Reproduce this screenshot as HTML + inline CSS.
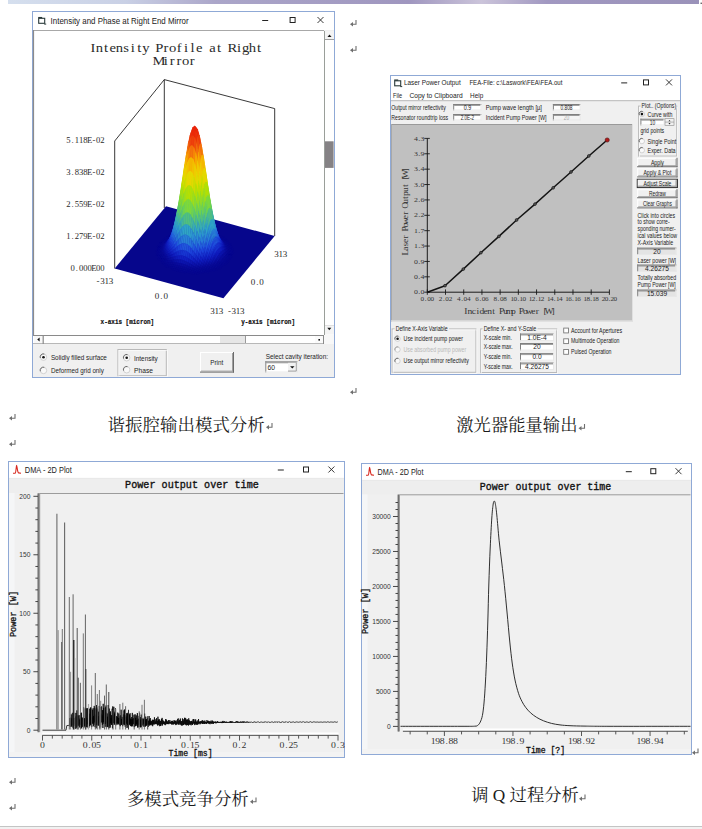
<!DOCTYPE html>
<html><head><meta charset="utf-8"><title>Laser simulation screenshots</title>
<style>html,body{margin:0;padding:0;background:#fff;width:702px;height:829px;overflow:hidden}</style>
</head><body>
<svg width="702" height="829" viewBox="0 0 702 829" style="display:block">
<defs>
<linearGradient id="topbar" x1="0" x2="1" y1="0" y2="0">
<stop offset="0" stop-color="#d5dfee"/><stop offset="0.17" stop-color="#c9d0e5"/>
<stop offset="0.3" stop-color="#aba6c9"/><stop offset="0.58" stop-color="#9f96bf"/>
<stop offset="0.685" stop-color="#cbc4da"/><stop offset="0.78" stop-color="#a198c1"/>
<stop offset="1" stop-color="#9a92b9"/></linearGradient>
</defs>
<rect x="0" y="0" width="702" height="829" fill="#ffffff"/>
<rect x="8" y="0" width="691" height="4" fill="url(#topbar)"/>
<rect x="700.5" y="2.6" width="1.5" height="1.4" fill="#6a6a6a"/>
<rect x="0" y="826" width="702" height="3" fill="#f1f1f1"/>
<line x1="0" y1="826.5" x2="702" y2="826.5" stroke="#c4c4c4" stroke-width="1"/>
<rect x="32.5" y="11.5" width="302" height="366" fill="#fff" stroke="#8fa9d6" stroke-width="1"/>
<rect x="38.7" y="18.3" width="6" height="5" fill="none" stroke="#2a3a3a" stroke-width="1.1"/>
<line x1="38.2" y1="17.6" x2="42.2" y2="17.6" stroke="#2a3a3a" stroke-width="1.3"/>
<line x1="44.2" y1="24.1" x2="46.2" y2="24.1" stroke="#2a3a3a" stroke-width="1"/>
<text x="50.6" y="23.6" font-family="'Liberation Sans',Arial,sans-serif" font-size="8.4" fill="#222" textLength="138" lengthAdjust="spacingAndGlyphs">Intensity and Phase at Right End Mirror</text>
<line x1="262.2" y1="20.5" x2="268.2" y2="20.5" stroke="#222" stroke-width="1"/>
<rect x="290.1" y="17.5" width="5" height="5" fill="none" stroke="#222" stroke-width="1"/>
<line x1="317.5" y1="17" x2="323.5" y2="23" stroke="#222" stroke-width="0.9"/>
<line x1="317.5" y1="23" x2="323.5" y2="17" stroke="#222" stroke-width="0.9"/>
<rect x="33" y="30" width="301" height="347" fill="#f0f0f0"/>
<rect x="34" y="31" width="290" height="304" fill="#ffffff"/>
<line x1="33" y1="30.5" x2="324" y2="30.5" stroke="#a8a8a8" stroke-width="1"/>
<line x1="33.5" y1="30" x2="33.5" y2="344" stroke="#8c8c8c" stroke-width="1.2"/>
<text x="74.09 78.54 85.32 89.78 94.89 101.01 107.12 112.57 116.69 123.64 127.26 134.05 138.50 144.95 150.73 156.18 160.64 167.25 171.54 177.98 183.60 186.55 194.34 198.45 203.91 210.69" y="52.2" font-family="'Liberation Serif',serif" font-size="12" fill="#2a2a2a" transform="scale(1.220,1)">Intensity&#160;Profile&#160;at&#160;Right</text>
<text x="125.01 134.13 139.25 144.70 149.15 155.60" y="64.9" font-family="'Liberation Serif',serif" font-size="12" fill="#2a2a2a" transform="scale(1.220,1)">Mirror</text>
<path d="M114.7,268.5 V141 L164.3,79.6 L274.7,108.6 V236" fill="none" stroke="#222" stroke-width="0.9"/>
<line x1="164.3" y1="79.6" x2="164.3" y2="208" stroke="#222" stroke-width="0.9"/>
<polygon points="114.7,268.5 223.4,298.2 274.7,236.0 166.0,206.3" fill="#06068c"/>
<polygon points="180.5,231.3 182.3,231.6 183.1,230.8 181.3,230.5" fill="#06078e" stroke="#06078e" stroke-width="0.35"/><polygon points="171.6,234.0 173.4,234.2 174.3,233.4 172.5,233.1" fill="#06078e" stroke="#06078e" stroke-width="0.35"/><polygon points="174.3,233.4 176.1,233.5 176.9,232.7 175.1,232.5" fill="#07078f" stroke="#07078f" stroke-width="0.35"/><polygon points="176.9,232.7 178.7,232.9 179.6,232.1 177.8,231.9" fill="#07078f" stroke="#07078f" stroke-width="0.35"/><polygon points="179.6,232.1 181.4,232.3 182.3,231.6 180.5,231.3" fill="#07078f" stroke="#07078f" stroke-width="0.35"/><polygon points="182.3,231.6 184.1,231.7 184.9,231.1 183.1,230.8" fill="#07078f" stroke="#07078f" stroke-width="0.35"/><polygon points="184.9,231.1 186.7,231.2 187.6,230.6 185.8,230.3" fill="#07078f" stroke="#07078f" stroke-width="0.35"/><polygon points="187.6,230.6 189.4,230.8 190.3,230.1 188.5,229.8" fill="#07078f" stroke="#07078f" stroke-width="0.35"/><polygon points="190.3,230.1 192.1,230.4 192.9,229.7 191.1,229.3" fill="#06078e" stroke="#06078e" stroke-width="0.35"/><polygon points="168.1,235.6 169.9,235.8 170.7,234.9 168.9,234.7" fill="#06078e" stroke="#06078e" stroke-width="0.35"/><polygon points="170.7,234.9 172.6,235.0 173.4,234.2 171.6,234.0" fill="#07078f" stroke="#07078f" stroke-width="0.35"/><polygon points="173.4,234.2 175.2,234.3 176.1,233.5 174.3,233.4" fill="#07078f" stroke="#07078f" stroke-width="0.35"/><polygon points="176.1,233.5 177.9,233.5 178.7,232.9 176.9,232.7" fill="#070890" stroke="#070890" stroke-width="0.35"/><polygon points="178.7,232.9 180.6,232.8 181.4,232.3 179.6,232.1" fill="#070890" stroke="#070890" stroke-width="0.35"/><polygon points="184.1,231.7 185.9,231.8 186.7,231.2 184.9,231.1" fill="#070890" stroke="#070890" stroke-width="0.35"/><polygon points="189.4,230.8 191.2,231.0 192.1,230.4 190.3,230.1" fill="#07078f" stroke="#07078f" stroke-width="0.35"/><polygon points="194.7,230.1 196.6,230.4 197.4,229.7 195.6,229.3" fill="#06078e" stroke="#06078e" stroke-width="0.35"/><polygon points="192.1,230.4 193.9,230.7 194.7,230.1 192.9,229.7" fill="#07078f" stroke="#07078f" stroke-width="0.35"/><polygon points="181.4,232.3 183.2,232.2 184.1,231.7 182.3,231.6" fill="#070891" stroke="#070891" stroke-width="0.35"/><polygon points="186.7,231.2 188.6,231.3 189.4,230.8 187.6,230.6" fill="#070890" stroke="#070890" stroke-width="0.35"/><polygon points="167.2,236.6 169.0,236.7 169.9,235.8 168.1,235.6" fill="#07078f" stroke="#07078f" stroke-width="0.35"/><polygon points="172.6,235.0 174.4,234.9 175.2,234.3 173.4,234.2" fill="#070891" stroke="#070891" stroke-width="0.35"/><polygon points="191.2,231.0 193.0,231.1 193.9,230.7 192.1,230.4" fill="#070891" stroke="#070891" stroke-width="0.35"/><polygon points="196.6,230.4 198.4,230.7 199.2,230.1 197.4,229.7" fill="#07078f" stroke="#07078f" stroke-width="0.35"/><polygon points="169.9,235.8 171.7,235.8 172.6,235.0 170.7,234.9" fill="#070790" stroke="#070790" stroke-width="0.35"/><polygon points="175.2,234.3 177.0,234.1 177.9,233.5 176.1,233.5" fill="#070891" stroke="#070891" stroke-width="0.35"/><polygon points="177.9,233.5 179.7,233.3 180.6,232.8 178.7,232.9" fill="#070892" stroke="#070892" stroke-width="0.35"/><polygon points="180.6,232.8 182.4,232.6 183.2,232.2 181.4,232.3" fill="#070993" stroke="#070993" stroke-width="0.35"/><polygon points="185.9,231.8 187.7,231.7 188.6,231.3 186.7,231.2" fill="#070892" stroke="#070892" stroke-width="0.35"/><polygon points="188.6,231.3 190.4,231.4 191.2,231.0 189.4,230.8" fill="#070891" stroke="#070891" stroke-width="0.35"/><polygon points="193.9,230.7 195.7,230.9 196.6,230.4 194.7,230.1" fill="#070790" stroke="#070790" stroke-width="0.35"/><polygon points="183.2,232.2 185.0,232.1 185.9,231.8 184.1,231.7" fill="#070993" stroke="#070993" stroke-width="0.35"/><polygon points="169.0,236.7 170.8,236.6 171.7,235.8 169.9,235.8" fill="#070890" stroke="#070890" stroke-width="0.35"/><polygon points="174.4,234.9 176.2,234.5 177.0,234.1 175.2,234.3" fill="#070993" stroke="#070993" stroke-width="0.35"/><polygon points="187.7,231.7 189.5,231.4 190.4,231.4 188.6,231.3" fill="#080994" stroke="#080994" stroke-width="0.35"/><polygon points="193.0,231.1 194.8,231.2 195.7,230.9 193.9,230.7" fill="#070892" stroke="#070892" stroke-width="0.35"/><polygon points="198.4,230.7 200.2,231.1 201.0,230.5 199.2,230.1" fill="#07078f" stroke="#07078f" stroke-width="0.35"/><polygon points="166.4,237.5 168.2,237.6 169.0,236.7 167.2,236.6" fill="#07078f" stroke="#07078f" stroke-width="0.35"/><polygon points="171.7,235.8 173.5,235.6 174.4,234.9 172.6,235.0" fill="#070892" stroke="#070892" stroke-width="0.35"/><polygon points="177.0,234.1 178.8,233.6 179.7,233.3 177.9,233.5" fill="#080994" stroke="#080994" stroke-width="0.35"/><polygon points="179.7,233.3 181.5,232.8 182.4,232.6 180.6,232.8" fill="#080a95" stroke="#080a95" stroke-width="0.35"/><polygon points="182.4,232.6 184.2,232.2 185.0,232.1 183.2,232.2" fill="#080a95" stroke="#080a95" stroke-width="0.35"/><polygon points="190.4,231.4 192.2,231.3 193.0,231.1 191.2,231.0" fill="#070993" stroke="#070993" stroke-width="0.35"/><polygon points="195.7,230.9 197.5,231.2 198.4,230.7 196.6,230.4" fill="#070890" stroke="#070890" stroke-width="0.35"/><polygon points="185.0,232.1 186.8,231.7 187.7,231.7 185.9,231.8" fill="#080a95" stroke="#080a95" stroke-width="0.35"/><polygon points="200.2,231.1 202.0,231.4 202.8,230.9 201.0,230.5" fill="#070790" stroke="#070790" stroke-width="0.35"/><polygon points="165.5,238.5 167.3,238.4 168.2,237.6 166.4,237.5" fill="#070790" stroke="#070790" stroke-width="0.35"/><polygon points="170.8,236.6 172.7,236.2 173.5,235.6 171.7,235.8" fill="#070993" stroke="#070993" stroke-width="0.35"/><polygon points="176.2,234.5 178.0,233.8 178.8,233.6 177.0,234.1" fill="#080b98" stroke="#080b98" stroke-width="0.35"/><polygon points="189.5,231.4 191.3,231.1 192.2,231.3 190.4,231.4" fill="#080b98" stroke="#080b98" stroke-width="0.35"/><polygon points="194.8,231.2 196.7,231.3 197.5,231.2 195.7,230.9" fill="#070993" stroke="#070993" stroke-width="0.35"/><polygon points="162.8,239.3 164.7,239.4 165.5,238.5 163.7,238.3" fill="#06078e" stroke="#06078e" stroke-width="0.35"/><polygon points="168.2,237.6 170.0,237.3 170.8,236.6 169.0,236.7" fill="#070891" stroke="#070891" stroke-width="0.35"/><polygon points="173.5,235.6 175.3,235.0 176.2,234.5 174.4,234.9" fill="#080a95" stroke="#080a95" stroke-width="0.35"/><polygon points="178.8,233.6 180.7,232.8 181.5,232.8 179.7,233.3" fill="#090c9b" stroke="#090c9b" stroke-width="0.35"/><polygon points="181.5,232.8 183.3,232.0 184.2,232.2 182.4,232.6" fill="#090d9c" stroke="#090d9c" stroke-width="0.35"/><polygon points="184.2,232.2 186.0,231.4 186.8,231.7 185.0,232.1" fill="#090d9c" stroke="#090d9c" stroke-width="0.35"/><polygon points="186.8,231.7 188.7,231.2 189.5,231.4 187.7,231.7" fill="#090c9b" stroke="#090c9b" stroke-width="0.35"/><polygon points="192.2,231.3 194.0,231.2 194.8,231.2 193.0,231.1" fill="#080a95" stroke="#080a95" stroke-width="0.35"/><polygon points="197.5,231.2 199.3,231.4 200.2,231.1 198.4,230.7" fill="#070891" stroke="#070891" stroke-width="0.35"/><polygon points="202.8,230.9 204.7,231.3 205.5,230.6 203.7,230.2" fill="#06078e" stroke="#06078e" stroke-width="0.35"/><polygon points="162.0,240.3 163.8,240.4 164.7,239.4 162.8,239.3" fill="#07078f" stroke="#07078f" stroke-width="0.35"/><polygon points="167.3,238.4 169.1,238.1 170.0,237.3 168.2,237.6" fill="#070892" stroke="#070892" stroke-width="0.35"/><polygon points="172.7,236.2 174.5,235.3 175.3,235.0 173.5,235.6" fill="#080b99" stroke="#080b99" stroke-width="0.35"/><polygon points="178.0,233.8 179.8,232.6 180.7,232.8 178.8,233.6" fill="#0a10a3" stroke="#0a10a3" stroke-width="0.35"/><polygon points="186.0,231.4 187.8,230.4 188.7,231.2 186.8,231.7" fill="#0b12a6" stroke="#0b12a6" stroke-width="0.35"/><polygon points="191.3,231.1 193.1,230.6 194.0,231.2 192.2,231.3" fill="#0a0e9e" stroke="#0a0e9e" stroke-width="0.35"/><polygon points="196.7,231.3 198.5,231.3 199.3,231.4 197.5,231.2" fill="#080995" stroke="#080995" stroke-width="0.35"/><polygon points="199.3,231.4 201.1,231.6 202.0,231.4 200.2,231.1" fill="#070892" stroke="#070892" stroke-width="0.35"/><polygon points="202.0,231.4 203.8,231.7 204.7,231.3 202.8,230.9" fill="#070890" stroke="#070890" stroke-width="0.35"/><polygon points="204.7,231.3 206.5,231.7 207.3,231.1 205.5,230.6" fill="#07078f" stroke="#07078f" stroke-width="0.35"/><polygon points="164.7,239.4 166.5,239.3 167.3,238.4 165.5,238.5" fill="#070890" stroke="#070890" stroke-width="0.35"/><polygon points="170.0,237.3 171.8,236.8 172.7,236.2 170.8,236.6" fill="#080995" stroke="#080995" stroke-width="0.35"/><polygon points="175.3,235.0 177.1,233.9 178.0,233.8 176.2,234.5" fill="#0a0e9e" stroke="#0a0e9e" stroke-width="0.35"/><polygon points="180.7,232.8 182.5,231.5 183.3,232.0 181.5,232.8" fill="#0b12a6" stroke="#0b12a6" stroke-width="0.35"/><polygon points="183.3,232.0 185.1,230.8 186.0,231.4 184.2,232.2" fill="#0b12a7" stroke="#0b12a7" stroke-width="0.35"/><polygon points="188.7,231.2 190.5,230.4 191.3,231.1 189.5,231.4" fill="#0a10a3" stroke="#0a10a3" stroke-width="0.35"/><polygon points="194.0,231.2 195.8,231.0 196.7,231.3 194.8,231.2" fill="#080b99" stroke="#080b99" stroke-width="0.35"/><polygon points="198.5,231.3 200.3,231.4 201.1,231.6 199.3,231.4" fill="#080a96" stroke="#080a96" stroke-width="0.35"/><polygon points="203.8,231.7 205.6,232.1 206.5,231.7 204.7,231.3" fill="#070891" stroke="#070891" stroke-width="0.35"/><polygon points="163.8,240.4 165.6,240.3 166.5,239.3 164.7,239.4" fill="#070891" stroke="#070891" stroke-width="0.35"/><polygon points="169.1,238.1 170.9,237.4 171.8,236.8 170.0,237.3" fill="#080a96" stroke="#080a96" stroke-width="0.35"/><polygon points="174.5,235.3 176.3,233.9 177.1,233.9 175.3,235.0" fill="#0b11a5" stroke="#0b11a5" stroke-width="0.35"/><polygon points="179.8,232.6 181.6,230.8 182.5,231.5 180.7,232.8" fill="#0d17b1" stroke="#0d17b1" stroke-width="0.35"/><polygon points="185.1,230.8 186.9,229.3 187.8,230.4 186.0,231.4" fill="#0e18b4" stroke="#0e18b4" stroke-width="0.35"/><polygon points="187.8,230.4 189.6,229.2 190.5,230.4 188.7,231.2" fill="#0d17b1" stroke="#0d17b1" stroke-width="0.35"/><polygon points="193.1,230.6 194.9,230.1 195.8,231.0 194.0,231.2" fill="#0b11a5" stroke="#0b11a5" stroke-width="0.35"/><polygon points="161.1,241.3 162.9,241.4 163.8,240.4 162.0,240.3" fill="#07078f" stroke="#07078f" stroke-width="0.35"/><polygon points="166.5,239.3 168.3,238.9 169.1,238.1 167.3,238.4" fill="#070993" stroke="#070993" stroke-width="0.35"/><polygon points="171.8,236.8 173.6,235.7 174.5,235.3 172.7,236.2" fill="#090d9d" stroke="#090d9d" stroke-width="0.35"/><polygon points="177.1,233.9 178.9,232.2 179.8,232.6 178.0,233.8" fill="#0c14ac" stroke="#0c14ac" stroke-width="0.35"/><polygon points="182.5,231.5 184.3,229.8 185.1,230.8 183.3,232.0" fill="#0e18b4" stroke="#0e18b4" stroke-width="0.35"/><polygon points="190.5,230.4 192.3,229.5 193.1,230.6 191.3,231.1" fill="#0c14ac" stroke="#0c14ac" stroke-width="0.35"/><polygon points="195.8,231.0 197.6,230.8 198.5,231.3 196.7,231.3" fill="#090d9d" stroke="#090d9d" stroke-width="0.35"/><polygon points="201.1,231.6 202.9,231.9 203.8,231.7 202.0,231.4" fill="#070993" stroke="#070993" stroke-width="0.35"/><polygon points="206.5,231.7 208.3,232.2 209.1,231.5 207.3,231.1" fill="#07078f" stroke="#07078f" stroke-width="0.35"/><polygon points="160.3,242.3 162.1,242.4 162.9,241.4 161.1,241.3" fill="#07078f" stroke="#07078f" stroke-width="0.35"/><polygon points="165.6,240.3 167.4,239.8 168.3,238.9 166.5,239.3" fill="#080994" stroke="#080994" stroke-width="0.35"/><polygon points="170.9,237.4 172.8,236.1 173.6,235.7 171.8,236.8" fill="#0a10a2" stroke="#0a10a2" stroke-width="0.35"/><polygon points="176.3,233.9 178.1,231.8 178.9,232.2 177.1,233.9" fill="#0e19b6" stroke="#0e19b6" stroke-width="0.35"/><polygon points="181.6,230.8 183.4,228.4 184.3,229.8 182.5,231.5" fill="#1121c2" stroke="#1121c2" stroke-width="0.35"/><polygon points="184.3,229.8 186.1,227.6 186.9,229.3 185.1,230.8" fill="#1122c3" stroke="#1122c3" stroke-width="0.35"/><polygon points="186.9,229.3 188.8,227.3 189.6,229.2 187.8,230.4" fill="#1121c2" stroke="#1121c2" stroke-width="0.35"/><polygon points="189.6,229.2 191.4,227.7 192.3,229.5 190.5,230.4" fill="#101dbf" stroke="#101dbf" stroke-width="0.35"/><polygon points="194.9,230.1 196.8,229.6 197.6,230.8 195.8,231.0" fill="#0c14ac" stroke="#0c14ac" stroke-width="0.35"/><polygon points="197.6,230.8 199.4,230.6 200.3,231.4 198.5,231.3" fill="#0a10a2" stroke="#0a10a2" stroke-width="0.35"/><polygon points="200.3,231.4 202.1,231.5 202.9,231.9 201.1,231.6" fill="#080b99" stroke="#080b99" stroke-width="0.35"/><polygon points="202.9,231.9 204.8,232.2 205.6,232.1 203.8,231.7" fill="#080994" stroke="#080994" stroke-width="0.35"/><polygon points="205.6,232.1 207.4,232.6 208.3,232.2 206.5,231.7" fill="#070891" stroke="#070891" stroke-width="0.35"/><polygon points="208.3,232.2 210.1,232.6 210.9,232.0 209.1,231.5" fill="#07078f" stroke="#07078f" stroke-width="0.35"/><polygon points="162.9,241.4 164.8,241.2 165.6,240.3 163.8,240.4" fill="#070891" stroke="#070891" stroke-width="0.35"/><polygon points="168.3,238.9 170.1,238.0 170.9,237.4 169.1,238.1" fill="#080b99" stroke="#080b99" stroke-width="0.35"/><polygon points="173.6,235.7 175.4,233.9 176.3,233.9 174.5,235.3" fill="#0c14ac" stroke="#0c14ac" stroke-width="0.35"/><polygon points="178.9,232.2 180.8,229.9 181.6,230.8 179.8,232.6" fill="#101dbf" stroke="#101dbf" stroke-width="0.35"/><polygon points="192.3,229.5 194.1,228.5 194.9,230.1 193.1,230.6" fill="#0e19b6" stroke="#0e19b6" stroke-width="0.35"/><polygon points="183.4,228.4 185.2,225.4 186.1,227.6 184.3,229.8" fill="#1631cd" stroke="#1631cd" stroke-width="0.35"/><polygon points="196.8,229.6 198.6,229.1 199.4,230.6 197.6,230.8" fill="#0e18b3" stroke="#0e18b3" stroke-width="0.35"/><polygon points="202.1,231.5 203.9,231.8 204.8,232.2 202.9,231.9" fill="#090c9b" stroke="#090c9b" stroke-width="0.35"/><polygon points="207.4,232.6 209.2,233.0 210.1,232.6 208.3,232.2" fill="#070891" stroke="#070891" stroke-width="0.35"/><polygon points="162.1,242.4 163.9,242.2 164.8,241.2 162.9,241.4" fill="#070891" stroke="#070891" stroke-width="0.35"/><polygon points="167.4,239.8 169.2,238.8 170.1,238.0 168.3,238.9" fill="#090c9b" stroke="#090c9b" stroke-width="0.35"/><polygon points="172.8,236.1 174.6,234.0 175.4,233.9 173.6,235.7" fill="#0e18b3" stroke="#0e18b3" stroke-width="0.35"/><polygon points="178.1,231.8 179.9,228.8 180.8,229.9 178.9,232.2" fill="#1327c6" stroke="#1327c6" stroke-width="0.35"/><polygon points="186.1,227.6 187.9,224.9 188.8,227.3 186.9,229.3" fill="#1631cd" stroke="#1631cd" stroke-width="0.35"/><polygon points="188.8,227.3 190.6,225.2 191.4,227.7 189.6,229.2" fill="#152dcb" stroke="#152dcb" stroke-width="0.35"/><polygon points="191.4,227.7 193.2,226.1 194.1,228.5 192.3,229.5" fill="#1327c6" stroke="#1327c6" stroke-width="0.35"/><polygon points="159.4,243.4 161.2,243.4 162.1,242.4 160.3,242.3" fill="#07078f" stroke="#07078f" stroke-width="0.35"/><polygon points="164.8,241.2 166.6,240.7 167.4,239.8 165.6,240.3" fill="#080994" stroke="#080994" stroke-width="0.35"/><polygon points="170.1,238.0 171.9,236.5 172.8,236.1 170.9,237.4" fill="#0b12a6" stroke="#0b12a6" stroke-width="0.35"/><polygon points="175.4,233.9 177.2,231.3 178.1,231.8 176.3,233.9" fill="#101ec0" stroke="#101ec0" stroke-width="0.35"/><polygon points="180.8,229.9 182.6,226.8 183.4,228.4 181.6,230.8" fill="#152dcb" stroke="#152dcb" stroke-width="0.35"/><polygon points="194.1,228.5 195.9,227.5 196.8,229.6 194.9,230.1" fill="#101ec0" stroke="#101ec0" stroke-width="0.35"/><polygon points="199.4,230.6 201.2,230.6 202.1,231.5 200.3,231.4" fill="#0b12a6" stroke="#0b12a6" stroke-width="0.35"/><polygon points="204.8,232.2 206.6,232.6 207.4,232.6 205.6,232.1" fill="#080994" stroke="#080994" stroke-width="0.35"/><polygon points="210.1,232.6 211.9,233.2 212.8,232.5 210.9,232.0" fill="#07078f" stroke="#07078f" stroke-width="0.35"/><polygon points="185.2,225.4 187.0,221.8 187.9,224.9 186.1,227.6" fill="#1c43db" stroke="#1c43db" stroke-width="0.35"/><polygon points="158.6,244.4 160.4,244.5 161.2,243.4 159.4,243.4" fill="#07078f" stroke="#07078f" stroke-width="0.35"/><polygon points="163.9,242.2 165.7,241.7 166.6,240.7 164.8,241.2" fill="#080994" stroke="#080994" stroke-width="0.35"/><polygon points="169.2,238.8 171.0,237.1 171.9,236.5 170.1,238.0" fill="#0c13a9" stroke="#0c13a9" stroke-width="0.35"/><polygon points="174.6,234.0 176.4,230.9 177.2,231.3 175.4,233.9" fill="#1225c5" stroke="#1225c5" stroke-width="0.35"/><polygon points="179.9,228.8 181.7,224.9 182.6,226.8 180.8,229.9" fill="#193ad4" stroke="#193ad4" stroke-width="0.35"/><polygon points="182.6,226.8 184.4,222.9 185.2,225.4 183.4,228.4" fill="#1c41d9" stroke="#1c41d9" stroke-width="0.35"/><polygon points="187.9,224.9 189.7,221.8 190.6,225.2 188.8,227.3" fill="#1c41d9" stroke="#1c41d9" stroke-width="0.35"/><polygon points="190.6,225.2 192.4,222.8 193.2,226.1 191.4,227.7" fill="#193ad4" stroke="#193ad4" stroke-width="0.35"/><polygon points="193.2,226.1 195.0,224.5 195.9,227.5 194.1,228.5" fill="#1631cd" stroke="#1631cd" stroke-width="0.35"/><polygon points="195.9,227.5 197.7,226.6 198.6,229.1 196.8,229.6" fill="#1225c5" stroke="#1225c5" stroke-width="0.35"/><polygon points="198.6,229.1 200.4,228.7 201.2,230.6 199.4,230.6" fill="#0f1bb9" stroke="#0f1bb9" stroke-width="0.35"/><polygon points="201.2,230.6 203.0,230.6 203.9,231.8 202.1,231.5" fill="#0c13a9" stroke="#0c13a9" stroke-width="0.35"/><polygon points="203.9,231.8 205.7,232.1 206.6,232.6 204.8,232.2" fill="#090d9c" stroke="#090d9c" stroke-width="0.35"/><polygon points="206.6,232.6 208.4,233.0 209.2,233.0 207.4,232.6" fill="#080994" stroke="#080994" stroke-width="0.35"/><polygon points="209.2,233.0 211.0,233.5 211.9,233.2 210.1,232.6" fill="#070891" stroke="#070891" stroke-width="0.35"/><polygon points="211.9,233.2 213.7,233.7 214.6,233.0 212.8,232.5" fill="#07078f" stroke="#07078f" stroke-width="0.35"/><polygon points="161.2,243.4 163.0,243.3 163.9,242.2 162.1,242.4" fill="#070891" stroke="#070891" stroke-width="0.35"/><polygon points="166.6,240.7 168.4,239.6 169.2,238.8 167.4,239.8" fill="#090d9c" stroke="#090d9c" stroke-width="0.35"/><polygon points="171.9,236.5 173.7,234.1 174.6,234.0 172.8,236.1" fill="#0f1bb9" stroke="#0f1bb9" stroke-width="0.35"/><polygon points="177.2,231.3 179.0,227.7 179.9,228.8 178.1,231.8" fill="#1631cd" stroke="#1631cd" stroke-width="0.35"/><polygon points="181.7,224.9 183.5,220.1 184.4,222.9 182.6,226.8" fill="#2156dc" stroke="#2156dc" stroke-width="0.35"/><polygon points="187.0,221.8 188.9,217.6 189.7,221.8 187.9,224.9" fill="#225ddc" stroke="#225ddc" stroke-width="0.35"/><polygon points="195.0,224.5 196.9,223.0 197.7,226.6 195.9,227.5" fill="#193ad4" stroke="#193ad4" stroke-width="0.35"/><polygon points="200.4,228.7 202.2,228.6 203.0,230.6 201.2,230.6" fill="#101dbf" stroke="#101dbf" stroke-width="0.35"/><polygon points="205.7,232.1 207.5,232.5 208.4,233.0 206.6,232.6" fill="#090d9d" stroke="#090d9d" stroke-width="0.35"/><polygon points="211.0,233.5 212.9,234.1 213.7,233.7 211.9,233.2" fill="#070891" stroke="#070891" stroke-width="0.35"/><polygon points="160.4,244.5 162.2,244.4 163.0,243.3 161.2,243.4" fill="#070891" stroke="#070891" stroke-width="0.35"/><polygon points="165.7,241.7 167.5,240.6 168.4,239.6 166.6,240.7" fill="#090d9d" stroke="#090d9d" stroke-width="0.35"/><polygon points="171.0,237.1 172.9,234.5 173.7,234.1 171.9,236.5" fill="#101dbf" stroke="#101dbf" stroke-width="0.35"/><polygon points="176.4,230.9 178.2,226.8 179.0,227.7 177.2,231.3" fill="#193ad4" stroke="#193ad4" stroke-width="0.35"/><polygon points="184.4,222.9 186.2,218.2 187.0,221.8 185.2,225.4" fill="#225ddc" stroke="#225ddc" stroke-width="0.35"/><polygon points="189.7,221.8 191.5,218.4 192.4,222.8 190.6,225.2" fill="#2156dc" stroke="#2156dc" stroke-width="0.35"/><polygon points="192.4,222.8 194.2,220.3 195.0,224.5 193.2,226.1" fill="#1e48de" stroke="#1e48de" stroke-width="0.35"/><polygon points="157.7,245.5 159.5,245.6 160.4,244.5 158.6,244.4" fill="#07078f" stroke="#07078f" stroke-width="0.35"/><polygon points="163.0,243.3 164.9,242.8 165.7,241.7 163.9,242.2" fill="#080994" stroke="#080994" stroke-width="0.35"/><polygon points="168.4,239.6 170.2,237.9 171.0,237.1 169.2,238.8" fill="#0c14ac" stroke="#0c14ac" stroke-width="0.35"/><polygon points="173.7,234.1 175.5,230.7 176.4,230.9 174.6,234.0" fill="#142bca" stroke="#142bca" stroke-width="0.35"/><polygon points="179.0,227.7 180.9,223.0 181.7,224.9 179.9,228.8" fill="#1e48de" stroke="#1e48de" stroke-width="0.35"/><polygon points="197.7,226.6 199.5,225.8 200.4,228.7 198.6,229.1" fill="#142bca" stroke="#142bca" stroke-width="0.35"/><polygon points="203.0,230.6 204.9,230.8 205.7,232.1 203.9,231.8" fill="#0c14ac" stroke="#0c14ac" stroke-width="0.35"/><polygon points="208.4,233.0 210.2,233.6 211.0,233.5 209.2,233.0" fill="#080994" stroke="#080994" stroke-width="0.35"/><polygon points="213.7,233.7 215.5,234.3 216.4,233.6 214.6,233.0" fill="#07078f" stroke="#07078f" stroke-width="0.35"/><polygon points="183.5,220.1 185.3,214.2 186.2,218.2 184.4,222.9" fill="#287ad8" stroke="#287ad8" stroke-width="0.35"/><polygon points="188.9,217.6 190.7,213.2 191.5,218.4 189.7,221.8" fill="#287ad8" stroke="#287ad8" stroke-width="0.35"/><polygon points="194.2,220.3 196.0,218.1 196.9,223.0 195.0,224.5" fill="#2159dc" stroke="#2159dc" stroke-width="0.35"/><polygon points="156.9,246.6 158.7,246.7 159.5,245.6 157.7,245.5" fill="#06078e" stroke="#06078e" stroke-width="0.35"/><polygon points="162.2,244.4 164.0,243.9 164.9,242.8 163.0,243.3" fill="#080994" stroke="#080994" stroke-width="0.35"/><polygon points="167.5,240.6 169.3,238.8 170.2,237.9 168.4,239.6" fill="#0c15ad" stroke="#0c15ad" stroke-width="0.35"/><polygon points="172.9,234.5 174.7,230.8 175.5,230.7 173.7,234.1" fill="#1631cd" stroke="#1631cd" stroke-width="0.35"/><polygon points="178.2,226.8 180.0,221.3 180.9,223.0 179.0,227.7" fill="#2159dc" stroke="#2159dc" stroke-width="0.35"/><polygon points="180.9,223.0 182.7,217.2 183.5,220.1 181.7,224.9" fill="#256dda" stroke="#256dda" stroke-width="0.35"/><polygon points="186.2,218.2 188.0,212.8 188.9,217.6 187.0,221.8" fill="#287ed7" stroke="#287ed7" stroke-width="0.35"/><polygon points="191.5,218.4 193.3,215.0 194.2,220.3 192.4,222.8" fill="#256dda" stroke="#256dda" stroke-width="0.35"/><polygon points="196.9,223.0 198.7,221.7 199.5,225.8 197.7,226.6" fill="#1c43db" stroke="#1c43db" stroke-width="0.35"/><polygon points="199.5,225.8 201.3,225.4 202.2,228.6 200.4,228.7" fill="#1631cd" stroke="#1631cd" stroke-width="0.35"/><polygon points="202.2,228.6 204.0,228.6 204.9,230.8 203.0,230.6" fill="#1120c1" stroke="#1120c1" stroke-width="0.35"/><polygon points="204.9,230.8 206.7,231.2 207.5,232.5 205.7,232.1" fill="#0c15ad" stroke="#0c15ad" stroke-width="0.35"/><polygon points="207.5,232.5 209.3,233.1 210.2,233.6 208.4,233.0" fill="#090d9d" stroke="#090d9d" stroke-width="0.35"/><polygon points="210.2,233.6 212.0,234.2 212.9,234.1 211.0,233.5" fill="#080994" stroke="#080994" stroke-width="0.35"/><polygon points="212.9,234.1 214.7,234.7 215.5,234.3 213.7,233.7" fill="#070891" stroke="#070891" stroke-width="0.35"/><polygon points="215.5,234.3 217.3,234.8 218.2,234.1 216.4,233.6" fill="#06078e" stroke="#06078e" stroke-width="0.35"/><polygon points="159.5,245.6 161.3,245.6 162.2,244.4 160.4,244.5" fill="#070891" stroke="#070891" stroke-width="0.35"/><polygon points="164.9,242.8 166.7,241.7 167.5,240.6 165.7,241.7" fill="#090d9d" stroke="#090d9d" stroke-width="0.35"/><polygon points="170.2,237.9 172.0,235.1 172.9,234.5 171.0,237.1" fill="#1120c1" stroke="#1120c1" stroke-width="0.35"/><polygon points="175.5,230.7 177.3,226.0 178.2,226.8 176.4,230.9" fill="#1c43db" stroke="#1c43db" stroke-width="0.35"/><polygon points="180.0,221.3 181.8,214.5 182.7,217.2 180.9,223.0" fill="#2981d6" stroke="#2981d6" stroke-width="0.35"/><polygon points="185.3,214.2 187.1,207.7 188.0,212.8 186.2,218.2" fill="#2c97cd" stroke="#2c97cd" stroke-width="0.35"/><polygon points="190.7,213.2 192.5,208.6 193.3,215.0 191.5,218.4" fill="#2b8fd0" stroke="#2b8fd0" stroke-width="0.35"/><polygon points="193.3,215.0 195.1,211.8 196.0,218.1 194.2,220.3" fill="#2981d6" stroke="#2981d6" stroke-width="0.35"/><polygon points="198.7,221.7 200.5,220.8 201.3,225.4 199.5,225.8" fill="#1f4cde" stroke="#1f4cde" stroke-width="0.35"/><polygon points="204.0,228.6 205.8,229.0 206.7,231.2 204.9,230.8" fill="#1121c2" stroke="#1121c2" stroke-width="0.35"/><polygon points="209.3,233.1 211.1,233.7 212.0,234.2 210.2,233.6" fill="#090d9c" stroke="#090d9c" stroke-width="0.35"/><polygon points="214.7,234.7 216.5,235.4 217.3,234.8 215.5,234.3" fill="#070890" stroke="#070890" stroke-width="0.35"/><polygon points="158.7,246.7 160.5,246.7 161.3,245.6 159.5,245.6" fill="#070890" stroke="#070890" stroke-width="0.35"/><polygon points="164.0,243.9 165.8,242.9 166.7,241.7 164.9,242.8" fill="#090d9c" stroke="#090d9c" stroke-width="0.35"/><polygon points="169.3,238.8 171.1,236.0 172.0,235.1 170.2,237.9" fill="#1121c2" stroke="#1121c2" stroke-width="0.35"/><polygon points="174.7,230.8 176.5,225.7 177.3,226.0 175.5,230.7" fill="#1f4cde" stroke="#1f4cde" stroke-width="0.35"/><polygon points="182.7,217.2 184.5,210.2 185.3,214.2 183.5,220.1" fill="#2b8fd0" stroke="#2b8fd0" stroke-width="0.35"/><polygon points="188.0,212.8 189.8,207.1 190.7,213.2 188.9,217.6" fill="#2c97cd" stroke="#2c97cd" stroke-width="0.35"/><polygon points="196.0,218.1 197.8,216.1 198.7,221.7 196.9,223.0" fill="#2469da" stroke="#2469da" stroke-width="0.35"/><polygon points="161.3,245.6 163.1,245.1 164.0,243.9 162.2,244.4" fill="#080994" stroke="#080994" stroke-width="0.35"/><polygon points="166.7,241.7 168.5,239.9 169.3,238.8 167.5,240.6" fill="#0c15ad" stroke="#0c15ad" stroke-width="0.35"/><polygon points="172.0,235.1 173.8,231.2 174.7,230.8 172.9,234.5" fill="#1734d0" stroke="#1734d0" stroke-width="0.35"/><polygon points="177.3,226.0 179.1,219.9 180.0,221.3 178.2,226.8" fill="#2469da" stroke="#2469da" stroke-width="0.35"/><polygon points="201.3,225.4 203.1,225.2 204.0,228.6 202.2,228.6" fill="#1734d0" stroke="#1734d0" stroke-width="0.35"/><polygon points="206.7,231.2 208.5,231.8 209.3,233.1 207.5,232.5" fill="#0c15ad" stroke="#0c15ad" stroke-width="0.35"/><polygon points="212.0,234.2 213.8,234.9 214.7,234.7 212.9,234.1" fill="#080994" stroke="#080994" stroke-width="0.35"/><polygon points="192.5,208.6 194.3,204.3 195.1,211.8 193.3,215.0" fill="#2ea3c9" stroke="#2ea3c9" stroke-width="0.35"/><polygon points="181.8,214.5 183.6,206.5 184.5,210.2 182.7,217.2" fill="#2ea3c9" stroke="#2ea3c9" stroke-width="0.35"/><polygon points="187.1,207.7 189.0,200.6 189.8,207.1 188.0,212.8" fill="#3aaeae" stroke="#3aaeae" stroke-width="0.35"/><polygon points="197.8,216.1 199.6,214.7 200.5,220.8 198.7,221.7" fill="#2776d9" stroke="#2776d9" stroke-width="0.35"/><polygon points="160.5,246.7 162.3,246.4 163.1,245.1 161.3,245.6" fill="#070993" stroke="#070993" stroke-width="0.35"/><polygon points="165.8,242.9 167.6,241.3 168.5,239.9 166.7,241.7" fill="#0c14ac" stroke="#0c14ac" stroke-width="0.35"/><polygon points="171.1,236.0 173.0,232.0 173.8,231.2 172.0,235.1" fill="#1836d1" stroke="#1836d1" stroke-width="0.35"/><polygon points="176.5,225.7 178.3,219.0 179.1,219.9 177.3,226.0" fill="#2776d9" stroke="#2776d9" stroke-width="0.35"/><polygon points="179.1,219.9 181.0,212.3 181.8,214.5 180.0,221.3" fill="#2b8fd0" stroke="#2b8fd0" stroke-width="0.35"/><polygon points="184.5,210.2 186.3,202.4 187.1,207.7 185.3,214.2" fill="#37abb5" stroke="#37abb5" stroke-width="0.35"/><polygon points="189.8,207.1 191.6,201.3 192.5,208.6 190.7,213.2" fill="#37abb5" stroke="#37abb5" stroke-width="0.35"/><polygon points="195.1,211.8 197.0,209.1 197.8,216.1 196.0,218.1" fill="#2b8fd0" stroke="#2b8fd0" stroke-width="0.35"/><polygon points="200.5,220.8 202.3,220.4 203.1,225.2 201.3,225.4" fill="#2052dd" stroke="#2052dd" stroke-width="0.35"/><polygon points="203.1,225.2 205.0,225.5 205.8,229.0 204.0,228.6" fill="#1836d1" stroke="#1836d1" stroke-width="0.35"/><polygon points="205.8,229.0 207.6,229.6 208.5,231.8 206.7,231.2" fill="#1121c2" stroke="#1121c2" stroke-width="0.35"/><polygon points="208.5,231.8 210.3,232.6 211.1,233.7 209.3,233.1" fill="#0c14ac" stroke="#0c14ac" stroke-width="0.35"/><polygon points="211.1,233.7 213.0,234.5 213.8,234.9 212.0,234.2" fill="#090c9b" stroke="#090c9b" stroke-width="0.35"/><polygon points="213.8,234.9 215.6,235.6 216.5,235.4 214.7,234.7" fill="#070993" stroke="#070993" stroke-width="0.35"/><polygon points="216.5,235.4 218.3,236.0 219.1,235.4 217.3,234.8" fill="#070790" stroke="#070790" stroke-width="0.35"/><polygon points="157.8,247.9 159.6,247.9 160.5,246.7 158.7,246.7" fill="#070790" stroke="#070790" stroke-width="0.35"/><polygon points="163.1,245.1 165.0,244.3 165.8,242.9 164.0,243.9" fill="#090c9b" stroke="#090c9b" stroke-width="0.35"/><polygon points="168.5,239.9 170.3,237.2 171.1,236.0 169.3,238.8" fill="#1121c2" stroke="#1121c2" stroke-width="0.35"/><polygon points="173.8,231.2 175.6,225.8 176.5,225.7 174.7,230.8" fill="#2052dd" stroke="#2052dd" stroke-width="0.35"/><polygon points="178.3,219.0 180.1,210.8 181.0,212.3 179.1,219.9" fill="#2d9acc" stroke="#2d9acc" stroke-width="0.35"/><polygon points="183.6,206.5 185.4,197.4 186.3,202.4 184.5,210.2" fill="#4abb8e" stroke="#4abb8e" stroke-width="0.35"/><polygon points="189.0,200.6 190.8,193.4 191.6,201.3 189.8,207.1" fill="#52c17c" stroke="#52c17c" stroke-width="0.35"/><polygon points="191.6,201.3 193.4,195.8 194.3,204.3 192.5,208.6" fill="#4abb8e" stroke="#4abb8e" stroke-width="0.35"/><polygon points="194.3,204.3 196.1,200.6 197.0,209.1 195.1,211.8" fill="#3aaeae" stroke="#3aaeae" stroke-width="0.35"/><polygon points="197.0,209.1 198.8,207.0 199.6,214.7 197.8,216.1" fill="#2d9acc" stroke="#2d9acc" stroke-width="0.35"/><polygon points="202.3,220.4 204.1,220.6 205.0,225.5 203.1,225.2" fill="#2156dc" stroke="#2156dc" stroke-width="0.35"/><polygon points="207.6,229.6 209.4,230.5 210.3,232.6 208.5,231.8" fill="#1120c1" stroke="#1120c1" stroke-width="0.35"/><polygon points="213.0,234.5 214.8,235.4 215.6,235.6 213.8,234.9" fill="#080b99" stroke="#080b99" stroke-width="0.35"/><polygon points="218.3,236.0 220.1,236.7 221.0,236.0 219.1,235.4" fill="#07078f" stroke="#07078f" stroke-width="0.35"/><polygon points="157.0,249.0 158.8,249.1 159.6,247.9 157.8,247.9" fill="#07078f" stroke="#07078f" stroke-width="0.35"/><polygon points="162.3,246.4 164.1,245.7 165.0,244.3 163.1,245.1" fill="#080b99" stroke="#080b99" stroke-width="0.35"/><polygon points="167.6,241.3 169.4,238.7 170.3,237.2 168.5,239.9" fill="#1120c1" stroke="#1120c1" stroke-width="0.35"/><polygon points="173.0,232.0 174.8,226.5 175.6,225.8 173.8,231.2" fill="#2156dc" stroke="#2156dc" stroke-width="0.35"/><polygon points="181.0,212.3 182.8,203.3 183.6,206.5 181.8,214.5" fill="#3aaeae" stroke="#3aaeae" stroke-width="0.35"/><polygon points="186.3,202.4 188.1,193.9 189.0,200.6 187.1,207.7" fill="#52c17c" stroke="#52c17c" stroke-width="0.35"/><polygon points="199.6,214.7 201.4,214.0 202.3,220.4 200.5,220.8" fill="#287ed7" stroke="#287ed7" stroke-width="0.35"/><polygon points="159.6,247.9 161.4,247.7 162.3,246.4 160.5,246.7" fill="#070892" stroke="#070892" stroke-width="0.35"/><polygon points="165.0,244.3 166.8,242.7 167.6,241.3 165.8,242.9" fill="#0c13a9" stroke="#0c13a9" stroke-width="0.35"/><polygon points="170.3,237.2 172.1,233.3 173.0,232.0 171.1,236.0" fill="#1836d1" stroke="#1836d1" stroke-width="0.35"/><polygon points="175.6,225.8 177.4,218.9 178.3,219.0 176.5,225.7" fill="#287ed7" stroke="#287ed7" stroke-width="0.35"/><polygon points="205.0,225.5 206.8,226.2 207.6,229.6 205.8,229.0" fill="#1836d1" stroke="#1836d1" stroke-width="0.35"/><polygon points="210.3,232.6 212.1,233.5 213.0,234.5 211.1,233.7" fill="#0c13a9" stroke="#0c13a9" stroke-width="0.35"/><polygon points="215.6,235.6 217.4,236.3 218.3,236.0 216.5,235.4" fill="#070892" stroke="#070892" stroke-width="0.35"/><polygon points="190.8,193.4 192.6,186.6 193.4,195.8 191.6,201.3" fill="#6dd251" stroke="#6dd251" stroke-width="0.35"/><polygon points="196.1,200.6 197.9,197.8 198.8,207.0 197.0,209.1" fill="#46b796" stroke="#46b796" stroke-width="0.35"/><polygon points="180.1,210.8 181.9,201.1 182.8,203.3 181.0,212.3" fill="#46b796" stroke="#46b796" stroke-width="0.35"/><polygon points="185.4,197.4 187.2,187.6 188.1,193.9 186.3,202.4" fill="#6dd251" stroke="#6dd251" stroke-width="0.35"/><polygon points="201.4,214.0 203.2,214.1 204.1,220.6 202.3,220.4" fill="#2981d6" stroke="#2981d6" stroke-width="0.35"/><polygon points="156.1,250.1 157.9,250.3 158.8,249.1 157.0,249.0" fill="#07078f" stroke="#07078f" stroke-width="0.35"/><polygon points="158.8,249.1 160.6,249.0 161.4,247.7 159.6,247.9" fill="#070891" stroke="#070891" stroke-width="0.35"/><polygon points="164.1,245.7 165.9,244.3 166.8,242.7 165.0,244.3" fill="#0b12a6" stroke="#0b12a6" stroke-width="0.35"/><polygon points="169.4,238.7 171.2,234.9 172.1,233.3 170.3,237.2" fill="#1734d0" stroke="#1734d0" stroke-width="0.35"/><polygon points="174.8,226.5 176.6,219.5 177.4,218.9 175.6,225.8" fill="#2981d6" stroke="#2981d6" stroke-width="0.35"/><polygon points="177.4,218.9 179.2,210.2 180.1,210.8 178.3,219.0" fill="#2ea3c9" stroke="#2ea3c9" stroke-width="0.35"/><polygon points="182.8,203.3 184.6,193.2 185.4,197.4 183.6,206.5" fill="#5dc86c" stroke="#5dc86c" stroke-width="0.35"/><polygon points="188.1,193.9 189.9,185.3 190.8,193.4 189.0,200.6" fill="#73d548" stroke="#73d548" stroke-width="0.35"/><polygon points="193.4,195.8 195.2,191.0 196.1,200.6 194.3,204.3" fill="#5dc86c" stroke="#5dc86c" stroke-width="0.35"/><polygon points="198.8,207.0 200.6,205.9 201.4,214.0 199.6,214.7" fill="#2ea3c9" stroke="#2ea3c9" stroke-width="0.35"/><polygon points="204.1,220.6 205.9,221.4 206.8,226.2 205.0,225.5" fill="#2156dc" stroke="#2156dc" stroke-width="0.35"/><polygon points="206.8,226.2 208.6,227.3 209.4,230.5 207.6,229.6" fill="#1734d0" stroke="#1734d0" stroke-width="0.35"/><polygon points="209.4,230.5 211.2,231.7 212.1,233.5 210.3,232.6" fill="#101dbf" stroke="#101dbf" stroke-width="0.35"/><polygon points="212.1,233.5 213.9,234.6 214.8,235.4 213.0,234.5" fill="#0b12a6" stroke="#0b12a6" stroke-width="0.35"/><polygon points="214.8,235.4 216.6,236.3 217.4,236.3 215.6,235.6" fill="#080a96" stroke="#080a96" stroke-width="0.35"/><polygon points="217.4,236.3 219.2,237.1 220.1,236.7 218.3,236.0" fill="#070891" stroke="#070891" stroke-width="0.35"/><polygon points="220.1,236.7 221.9,237.3 222.8,236.6 221.0,236.0" fill="#07078f" stroke="#07078f" stroke-width="0.35"/><polygon points="161.4,247.7 163.2,247.1 164.1,245.7 162.3,246.4" fill="#080a96" stroke="#080a96" stroke-width="0.35"/><polygon points="166.8,242.7 168.6,240.4 169.4,238.7 167.6,241.3" fill="#101dbf" stroke="#101dbf" stroke-width="0.35"/><polygon points="172.1,233.3 173.9,227.9 174.8,226.5 173.0,232.0" fill="#2156dc" stroke="#2156dc" stroke-width="0.35"/><polygon points="176.6,219.5 178.4,210.7 179.2,210.2 177.4,218.9" fill="#30a6c3" stroke="#30a6c3" stroke-width="0.35"/><polygon points="181.9,201.1 183.7,190.1 184.6,193.2 182.8,203.3" fill="#6dd251" stroke="#6dd251" stroke-width="0.35"/><polygon points="187.2,187.6 189.1,177.7 189.9,185.3 188.1,193.9" fill="#95dc23" stroke="#95dc23" stroke-width="0.35"/><polygon points="189.9,185.3 191.7,177.2 192.6,186.6 190.8,193.4" fill="#95dc23" stroke="#95dc23" stroke-width="0.35"/><polygon points="192.6,186.6 194.4,180.6 195.2,191.0 193.4,195.8" fill="#87da31" stroke="#87da31" stroke-width="0.35"/><polygon points="195.2,191.0 197.1,187.4 197.9,197.8 196.1,200.6" fill="#6dd251" stroke="#6dd251" stroke-width="0.35"/><polygon points="197.9,197.8 199.7,196.2 200.6,205.9 198.8,207.0" fill="#4ebe85" stroke="#4ebe85" stroke-width="0.35"/><polygon points="200.6,205.9 202.4,205.8 203.2,214.1 201.4,214.0" fill="#30a6c3" stroke="#30a6c3" stroke-width="0.35"/><polygon points="205.9,221.4 207.7,222.8 208.6,227.3 206.8,226.2" fill="#2052dd" stroke="#2052dd" stroke-width="0.35"/><polygon points="211.2,231.7 213.1,233.1 213.9,234.6 212.1,233.5" fill="#0f1bb9" stroke="#0f1bb9" stroke-width="0.35"/><polygon points="216.6,236.3 218.4,237.2 219.2,237.1 217.4,236.3" fill="#080995" stroke="#080995" stroke-width="0.35"/><polygon points="221.9,237.3 223.7,238.0 224.6,237.2 222.8,236.6" fill="#06078e" stroke="#06078e" stroke-width="0.35"/><polygon points="155.2,251.3 157.1,251.5 157.9,250.3 156.1,250.1" fill="#06078e" stroke="#06078e" stroke-width="0.35"/><polygon points="157.9,250.3 159.7,250.3 160.6,249.0 158.8,249.1" fill="#070890" stroke="#070890" stroke-width="0.35"/><polygon points="160.6,249.0 162.4,248.6 163.2,247.1 161.4,247.7" fill="#080995" stroke="#080995" stroke-width="0.35"/><polygon points="165.9,244.3 167.7,242.3 168.6,240.4 166.8,242.7" fill="#0f1bb9" stroke="#0f1bb9" stroke-width="0.35"/><polygon points="171.2,234.9 173.1,229.8 173.9,227.9 172.1,233.3" fill="#2052dd" stroke="#2052dd" stroke-width="0.35"/><polygon points="179.2,210.2 181.1,200.0 181.9,201.1 180.1,210.8" fill="#4ebe85" stroke="#4ebe85" stroke-width="0.35"/><polygon points="184.6,193.2 186.4,182.3 187.2,187.6 185.4,197.4" fill="#87da31" stroke="#87da31" stroke-width="0.35"/><polygon points="203.2,214.1 205.1,215.0 205.9,221.4 204.1,220.6" fill="#2981d6" stroke="#2981d6" stroke-width="0.35"/><polygon points="163.2,247.1 165.1,246.0 165.9,244.3 164.1,245.7" fill="#0a10a2" stroke="#0a10a2" stroke-width="0.35"/><polygon points="168.6,240.4 170.4,236.9 171.2,234.9 169.4,238.7" fill="#1631cd" stroke="#1631cd" stroke-width="0.35"/><polygon points="173.9,227.9 175.7,220.9 176.6,219.5 174.8,226.5" fill="#2981d6" stroke="#2981d6" stroke-width="0.35"/><polygon points="208.6,227.3 210.4,228.8 211.2,231.7 209.4,230.5" fill="#1631cd" stroke="#1631cd" stroke-width="0.35"/><polygon points="213.9,234.6 215.7,235.7 216.6,236.3 214.8,235.4" fill="#0a10a2" stroke="#0a10a2" stroke-width="0.35"/><polygon points="219.2,237.1 221.1,237.9 221.9,237.3 220.1,236.7" fill="#070890" stroke="#070890" stroke-width="0.35"/><polygon points="189.1,177.7 190.9,168.3 191.7,177.2 189.9,185.3" fill="#bedf00" stroke="#bedf00" stroke-width="0.35"/><polygon points="194.4,180.6 196.2,176.1 197.1,187.4 195.2,191.0" fill="#9ddd1b" stroke="#9ddd1b" stroke-width="0.35"/><polygon points="199.7,196.2 201.5,196.0 202.4,205.8 200.6,205.9" fill="#52c17c" stroke="#52c17c" stroke-width="0.35"/><polygon points="178.4,210.7 180.2,200.3 181.1,200.0 179.2,210.2" fill="#52c17c" stroke="#52c17c" stroke-width="0.35"/><polygon points="183.7,190.1 185.5,178.3 186.4,182.3 184.6,193.2" fill="#9ddd1b" stroke="#9ddd1b" stroke-width="0.35"/><polygon points="205.1,215.0 206.9,216.7 207.7,222.8 205.9,221.4" fill="#287ed7" stroke="#287ed7" stroke-width="0.35"/><polygon points="157.1,251.5 158.9,251.6 159.7,250.3 157.9,250.3" fill="#070790" stroke="#070790" stroke-width="0.35"/><polygon points="159.7,250.3 161.5,250.1 162.4,248.6 160.6,249.0" fill="#070993" stroke="#070993" stroke-width="0.35"/><polygon points="162.4,248.6 164.2,247.8 165.1,246.0 163.2,247.1" fill="#090d9d" stroke="#090d9d" stroke-width="0.35"/><polygon points="167.7,242.3 169.5,239.2 170.4,236.9 168.6,240.4" fill="#142bca" stroke="#142bca" stroke-width="0.35"/><polygon points="173.1,229.8 174.9,223.2 175.7,220.9 173.9,227.9" fill="#287ed7" stroke="#287ed7" stroke-width="0.35"/><polygon points="175.7,220.9 177.5,212.3 178.4,210.7 176.6,219.5" fill="#30a6c3" stroke="#30a6c3" stroke-width="0.35"/><polygon points="181.1,200.0 182.9,188.5 183.7,190.1 181.9,201.1" fill="#79d83f" stroke="#79d83f" stroke-width="0.35"/><polygon points="186.4,182.3 188.2,171.2 189.1,177.7 187.2,187.6" fill="#b5e003" stroke="#b5e003" stroke-width="0.35"/><polygon points="191.7,177.2 193.5,170.1 194.4,180.6 192.6,186.6" fill="#b5e003" stroke="#b5e003" stroke-width="0.35"/><polygon points="197.1,187.4 198.9,185.2 199.7,196.2 197.9,197.8" fill="#79d83f" stroke="#79d83f" stroke-width="0.35"/><polygon points="202.4,205.8 204.2,206.9 205.1,215.0 203.2,214.1" fill="#30a6c3" stroke="#30a6c3" stroke-width="0.35"/><polygon points="207.7,222.8 209.5,224.7 210.4,228.8 208.6,227.3" fill="#1f4cde" stroke="#1f4cde" stroke-width="0.35"/><polygon points="210.4,228.8 212.2,230.6 213.1,233.1 211.2,231.7" fill="#142bca" stroke="#142bca" stroke-width="0.35"/><polygon points="213.1,233.1 214.9,234.5 215.7,235.7 213.9,234.6" fill="#0e18b3" stroke="#0e18b3" stroke-width="0.35"/><polygon points="215.7,235.7 217.5,236.9 218.4,237.2 216.6,236.3" fill="#090d9d" stroke="#090d9d" stroke-width="0.35"/><polygon points="218.4,237.2 220.2,238.2 221.1,237.9 219.2,237.1" fill="#070993" stroke="#070993" stroke-width="0.35"/><polygon points="221.1,237.9 222.9,238.6 223.7,238.0 221.9,237.3" fill="#070790" stroke="#070790" stroke-width="0.35"/><polygon points="165.1,246.0 166.9,244.3 167.7,242.3 165.9,244.3" fill="#0e18b3" stroke="#0e18b3" stroke-width="0.35"/><polygon points="170.4,236.9 172.2,232.2 173.1,229.8 171.2,234.9" fill="#1f4cde" stroke="#1f4cde" stroke-width="0.35"/><polygon points="174.9,223.2 176.7,215.0 177.5,212.3 175.7,220.9" fill="#2ea3c9" stroke="#2ea3c9" stroke-width="0.35"/><polygon points="180.2,200.3 182.0,188.6 182.9,188.5 181.1,200.0" fill="#80d938" stroke="#80d938" stroke-width="0.35"/><polygon points="185.5,178.3 187.4,166.3 188.2,171.2 186.4,182.3" fill="#cfdc00" stroke="#cfdc00" stroke-width="0.35"/><polygon points="188.2,171.2 190.0,160.7 190.9,168.3 189.1,177.7" fill="#e2d900" stroke="#e2d900" stroke-width="0.35"/><polygon points="190.9,168.3 192.7,160.1 193.5,170.1 191.7,177.2" fill="#e2d900" stroke="#e2d900" stroke-width="0.35"/><polygon points="193.5,170.1 195.4,164.7 196.2,176.1 194.4,180.6" fill="#cfdc00" stroke="#cfdc00" stroke-width="0.35"/><polygon points="196.2,176.1 198.0,173.4 198.9,185.2 197.1,187.4" fill="#addf0b" stroke="#addf0b" stroke-width="0.35"/><polygon points="198.9,185.2 200.7,184.8 201.5,196.0 199.7,196.2" fill="#80d938" stroke="#80d938" stroke-width="0.35"/><polygon points="201.5,196.0 203.4,197.2 204.2,206.9 202.4,205.8" fill="#52c17c" stroke="#52c17c" stroke-width="0.35"/><polygon points="204.2,206.9 206.0,209.0 206.9,216.7 205.1,215.0" fill="#2ea3c9" stroke="#2ea3c9" stroke-width="0.35"/><polygon points="209.5,224.7 211.4,226.9 212.2,230.6 210.4,228.8" fill="#1c43db" stroke="#1c43db" stroke-width="0.35"/><polygon points="214.9,234.5 216.7,236.1 217.5,236.9 215.7,235.7" fill="#0c14ac" stroke="#0c14ac" stroke-width="0.35"/><polygon points="220.2,238.2 222.0,239.1 222.9,238.6 221.1,237.9" fill="#070892" stroke="#070892" stroke-width="0.35"/><polygon points="156.2,252.7 158.0,252.9 158.9,251.6 157.1,251.5" fill="#07078f" stroke="#07078f" stroke-width="0.35"/><polygon points="158.9,251.6 160.7,251.5 161.5,250.1 159.7,250.3" fill="#070892" stroke="#070892" stroke-width="0.35"/><polygon points="161.5,250.1 163.4,249.5 164.2,247.8 162.4,248.6" fill="#080b99" stroke="#080b99" stroke-width="0.35"/><polygon points="164.2,247.8 166.0,246.3 166.9,244.3 165.1,246.0" fill="#0c14ac" stroke="#0c14ac" stroke-width="0.35"/><polygon points="169.5,239.2 171.4,235.0 172.2,232.2 170.4,236.9" fill="#1c43db" stroke="#1c43db" stroke-width="0.35"/><polygon points="177.5,212.3 179.4,202.1 180.2,200.3 178.4,210.7" fill="#52c17c" stroke="#52c17c" stroke-width="0.35"/><polygon points="182.9,188.5 184.7,176.1 185.5,178.3 183.7,190.1" fill="#addf0b" stroke="#addf0b" stroke-width="0.35"/><polygon points="206.9,216.7 208.7,219.1 209.5,224.7 207.7,222.8" fill="#2776d9" stroke="#2776d9" stroke-width="0.35"/><polygon points="166.9,244.3 168.7,241.7 169.5,239.2 167.7,242.3" fill="#1225c5" stroke="#1225c5" stroke-width="0.35"/><polygon points="172.2,232.2 174.0,226.1 174.9,223.2 173.1,229.8" fill="#2776d9" stroke="#2776d9" stroke-width="0.35"/><polygon points="212.2,230.6 214.0,232.5 214.9,234.5 213.1,233.1" fill="#1225c5" stroke="#1225c5" stroke-width="0.35"/><polygon points="217.5,236.9 219.4,238.1 220.2,238.2 218.4,237.2" fill="#080b99" stroke="#080b99" stroke-width="0.35"/><polygon points="222.9,238.6 224.7,239.3 225.5,238.6 223.7,238.0" fill="#07078f" stroke="#07078f" stroke-width="0.35"/><polygon points="187.4,166.3 189.2,154.9 190.0,160.7 188.2,171.2" fill="#edcd00" stroke="#edcd00" stroke-width="0.35"/><polygon points="192.7,160.1 194.5,153.8 195.4,164.7 193.5,170.1" fill="#edcd00" stroke="#edcd00" stroke-width="0.35"/><polygon points="198.0,173.4 199.8,172.8 200.7,184.8 198.9,185.2" fill="#b5e003" stroke="#b5e003" stroke-width="0.35"/><polygon points="203.4,197.2 205.2,199.8 206.0,209.0 204.2,206.9" fill="#4ebe85" stroke="#4ebe85" stroke-width="0.35"/><polygon points="176.7,215.0 178.5,205.2 179.4,202.1 177.5,212.3" fill="#4ebe85" stroke="#4ebe85" stroke-width="0.35"/><polygon points="182.0,188.6 183.8,176.1 184.7,176.1 182.9,188.5" fill="#b5e003" stroke="#b5e003" stroke-width="0.35"/><polygon points="208.7,219.1 210.5,222.0 211.4,226.9 209.5,224.7" fill="#2469da" stroke="#2469da" stroke-width="0.35"/><polygon points="155.4,253.8 157.2,254.1 158.0,252.9 156.2,252.7" fill="#06078e" stroke="#06078e" stroke-width="0.35"/><polygon points="158.0,252.9 159.8,252.9 160.7,251.5 158.9,251.6" fill="#070891" stroke="#070891" stroke-width="0.35"/><polygon points="160.7,251.5 162.5,251.1 163.4,249.5 161.5,250.1" fill="#080a95" stroke="#080a95" stroke-width="0.35"/><polygon points="163.4,249.5 165.2,248.4 166.0,246.3 164.2,247.8" fill="#0b11a5" stroke="#0b11a5" stroke-width="0.35"/><polygon points="166.0,246.3 167.8,244.2 168.7,241.7 166.9,244.3" fill="#101ec0" stroke="#101ec0" stroke-width="0.35"/><polygon points="171.4,235.0 173.2,229.6 174.0,226.1 172.2,232.2" fill="#2469da" stroke="#2469da" stroke-width="0.35"/><polygon points="174.0,226.1 175.8,218.5 176.7,215.0 174.9,223.2" fill="#2d9acc" stroke="#2d9acc" stroke-width="0.35"/><polygon points="179.4,202.1 181.2,190.6 182.0,188.6 180.2,200.3" fill="#80d938" stroke="#80d938" stroke-width="0.35"/><polygon points="184.7,176.1 186.5,163.6 187.4,166.3 185.5,178.3" fill="#e2d900" stroke="#e2d900" stroke-width="0.35"/><polygon points="190.0,160.7 191.8,151.5 192.7,160.1 190.9,168.3" fill="#f0c900" stroke="#f0c900" stroke-width="0.35"/><polygon points="195.4,164.7 197.2,161.4 198.0,173.4 196.2,176.1" fill="#e2d900" stroke="#e2d900" stroke-width="0.35"/><polygon points="200.7,184.8 202.5,186.2 203.4,197.2 201.5,196.0" fill="#80d938" stroke="#80d938" stroke-width="0.35"/><polygon points="206.0,209.0 207.8,212.0 208.7,219.1 206.9,216.7" fill="#2d9acc" stroke="#2d9acc" stroke-width="0.35"/><polygon points="211.4,226.9 213.2,229.4 214.0,232.5 212.2,230.6" fill="#193ad4" stroke="#193ad4" stroke-width="0.35"/><polygon points="214.0,232.5 215.8,234.5 216.7,236.1 214.9,234.5" fill="#101ec0" stroke="#101ec0" stroke-width="0.35"/><polygon points="216.7,236.1 218.5,237.6 219.4,238.1 217.5,236.9" fill="#0b11a5" stroke="#0b11a5" stroke-width="0.35"/><polygon points="219.4,238.1 221.2,239.2 222.0,239.1 220.2,238.2" fill="#080a95" stroke="#080a95" stroke-width="0.35"/><polygon points="222.0,239.1 223.8,239.9 224.7,239.3 222.9,238.6" fill="#070891" stroke="#070891" stroke-width="0.35"/><polygon points="224.7,239.3 226.5,240.0 227.4,239.2 225.5,238.6" fill="#06078e" stroke="#06078e" stroke-width="0.35"/><polygon points="168.7,241.7 170.5,238.1 171.4,235.0 169.5,239.2" fill="#193ad4" stroke="#193ad4" stroke-width="0.35"/><polygon points="173.2,229.6 175.0,222.8 175.8,218.5 174.0,226.1" fill="#2b8fd0" stroke="#2b8fd0" stroke-width="0.35"/><polygon points="178.5,205.2 180.3,194.2 181.2,190.6 179.4,202.1" fill="#79d83f" stroke="#79d83f" stroke-width="0.35"/><polygon points="183.8,176.1 185.6,163.3 186.5,163.6 184.7,176.1" fill="#e9d600" stroke="#e9d600" stroke-width="0.35"/><polygon points="186.5,163.6 188.3,151.6 189.2,154.9 187.4,166.3" fill="#f2bf00" stroke="#f2bf00" stroke-width="0.35"/><polygon points="189.2,154.9 191.0,145.0 191.8,151.5 190.0,160.7" fill="#f6a900" stroke="#f6a900" stroke-width="0.35"/><polygon points="191.8,151.5 193.6,144.5 194.5,153.8 192.7,160.1" fill="#f6a900" stroke="#f6a900" stroke-width="0.35"/><polygon points="194.5,153.8 196.3,150.0 197.2,161.4 195.4,164.7" fill="#f2bf00" stroke="#f2bf00" stroke-width="0.35"/><polygon points="197.2,161.4 199.0,160.6 199.8,172.8 198.0,173.4" fill="#e9d600" stroke="#e9d600" stroke-width="0.35"/><polygon points="199.8,172.8 201.6,174.4 202.5,186.2 200.7,184.8" fill="#b5e003" stroke="#b5e003" stroke-width="0.35"/><polygon points="202.5,186.2 204.3,189.4 205.2,199.8 203.4,197.2" fill="#79d83f" stroke="#79d83f" stroke-width="0.35"/><polygon points="205.2,199.8 207.0,203.6 207.8,212.0 206.0,209.0" fill="#46b796" stroke="#46b796" stroke-width="0.35"/><polygon points="207.8,212.0 209.6,215.8 210.5,222.0 208.7,219.1" fill="#2b8fd0" stroke="#2b8fd0" stroke-width="0.35"/><polygon points="213.2,229.4 215.0,232.1 215.8,234.5 214.0,232.5" fill="#1631cd" stroke="#1631cd" stroke-width="0.35"/><polygon points="218.5,237.6 220.3,239.0 221.2,239.2 219.4,238.1" fill="#0a0e9e" stroke="#0a0e9e" stroke-width="0.35"/><polygon points="223.8,239.9 225.6,240.7 226.5,240.0 224.7,239.3" fill="#07078f" stroke="#07078f" stroke-width="0.35"/><polygon points="157.2,254.1 159.0,254.3 159.8,252.9 158.0,252.9" fill="#07078f" stroke="#07078f" stroke-width="0.35"/><polygon points="159.8,252.9 161.6,252.7 162.5,251.1 160.7,251.5" fill="#070993" stroke="#070993" stroke-width="0.35"/><polygon points="162.5,251.1 164.3,250.4 165.2,248.4 163.4,249.5" fill="#0a0e9e" stroke="#0a0e9e" stroke-width="0.35"/><polygon points="165.2,248.4 167.0,246.7 167.8,244.2 166.0,246.3" fill="#0e19b6" stroke="#0e19b6" stroke-width="0.35"/><polygon points="167.8,244.2 169.6,241.3 170.5,238.1 168.7,241.7" fill="#1631cd" stroke="#1631cd" stroke-width="0.35"/><polygon points="175.8,218.5 177.6,209.5 178.5,205.2 176.7,215.0" fill="#46b796" stroke="#46b796" stroke-width="0.35"/><polygon points="181.2,190.6 183.0,178.2 183.8,176.1 182.0,188.6" fill="#b5e003" stroke="#b5e003" stroke-width="0.35"/><polygon points="210.5,222.0 212.3,225.3 213.2,229.4 211.4,226.9" fill="#2159dc" stroke="#2159dc" stroke-width="0.35"/><polygon points="170.5,238.1 172.3,233.4 173.2,229.6 171.4,235.0" fill="#2159dc" stroke="#2159dc" stroke-width="0.35"/><polygon points="215.8,234.5 217.6,236.5 218.5,237.6 216.7,236.1" fill="#0e19b6" stroke="#0e19b6" stroke-width="0.35"/><polygon points="221.2,239.2 223.0,240.3 223.8,239.9 222.0,239.1" fill="#070993" stroke="#070993" stroke-width="0.35"/><polygon points="185.6,163.3 187.5,151.2 188.3,151.6 186.5,163.6" fill="#f4b400" stroke="#f4b400" stroke-width="0.35"/><polygon points="191.0,145.0 192.8,137.4 193.6,144.5 191.8,151.5" fill="#f2700c" stroke="#f2700c" stroke-width="0.35"/><polygon points="196.3,150.0 198.1,149.0 199.0,160.6 197.2,161.4" fill="#f4b400" stroke="#f4b400" stroke-width="0.35"/><polygon points="201.6,174.4 203.5,178.1 204.3,189.4 202.5,186.2" fill="#addf0b" stroke="#addf0b" stroke-width="0.35"/><polygon points="207.0,203.6 208.8,208.3 209.6,215.8 207.8,212.0" fill="#3aaeae" stroke="#3aaeae" stroke-width="0.35"/><polygon points="156.3,255.3 158.1,255.6 159.0,254.3 157.2,254.1" fill="#07078f" stroke="#07078f" stroke-width="0.35"/><polygon points="175.0,222.8 176.8,214.8 177.6,209.5 175.8,218.5" fill="#3aaeae" stroke="#3aaeae" stroke-width="0.35"/><polygon points="180.3,194.2 182.1,182.4 183.0,178.2 181.2,190.6" fill="#addf0b" stroke="#addf0b" stroke-width="0.35"/><polygon points="212.3,225.3 214.1,228.7 215.0,232.1 213.2,229.4" fill="#1e48de" stroke="#1e48de" stroke-width="0.35"/><polygon points="225.6,240.7 227.5,241.5 228.3,240.7 226.5,240.0" fill="#07078f" stroke="#07078f" stroke-width="0.35"/><polygon points="159.0,254.3 160.8,254.2 161.6,252.7 159.8,252.9" fill="#070891" stroke="#070891" stroke-width="0.35"/><polygon points="161.6,252.7 163.5,252.3 164.3,250.4 162.5,251.1" fill="#080b98" stroke="#080b98" stroke-width="0.35"/><polygon points="164.3,250.4 166.1,249.2 167.0,246.7 165.2,248.4" fill="#0c14ac" stroke="#0c14ac" stroke-width="0.35"/><polygon points="167.0,246.7 168.8,244.4 169.6,241.3 167.8,244.2" fill="#1327c6" stroke="#1327c6" stroke-width="0.35"/><polygon points="169.6,241.3 171.5,237.4 172.3,233.4 170.5,238.1" fill="#1e48de" stroke="#1e48de" stroke-width="0.35"/><polygon points="172.3,233.4 174.1,227.6 175.0,222.8 173.2,229.6" fill="#2981d6" stroke="#2981d6" stroke-width="0.35"/><polygon points="177.6,209.5 179.5,199.4 180.3,194.2 178.5,205.2" fill="#6dd251" stroke="#6dd251" stroke-width="0.35"/><polygon points="183.0,178.2 184.8,165.6 185.6,163.3 183.8,176.1" fill="#e9d600" stroke="#e9d600" stroke-width="0.35"/><polygon points="188.3,151.6 190.1,141.2 191.0,145.0 189.2,154.9" fill="#f58606" stroke="#f58606" stroke-width="0.35"/><polygon points="193.6,144.5 195.5,140.2 196.3,150.0 194.5,153.8" fill="#f58606" stroke="#f58606" stroke-width="0.35"/><polygon points="199.0,160.6 200.8,162.4 201.6,174.4 199.8,172.8" fill="#e9d600" stroke="#e9d600" stroke-width="0.35"/><polygon points="204.3,189.4 206.1,194.0 207.0,203.6 205.2,199.8" fill="#6dd251" stroke="#6dd251" stroke-width="0.35"/><polygon points="209.6,215.8 211.5,220.0 212.3,225.3 210.5,222.0" fill="#2981d6" stroke="#2981d6" stroke-width="0.35"/><polygon points="215.0,232.1 216.8,234.7 217.6,236.5 215.8,234.5" fill="#1327c6" stroke="#1327c6" stroke-width="0.35"/><polygon points="217.6,236.5 219.5,238.3 220.3,239.0 218.5,237.6" fill="#0c14ac" stroke="#0c14ac" stroke-width="0.35"/><polygon points="220.3,239.0 222.1,240.3 223.0,240.3 221.2,239.2" fill="#080b98" stroke="#080b98" stroke-width="0.35"/><polygon points="223.0,240.3 224.8,241.2 225.6,240.7 223.8,239.9" fill="#070891" stroke="#070891" stroke-width="0.35"/><polygon points="158.1,255.6 159.9,255.7 160.8,254.2 159.0,254.3" fill="#070890" stroke="#070890" stroke-width="0.35"/><polygon points="171.5,237.4 173.3,232.5 174.1,227.6 172.3,233.4" fill="#256dda" stroke="#256dda" stroke-width="0.35"/><polygon points="176.8,214.8 178.6,205.7 179.5,199.4 177.6,209.5" fill="#5dc86c" stroke="#5dc86c" stroke-width="0.35"/><polygon points="182.1,182.4 183.9,170.4 184.8,165.6 183.0,178.2" fill="#e2d900" stroke="#e2d900" stroke-width="0.35"/><polygon points="184.8,165.6 186.6,153.7 187.5,151.2 185.6,163.3" fill="#f4b400" stroke="#f4b400" stroke-width="0.35"/><polygon points="187.5,151.2 189.3,140.6 190.1,141.2 188.3,151.6" fill="#f2700c" stroke="#f2700c" stroke-width="0.35"/><polygon points="190.1,141.2 191.9,133.2 192.8,137.4 191.0,145.0" fill="#ee4d0d" stroke="#ee4d0d" stroke-width="0.35"/><polygon points="192.8,137.4 194.6,132.7 195.5,140.2 193.6,144.5" fill="#ee4d0d" stroke="#ee4d0d" stroke-width="0.35"/><polygon points="195.5,140.2 197.3,139.0 198.1,149.0 196.3,150.0" fill="#f2700c" stroke="#f2700c" stroke-width="0.35"/><polygon points="198.1,149.0 199.9,151.0 200.8,162.4 199.0,160.6" fill="#f4b400" stroke="#f4b400" stroke-width="0.35"/><polygon points="200.8,162.4 202.6,166.7 203.5,178.1 201.6,174.4" fill="#e2d900" stroke="#e2d900" stroke-width="0.35"/><polygon points="203.5,178.1 205.3,183.6 206.1,194.0 204.3,189.4" fill="#9ddd1b" stroke="#9ddd1b" stroke-width="0.35"/><polygon points="206.1,194.0 207.9,199.7 208.8,208.3 207.0,203.6" fill="#5dc86c" stroke="#5dc86c" stroke-width="0.35"/><polygon points="208.8,208.3 210.6,213.6 211.5,220.0 209.6,215.8" fill="#2ea3c9" stroke="#2ea3c9" stroke-width="0.35"/><polygon points="211.5,220.0 213.3,224.4 214.1,228.7 212.3,225.3" fill="#256dda" stroke="#256dda" stroke-width="0.35"/><polygon points="216.8,234.7 218.6,237.1 219.5,238.3 217.6,236.5" fill="#101dbf" stroke="#101dbf" stroke-width="0.35"/><polygon points="222.1,240.3 223.9,241.6 224.8,241.2 223.0,240.3" fill="#080994" stroke="#080994" stroke-width="0.35"/><polygon points="160.8,254.2 162.6,254.0 163.5,252.3 161.6,252.7" fill="#080994" stroke="#080994" stroke-width="0.35"/><polygon points="163.5,252.3 165.3,251.4 166.1,249.2 164.3,250.4" fill="#0a10a3" stroke="#0a10a3" stroke-width="0.35"/><polygon points="166.1,249.2 167.9,247.4 168.8,244.4 167.0,246.7" fill="#101dbf" stroke="#101dbf" stroke-width="0.35"/><polygon points="168.8,244.4 170.6,241.3 171.5,237.4 169.6,241.3" fill="#193ad4" stroke="#193ad4" stroke-width="0.35"/><polygon points="174.1,227.6 175.9,220.6 176.8,214.8 175.0,222.8" fill="#2ea3c9" stroke="#2ea3c9" stroke-width="0.35"/><polygon points="179.5,199.4 181.3,188.5 182.1,182.4 180.3,194.2" fill="#9ddd1b" stroke="#9ddd1b" stroke-width="0.35"/><polygon points="214.1,228.7 215.9,232.1 216.8,234.7 215.0,232.1" fill="#193ad4" stroke="#193ad4" stroke-width="0.35"/><polygon points="224.8,241.2 226.6,242.1 227.5,241.5 225.6,240.7" fill="#070890" stroke="#070890" stroke-width="0.35"/><polygon points="219.5,238.3 221.3,240.1 222.1,240.3 220.3,239.0" fill="#0a10a3" stroke="#0a10a3" stroke-width="0.35"/><polygon points="183.9,170.4 185.7,159.1 186.6,153.7 184.8,165.6" fill="#f2bf00" stroke="#f2bf00" stroke-width="0.35"/><polygon points="189.3,140.6 191.1,132.5 191.9,133.2 190.1,141.2" fill="#ed3d0b" stroke="#ed3d0b" stroke-width="0.35"/><polygon points="194.6,132.7 196.4,131.4 197.3,139.0 195.5,140.2" fill="#ed3d0b" stroke="#ed3d0b" stroke-width="0.35"/><polygon points="199.9,151.0 201.7,155.8 202.6,166.7 200.8,162.4" fill="#f2bf00" stroke="#f2bf00" stroke-width="0.35"/><polygon points="205.3,183.6 207.1,190.5 207.9,199.7 206.1,194.0" fill="#87da31" stroke="#87da31" stroke-width="0.35"/><polygon points="210.6,213.6 212.4,219.1 213.3,224.4 211.5,220.0" fill="#2b8fd0" stroke="#2b8fd0" stroke-width="0.35"/><polygon points="157.3,256.8 159.1,257.0 159.9,255.7 158.1,255.6" fill="#07078f" stroke="#07078f" stroke-width="0.35"/><polygon points="159.9,255.7 161.7,255.6 162.6,254.0 160.8,254.2" fill="#070892" stroke="#070892" stroke-width="0.35"/><polygon points="170.6,241.3 172.4,237.4 173.3,232.5 171.5,237.4" fill="#2156dc" stroke="#2156dc" stroke-width="0.35"/><polygon points="173.3,232.5 175.1,226.7 175.9,220.6 174.1,227.6" fill="#2b8fd0" stroke="#2b8fd0" stroke-width="0.35"/><polygon points="178.6,205.7 180.4,195.9 181.3,188.5 179.5,199.4" fill="#87da31" stroke="#87da31" stroke-width="0.35"/><polygon points="215.9,232.1 217.7,235.3 218.6,237.1 216.8,234.7" fill="#152dcb" stroke="#152dcb" stroke-width="0.35"/><polygon points="223.9,241.6 225.7,242.6 226.6,242.1 224.8,241.2" fill="#070892" stroke="#070892" stroke-width="0.35"/><polygon points="162.6,254.0 164.4,253.5 165.3,251.4 163.5,252.3" fill="#090c9b" stroke="#090c9b" stroke-width="0.35"/><polygon points="165.3,251.4 167.1,250.2 167.9,247.4 166.1,249.2" fill="#0d17b1" stroke="#0d17b1" stroke-width="0.35"/><polygon points="167.9,247.4 169.7,245.0 170.6,241.3 168.8,244.4" fill="#152dcb" stroke="#152dcb" stroke-width="0.35"/><polygon points="175.9,220.6 177.7,212.7 178.6,205.7 176.8,214.8" fill="#4abb8e" stroke="#4abb8e" stroke-width="0.35"/><polygon points="181.3,188.5 183.1,177.4 183.9,170.4 182.1,182.4" fill="#cfdc00" stroke="#cfdc00" stroke-width="0.35"/><polygon points="186.6,153.7 188.4,143.3 189.3,140.6 187.5,151.2" fill="#f2700c" stroke="#f2700c" stroke-width="0.35"/><polygon points="191.9,133.2 193.7,128.3 194.6,132.7 192.8,137.4" fill="#ec300a" stroke="#ec300a" stroke-width="0.35"/><polygon points="197.3,139.0 199.1,141.1 199.9,151.0 198.1,149.0" fill="#f2700c" stroke="#f2700c" stroke-width="0.35"/><polygon points="202.6,166.7 204.4,173.1 205.3,183.6 203.5,178.1" fill="#cfdc00" stroke="#cfdc00" stroke-width="0.35"/><polygon points="207.9,199.7 209.7,206.2 210.6,213.6 208.8,208.3" fill="#4abb8e" stroke="#4abb8e" stroke-width="0.35"/><polygon points="213.3,224.4 215.1,228.7 215.9,232.1 214.1,228.7" fill="#2156dc" stroke="#2156dc" stroke-width="0.35"/><polygon points="218.6,237.1 220.4,239.3 221.3,240.1 219.5,238.3" fill="#0d17b1" stroke="#0d17b1" stroke-width="0.35"/><polygon points="221.3,240.1 223.1,241.6 223.9,241.6 222.1,240.3" fill="#090c9b" stroke="#090c9b" stroke-width="0.35"/><polygon points="226.6,242.1 228.4,242.9 229.3,242.2 227.5,241.5" fill="#07078f" stroke="#07078f" stroke-width="0.35"/><polygon points="159.1,257.0 160.9,257.1 161.7,255.6 159.9,255.7" fill="#070890" stroke="#070890" stroke-width="0.35"/><polygon points="161.7,255.6 163.6,255.4 164.4,253.5 162.6,254.0" fill="#080a95" stroke="#080a95" stroke-width="0.35"/><polygon points="169.7,245.0 171.6,242.0 172.4,237.4 170.6,241.3" fill="#1c41d9" stroke="#1c41d9" stroke-width="0.35"/><polygon points="172.4,237.4 174.2,232.7 175.1,226.7 173.3,232.5" fill="#287ad8" stroke="#287ad8" stroke-width="0.35"/><polygon points="175.1,226.7 176.9,220.1 177.7,212.7 175.9,220.6" fill="#37abb5" stroke="#37abb5" stroke-width="0.35"/><polygon points="180.4,195.9 182.2,186.0 183.1,177.4 181.3,188.5" fill="#b5e003" stroke="#b5e003" stroke-width="0.35"/><polygon points="183.1,177.4 184.9,166.9 185.7,159.1 183.9,170.4" fill="#edcd00" stroke="#edcd00" stroke-width="0.35"/><polygon points="185.7,159.1 187.6,149.2 188.4,143.3 186.6,153.7" fill="#f58606" stroke="#f58606" stroke-width="0.35"/><polygon points="188.4,143.3 190.2,135.3 191.1,132.5 189.3,140.6" fill="#ed3d0b" stroke="#ed3d0b" stroke-width="0.35"/><polygon points="191.1,132.5 192.9,127.4 193.7,128.3 191.9,133.2" fill="#ea2a0a" stroke="#ea2a0a" stroke-width="0.35"/><polygon points="193.7,128.3 195.6,126.9 196.4,131.4 194.6,132.7" fill="#ea2a0a" stroke="#ea2a0a" stroke-width="0.35"/><polygon points="196.4,131.4 198.2,133.7 199.1,141.1 197.3,139.0" fill="#ed3d0b" stroke="#ed3d0b" stroke-width="0.35"/><polygon points="199.1,141.1 200.9,146.4 201.7,155.8 199.9,151.0" fill="#f58606" stroke="#f58606" stroke-width="0.35"/><polygon points="201.7,155.8 203.6,163.1 204.4,173.1 202.6,166.7" fill="#edcd00" stroke="#edcd00" stroke-width="0.35"/><polygon points="204.4,173.1 206.2,181.1 207.1,190.5 205.3,183.6" fill="#b5e003" stroke="#b5e003" stroke-width="0.35"/><polygon points="207.1,190.5 208.9,198.3 209.7,206.2 207.9,199.7" fill="#6dd251" stroke="#6dd251" stroke-width="0.35"/><polygon points="209.7,206.2 211.6,213.1 212.4,219.1 210.6,213.6" fill="#37abb5" stroke="#37abb5" stroke-width="0.35"/><polygon points="212.4,219.1 214.2,224.6 215.1,228.7 213.3,224.4" fill="#287ad8" stroke="#287ad8" stroke-width="0.35"/><polygon points="215.1,228.7 216.9,232.8 217.7,235.3 215.9,232.1" fill="#1c41d9" stroke="#1c41d9" stroke-width="0.35"/><polygon points="220.4,239.3 222.2,241.3 223.1,241.6 221.3,240.1" fill="#0b12a6" stroke="#0b12a6" stroke-width="0.35"/><polygon points="225.7,242.6 227.6,243.6 228.4,242.9 226.6,242.1" fill="#070890" stroke="#070890" stroke-width="0.35"/><polygon points="164.4,253.5 166.2,252.7 167.1,250.2 165.3,251.4" fill="#0b12a6" stroke="#0b12a6" stroke-width="0.35"/><polygon points="167.1,250.2 168.9,248.5 169.7,245.0 167.9,247.4" fill="#1121c2" stroke="#1121c2" stroke-width="0.35"/><polygon points="177.7,212.7 179.6,204.3 180.4,195.9 178.6,205.7" fill="#6dd251" stroke="#6dd251" stroke-width="0.35"/><polygon points="217.7,235.3 219.6,238.2 220.4,239.3 218.6,237.1" fill="#1121c2" stroke="#1121c2" stroke-width="0.35"/><polygon points="223.1,241.6 224.9,243.0 225.7,242.6 223.9,241.6" fill="#080a95" stroke="#080a95" stroke-width="0.35"/><polygon points="182.2,186.0 184.0,176.6 184.9,166.9 183.1,177.4" fill="#e2d900" stroke="#e2d900" stroke-width="0.35"/><polygon points="187.6,149.2 189.4,141.5 190.2,135.3 188.4,143.3" fill="#ee4d0d" stroke="#ee4d0d" stroke-width="0.35"/><polygon points="192.9,127.4 194.7,126.1 195.6,126.9 193.7,128.3" fill="#e9230a" stroke="#e9230a" stroke-width="0.35"/><polygon points="198.2,133.7 200.0,139.3 200.9,146.4 199.1,141.1" fill="#ee4d0d" stroke="#ee4d0d" stroke-width="0.35"/><polygon points="203.6,163.1 205.4,172.3 206.2,181.1 204.4,173.1" fill="#e2d900" stroke="#e2d900" stroke-width="0.35"/><polygon points="208.9,198.3 210.7,206.5 211.6,213.1 209.7,206.2" fill="#52c17c" stroke="#52c17c" stroke-width="0.35"/><polygon points="214.2,224.6 216.0,229.7 216.9,232.8 215.1,228.7" fill="#225ddc" stroke="#225ddc" stroke-width="0.35"/><polygon points="227.6,243.6 229.4,244.4 230.2,243.7 228.4,242.9" fill="#07078f" stroke="#07078f" stroke-width="0.35"/><polygon points="158.2,258.3 160.0,258.5 160.9,257.1 159.1,257.0" fill="#07078f" stroke="#07078f" stroke-width="0.35"/><polygon points="160.9,257.1 162.7,257.1 163.6,255.4 161.7,255.6" fill="#070993" stroke="#070993" stroke-width="0.35"/><polygon points="163.6,255.4 165.4,255.0 166.2,252.7 164.4,253.5" fill="#090d9c" stroke="#090d9c" stroke-width="0.35"/><polygon points="168.9,248.5 170.7,246.2 171.6,242.0 169.7,245.0" fill="#1631cd" stroke="#1631cd" stroke-width="0.35"/><polygon points="171.6,242.0 173.4,238.4 174.2,232.7 172.4,237.4" fill="#225ddc" stroke="#225ddc" stroke-width="0.35"/><polygon points="174.2,232.7 176.0,227.4 176.9,220.1 175.1,226.7" fill="#2c97cd" stroke="#2c97cd" stroke-width="0.35"/><polygon points="176.9,220.1 178.7,213.0 179.6,204.3 177.7,212.7" fill="#52c17c" stroke="#52c17c" stroke-width="0.35"/><polygon points="219.6,238.2 221.4,240.7 222.2,241.3 220.4,239.3" fill="#0e18b4" stroke="#0e18b4" stroke-width="0.35"/><polygon points="222.2,241.3 224.0,243.0 224.9,243.0 223.1,241.6" fill="#090d9c" stroke="#090d9c" stroke-width="0.35"/><polygon points="166.2,252.7 168.0,251.5 168.9,248.5 167.1,250.2" fill="#0e18b4" stroke="#0e18b4" stroke-width="0.35"/><polygon points="179.6,204.3 181.4,195.7 182.2,186.0 180.4,195.9" fill="#95dc23" stroke="#95dc23" stroke-width="0.35"/><polygon points="184.9,166.9 186.7,157.7 187.6,149.2 185.7,159.1" fill="#f6a900" stroke="#f6a900" stroke-width="0.35"/><polygon points="190.2,135.3 192.0,130.4 192.9,127.4 191.1,132.5" fill="#ea2a0a" stroke="#ea2a0a" stroke-width="0.35"/><polygon points="195.6,126.9 197.4,129.3 198.2,133.7 196.4,131.4" fill="#ea2a0a" stroke="#ea2a0a" stroke-width="0.35"/><polygon points="200.9,146.4 202.7,154.5 203.6,163.1 201.7,155.8" fill="#f6a900" stroke="#f6a900" stroke-width="0.35"/><polygon points="206.2,181.1 208.0,190.3 208.9,198.3 207.1,190.5" fill="#95dc23" stroke="#95dc23" stroke-width="0.35"/><polygon points="211.6,213.1 213.4,219.8 214.2,224.6 212.4,219.1" fill="#2c97cd" stroke="#2c97cd" stroke-width="0.35"/><polygon points="216.9,232.8 218.7,236.5 219.6,238.2 217.7,235.3" fill="#1631cd" stroke="#1631cd" stroke-width="0.35"/><polygon points="224.9,243.0 226.7,244.1 227.6,243.6 225.7,242.6" fill="#070993" stroke="#070993" stroke-width="0.35"/><polygon points="157.4,259.5 159.2,259.8 160.0,258.5 158.2,258.3" fill="#06078e" stroke="#06078e" stroke-width="0.35"/><polygon points="160.0,258.5 161.8,258.7 162.7,257.1 160.9,257.1" fill="#070891" stroke="#070891" stroke-width="0.35"/><polygon points="162.7,257.1 164.5,256.9 165.4,255.0 163.6,255.4" fill="#080a95" stroke="#080a95" stroke-width="0.35"/><polygon points="165.4,255.0 167.2,254.2 168.0,251.5 166.2,252.7" fill="#0b12a7" stroke="#0b12a7" stroke-width="0.35"/><polygon points="168.0,251.5 169.8,250.0 170.7,246.2 168.9,248.5" fill="#1122c3" stroke="#1122c3" stroke-width="0.35"/><polygon points="170.7,246.2 172.5,243.5 173.4,238.4 171.6,242.0" fill="#1c43db" stroke="#1c43db" stroke-width="0.35"/><polygon points="173.4,238.4 175.2,234.2 176.0,227.4 174.2,232.7" fill="#287ed7" stroke="#287ed7" stroke-width="0.35"/><polygon points="176.0,227.4 177.8,221.6 178.7,213.0 176.9,220.1" fill="#3aaeae" stroke="#3aaeae" stroke-width="0.35"/><polygon points="178.7,213.0 180.5,205.8 181.4,195.7 179.6,204.3" fill="#73d548" stroke="#73d548" stroke-width="0.35"/><polygon points="181.4,195.7 183.2,187.6 184.0,176.6 182.2,186.0" fill="#bedf00" stroke="#bedf00" stroke-width="0.35"/><polygon points="184.0,176.6 185.8,168.4 186.7,157.7 184.9,166.9" fill="#f0c900" stroke="#f0c900" stroke-width="0.35"/><polygon points="186.7,157.7 188.5,150.7 189.4,141.5 187.6,149.2" fill="#f2700c" stroke="#f2700c" stroke-width="0.35"/><polygon points="189.4,141.5 191.2,136.8 192.0,130.4 190.2,135.3" fill="#ec300a" stroke="#ec300a" stroke-width="0.35"/><polygon points="192.0,130.4 193.8,129.0 194.7,126.1 192.9,127.4" fill="#e9230a" stroke="#e9230a" stroke-width="0.35"/><polygon points="194.7,126.1 196.5,128.4 197.4,129.3 195.6,126.9" fill="#e9230a" stroke="#e9230a" stroke-width="0.35"/><polygon points="197.4,129.3 199.2,135.2 200.0,139.3 198.2,133.7" fill="#ec300a" stroke="#ec300a" stroke-width="0.35"/><polygon points="200.0,139.3 201.8,148.0 202.7,154.5 200.9,146.4" fill="#f2700c" stroke="#f2700c" stroke-width="0.35"/><polygon points="202.7,154.5 204.5,164.6 205.4,172.3 203.6,163.1" fill="#f0c900" stroke="#f0c900" stroke-width="0.35"/><polygon points="205.4,172.3 207.2,182.7 208.0,190.3 206.2,181.1" fill="#bedf00" stroke="#bedf00" stroke-width="0.35"/><polygon points="208.0,190.3 209.8,199.9 210.7,206.5 208.9,198.3" fill="#73d548" stroke="#73d548" stroke-width="0.35"/><polygon points="210.7,206.5 212.5,214.6 213.4,219.8 211.6,213.1" fill="#3aaeae" stroke="#3aaeae" stroke-width="0.35"/><polygon points="213.4,219.8 215.2,226.1 216.0,229.7 214.2,224.6" fill="#287ed7" stroke="#287ed7" stroke-width="0.35"/><polygon points="216.0,229.7 217.8,234.3 218.7,236.5 216.9,232.8" fill="#1c43db" stroke="#1c43db" stroke-width="0.35"/><polygon points="218.7,236.5 220.5,239.7 221.4,240.7 219.6,238.2" fill="#1122c3" stroke="#1122c3" stroke-width="0.35"/><polygon points="221.4,240.7 223.2,242.9 224.0,243.0 222.2,241.3" fill="#0b12a7" stroke="#0b12a7" stroke-width="0.35"/><polygon points="224.0,243.0 225.8,244.5 226.7,244.1 224.9,243.0" fill="#080a95" stroke="#080a95" stroke-width="0.35"/><polygon points="226.7,244.1 228.5,245.1 229.4,244.4 227.6,243.6" fill="#070891" stroke="#070891" stroke-width="0.35"/><polygon points="229.4,244.4 231.2,245.2 232.0,244.3 230.2,243.7" fill="#06078e" stroke="#06078e" stroke-width="0.35"/><polygon points="180.5,205.8 182.3,199.0 183.2,187.6 181.4,195.7" fill="#95dc23" stroke="#95dc23" stroke-width="0.35"/><polygon points="185.8,168.4 187.7,162.1 188.5,150.7 186.7,157.7" fill="#f6a900" stroke="#f6a900" stroke-width="0.35"/><polygon points="191.2,136.8 193.0,135.5 193.8,129.0 192.0,130.4" fill="#ea2a0a" stroke="#ea2a0a" stroke-width="0.35"/><polygon points="196.5,128.4 198.3,134.4 199.2,135.2 197.4,129.3" fill="#ea2a0a" stroke="#ea2a0a" stroke-width="0.35"/><polygon points="201.8,148.0 203.7,158.9 204.5,164.6 202.7,154.5" fill="#f6a900" stroke="#f6a900" stroke-width="0.35"/><polygon points="207.2,182.7 209.0,193.6 209.8,199.9 208.0,190.3" fill="#95dc23" stroke="#95dc23" stroke-width="0.35"/><polygon points="212.5,214.6 214.3,222.2 215.2,226.1 213.4,219.8" fill="#2c97cd" stroke="#2c97cd" stroke-width="0.35"/><polygon points="217.8,234.3 219.7,238.3 220.5,239.7 218.7,236.5" fill="#1631cd" stroke="#1631cd" stroke-width="0.35"/><polygon points="225.8,244.5 227.7,245.7 228.5,245.1 226.7,244.1" fill="#070993" stroke="#070993" stroke-width="0.35"/><polygon points="167.2,254.2 169.0,253.2 169.8,250.0 168.0,251.5" fill="#0e18b4" stroke="#0e18b4" stroke-width="0.35"/><polygon points="159.2,259.8 161.0,260.1 161.8,258.7 160.0,258.5" fill="#07078f" stroke="#07078f" stroke-width="0.35"/><polygon points="161.8,258.7 163.7,258.7 164.5,256.9 162.7,257.1" fill="#070993" stroke="#070993" stroke-width="0.35"/><polygon points="164.5,256.9 166.3,256.6 167.2,254.2 165.4,255.0" fill="#090d9c" stroke="#090d9c" stroke-width="0.35"/><polygon points="169.8,250.0 171.7,248.1 172.5,243.5 170.7,246.2" fill="#1631cd" stroke="#1631cd" stroke-width="0.35"/><polygon points="172.5,243.5 174.3,240.4 175.2,234.2 173.4,238.4" fill="#225ddc" stroke="#225ddc" stroke-width="0.35"/><polygon points="175.2,234.2 177.0,229.7 177.8,221.6 176.0,227.4" fill="#2c97cd" stroke="#2c97cd" stroke-width="0.35"/><polygon points="177.8,221.6 179.7,215.8 180.5,205.8 178.7,213.0" fill="#52c17c" stroke="#52c17c" stroke-width="0.35"/><polygon points="220.5,239.7 222.3,242.4 223.2,242.9 221.4,240.7" fill="#0e18b4" stroke="#0e18b4" stroke-width="0.35"/><polygon points="223.2,242.9 225.0,244.7 225.8,244.5 224.0,243.0" fill="#090d9c" stroke="#090d9c" stroke-width="0.35"/><polygon points="183.2,187.6 185.0,180.5 185.8,168.4 184.0,176.6" fill="#e2d900" stroke="#e2d900" stroke-width="0.35"/><polygon points="188.5,150.7 190.3,146.4 191.2,136.8 189.4,141.5" fill="#ee4d0d" stroke="#ee4d0d" stroke-width="0.35"/><polygon points="193.8,129.0 195.7,131.3 196.5,128.4 194.7,126.1" fill="#e9230a" stroke="#e9230a" stroke-width="0.35"/><polygon points="199.2,135.2 201.0,144.2 201.8,148.0 200.0,139.3" fill="#ee4d0d" stroke="#ee4d0d" stroke-width="0.35"/><polygon points="204.5,164.6 206.3,176.1 207.2,182.7 205.4,172.3" fill="#e2d900" stroke="#e2d900" stroke-width="0.35"/><polygon points="209.8,199.9 211.7,209.3 212.5,214.6 210.7,206.5" fill="#52c17c" stroke="#52c17c" stroke-width="0.35"/><polygon points="215.2,226.1 217.0,231.8 217.8,234.3 216.0,229.7" fill="#225ddc" stroke="#225ddc" stroke-width="0.35"/><polygon points="228.5,245.1 230.3,246.0 231.2,245.2 229.4,244.4" fill="#07078f" stroke="#07078f" stroke-width="0.35"/><polygon points="179.7,215.8 181.5,210.3 182.3,199.0 180.5,205.8" fill="#6dd251" stroke="#6dd251" stroke-width="0.35"/><polygon points="219.7,238.3 221.5,241.7 222.3,242.4 220.5,239.7" fill="#1121c2" stroke="#1121c2" stroke-width="0.35"/><polygon points="225.0,244.7 226.8,246.2 227.7,245.7 225.8,244.5" fill="#080a95" stroke="#080a95" stroke-width="0.35"/><polygon points="166.3,256.6 168.1,256.0 169.0,253.2 167.2,254.2" fill="#0b12a6" stroke="#0b12a6" stroke-width="0.35"/><polygon points="169.0,253.2 170.8,252.0 171.7,248.1 169.8,250.0" fill="#1121c2" stroke="#1121c2" stroke-width="0.35"/><polygon points="161.0,260.1 162.8,260.3 163.7,258.7 161.8,258.7" fill="#070890" stroke="#070890" stroke-width="0.35"/><polygon points="163.7,258.7 165.5,258.6 166.3,256.6 164.5,256.9" fill="#080a95" stroke="#080a95" stroke-width="0.35"/><polygon points="171.7,248.1 173.5,245.9 174.3,240.4 172.5,243.5" fill="#1c41d9" stroke="#1c41d9" stroke-width="0.35"/><polygon points="174.3,240.4 176.1,237.1 177.0,229.7 175.2,234.2" fill="#287ad8" stroke="#287ad8" stroke-width="0.35"/><polygon points="177.0,229.7 178.8,225.2 179.7,215.8 177.8,221.6" fill="#37abb5" stroke="#37abb5" stroke-width="0.35"/><polygon points="182.3,199.0 184.1,193.1 185.0,180.5 183.2,187.6" fill="#b5e003" stroke="#b5e003" stroke-width="0.35"/><polygon points="185.0,180.5 186.8,175.0 187.7,162.1 185.8,168.4" fill="#edcd00" stroke="#edcd00" stroke-width="0.35"/><polygon points="187.7,162.1 189.5,158.3 190.3,146.4 188.5,150.7" fill="#f58606" stroke="#f58606" stroke-width="0.35"/><polygon points="190.3,146.4 192.1,145.2 193.0,135.5 191.2,136.8" fill="#ed3d0b" stroke="#ed3d0b" stroke-width="0.35"/><polygon points="193.0,135.5 194.8,137.8 195.7,131.3 193.8,129.0" fill="#ea2a0a" stroke="#ea2a0a" stroke-width="0.35"/><polygon points="195.7,131.3 197.5,137.3 198.3,134.4 196.5,128.4" fill="#ea2a0a" stroke="#ea2a0a" stroke-width="0.35"/><polygon points="198.3,134.4 200.1,143.6 201.0,144.2 199.2,135.2" fill="#ed3d0b" stroke="#ed3d0b" stroke-width="0.35"/><polygon points="201.0,144.2 202.8,155.6 203.7,158.9 201.8,148.0" fill="#f58606" stroke="#f58606" stroke-width="0.35"/><polygon points="203.7,158.9 205.5,171.2 206.3,176.1 204.5,164.6" fill="#edcd00" stroke="#edcd00" stroke-width="0.35"/><polygon points="206.3,176.1 208.1,188.2 209.0,193.6 207.2,182.7" fill="#b5e003" stroke="#b5e003" stroke-width="0.35"/><polygon points="209.0,193.6 210.8,204.3 211.7,209.3 209.8,199.9" fill="#6dd251" stroke="#6dd251" stroke-width="0.35"/><polygon points="211.7,209.3 213.5,218.2 214.3,222.2 212.5,214.6" fill="#37abb5" stroke="#37abb5" stroke-width="0.35"/><polygon points="214.3,222.2 216.1,229.0 217.0,231.8 215.2,226.1" fill="#287ad8" stroke="#287ad8" stroke-width="0.35"/><polygon points="217.0,231.8 218.8,236.7 219.7,238.3 217.8,234.3" fill="#1c41d9" stroke="#1c41d9" stroke-width="0.35"/><polygon points="222.3,242.4 224.1,244.7 225.0,244.7 223.2,242.9" fill="#0b12a6" stroke="#0b12a6" stroke-width="0.35"/><polygon points="227.7,245.7 229.5,246.7 230.3,246.0 228.5,245.1" fill="#070890" stroke="#070890" stroke-width="0.35"/><polygon points="178.8,225.2 180.6,220.9 181.5,210.3 179.7,215.8" fill="#4abb8e" stroke="#4abb8e" stroke-width="0.35"/><polygon points="184.1,193.1 185.9,188.5 186.8,175.0 185.0,180.5" fill="#cfdc00" stroke="#cfdc00" stroke-width="0.35"/><polygon points="189.5,158.3 191.3,157.3 192.1,145.2 190.3,146.4" fill="#f2700c" stroke="#f2700c" stroke-width="0.35"/><polygon points="194.8,137.8 196.6,143.5 197.5,137.3 195.7,131.3" fill="#ec300a" stroke="#ec300a" stroke-width="0.35"/><polygon points="200.1,143.6 201.9,155.1 202.8,155.6 201.0,144.2" fill="#f2700c" stroke="#f2700c" stroke-width="0.35"/><polygon points="205.5,171.2 207.3,184.2 208.1,188.2 206.3,176.1" fill="#cfdc00" stroke="#cfdc00" stroke-width="0.35"/><polygon points="210.8,204.3 212.6,214.4 213.5,218.2 211.7,209.3" fill="#4abb8e" stroke="#4abb8e" stroke-width="0.35"/><polygon points="216.1,229.0 217.9,234.8 218.8,236.7 217.0,231.8" fill="#2156dc" stroke="#2156dc" stroke-width="0.35"/><polygon points="221.5,241.7 223.3,244.5 224.1,244.7 222.3,242.4" fill="#0d17b1" stroke="#0d17b1" stroke-width="0.35"/><polygon points="224.1,244.7 225.9,246.5 226.8,246.2 225.0,244.7" fill="#090c9b" stroke="#090c9b" stroke-width="0.35"/><polygon points="229.5,246.7 231.3,247.6 232.1,246.8 230.3,246.0" fill="#07078f" stroke="#07078f" stroke-width="0.35"/><polygon points="165.5,258.6 167.3,258.4 168.1,256.0 166.3,256.6" fill="#090c9b" stroke="#090c9b" stroke-width="0.35"/><polygon points="168.1,256.0 169.9,255.3 170.8,252.0 169.0,253.2" fill="#0d17b1" stroke="#0d17b1" stroke-width="0.35"/><polygon points="170.8,252.0 172.6,250.5 173.5,245.9 171.7,248.1" fill="#152dcb" stroke="#152dcb" stroke-width="0.35"/><polygon points="160.1,261.4 161.9,261.7 162.8,260.3 161.0,260.1" fill="#07078f" stroke="#07078f" stroke-width="0.35"/><polygon points="162.8,260.3 164.6,260.4 165.5,258.6 163.7,258.7" fill="#070892" stroke="#070892" stroke-width="0.35"/><polygon points="173.5,245.9 175.3,243.5 176.1,237.1 174.3,240.4" fill="#2156dc" stroke="#2156dc" stroke-width="0.35"/><polygon points="176.1,237.1 177.9,233.7 178.8,225.2 177.0,229.7" fill="#2b8fd0" stroke="#2b8fd0" stroke-width="0.35"/><polygon points="181.5,210.3 183.3,205.5 184.1,193.1 182.3,199.0" fill="#87da31" stroke="#87da31" stroke-width="0.35"/><polygon points="218.8,236.7 220.6,240.8 221.5,241.7 219.7,238.3" fill="#152dcb" stroke="#152dcb" stroke-width="0.35"/><polygon points="226.8,246.2 228.6,247.4 229.5,246.7 227.7,245.7" fill="#070892" stroke="#070892" stroke-width="0.35"/><polygon points="186.8,175.0 188.6,171.8 189.5,158.3 187.7,162.1" fill="#f2bf00" stroke="#f2bf00" stroke-width="0.35"/><polygon points="192.1,145.2 193.9,147.4 194.8,137.8 193.0,135.5" fill="#ed3d0b" stroke="#ed3d0b" stroke-width="0.35"/><polygon points="197.5,137.3 199.3,146.3 200.1,143.6 198.3,134.4" fill="#ed3d0b" stroke="#ed3d0b" stroke-width="0.35"/><polygon points="202.8,155.6 204.6,168.5 205.5,171.2 203.7,158.9" fill="#f2bf00" stroke="#f2bf00" stroke-width="0.35"/><polygon points="208.1,188.2 209.9,200.1 210.8,204.3 209.0,193.6" fill="#87da31" stroke="#87da31" stroke-width="0.35"/><polygon points="213.5,218.2 215.3,226.1 216.1,229.0 214.3,222.2" fill="#2b8fd0" stroke="#2b8fd0" stroke-width="0.35"/><polygon points="223.3,244.5 225.1,246.7 225.9,246.5 224.1,244.7" fill="#0a10a3" stroke="#0a10a3" stroke-width="0.35"/><polygon points="177.9,233.7 179.8,230.5 180.6,220.9 178.8,225.2" fill="#2ea3c9" stroke="#2ea3c9" stroke-width="0.35"/><polygon points="183.3,205.5 185.1,201.9 185.9,188.5 184.1,193.1" fill="#9ddd1b" stroke="#9ddd1b" stroke-width="0.35"/><polygon points="217.9,234.8 219.8,239.7 220.6,240.8 218.8,236.7" fill="#193ad4" stroke="#193ad4" stroke-width="0.35"/><polygon points="228.6,247.4 230.4,248.4 231.3,247.6 229.5,246.7" fill="#070890" stroke="#070890" stroke-width="0.35"/><polygon points="164.6,260.4 166.4,260.4 167.3,258.4 165.5,258.6" fill="#080994" stroke="#080994" stroke-width="0.35"/><polygon points="167.3,258.4 169.1,258.0 169.9,255.3 168.1,256.0" fill="#0a10a3" stroke="#0a10a3" stroke-width="0.35"/><polygon points="169.9,255.3 171.8,254.4 172.6,250.5 170.8,252.0" fill="#101dbf" stroke="#101dbf" stroke-width="0.35"/><polygon points="172.6,250.5 174.4,248.9 175.3,243.5 173.5,245.9" fill="#193ad4" stroke="#193ad4" stroke-width="0.35"/><polygon points="161.9,261.7 163.8,261.9 164.6,260.4 162.8,260.3" fill="#070890" stroke="#070890" stroke-width="0.35"/><polygon points="175.3,243.5 177.1,241.1 177.9,233.7 176.1,237.1" fill="#256dda" stroke="#256dda" stroke-width="0.35"/><polygon points="180.6,220.9 182.4,217.2 183.3,205.5 181.5,210.3" fill="#5dc86c" stroke="#5dc86c" stroke-width="0.35"/><polygon points="185.9,188.5 187.8,185.8 188.6,171.8 186.8,175.0" fill="#e2d900" stroke="#e2d900" stroke-width="0.35"/><polygon points="188.6,171.8 190.4,171.0 191.3,157.3 189.5,158.3" fill="#f4b400" stroke="#f4b400" stroke-width="0.35"/><polygon points="191.3,157.3 193.1,159.3 193.9,147.4 192.1,145.2" fill="#f2700c" stroke="#f2700c" stroke-width="0.35"/><polygon points="193.9,147.4 195.8,152.7 196.6,143.5 194.8,137.8" fill="#ee4d0d" stroke="#ee4d0d" stroke-width="0.35"/><polygon points="196.6,143.5 198.4,152.1 199.3,146.3 197.5,137.3" fill="#ee4d0d" stroke="#ee4d0d" stroke-width="0.35"/><polygon points="199.3,146.3 201.1,157.7 201.9,155.1 200.1,143.6" fill="#f2700c" stroke="#f2700c" stroke-width="0.35"/><polygon points="201.9,155.1 203.8,168.2 204.6,168.5 202.8,155.6" fill="#f4b400" stroke="#f4b400" stroke-width="0.35"/><polygon points="204.6,168.5 206.4,182.1 207.3,184.2 205.5,171.2" fill="#e2d900" stroke="#e2d900" stroke-width="0.35"/><polygon points="207.3,184.2 209.1,197.0 209.9,200.1 208.1,188.2" fill="#9ddd1b" stroke="#9ddd1b" stroke-width="0.35"/><polygon points="209.9,200.1 211.8,211.2 212.6,214.4 210.8,204.3" fill="#5dc86c" stroke="#5dc86c" stroke-width="0.35"/><polygon points="212.6,214.4 214.4,223.4 215.3,226.1 213.5,218.2" fill="#2ea3c9" stroke="#2ea3c9" stroke-width="0.35"/><polygon points="215.3,226.1 217.1,232.9 217.9,234.8 216.1,229.0" fill="#256dda" stroke="#256dda" stroke-width="0.35"/><polygon points="220.6,240.8 222.4,244.1 223.3,244.5 221.5,241.7" fill="#101dbf" stroke="#101dbf" stroke-width="0.35"/><polygon points="225.9,246.5 227.8,247.9 228.6,247.4 226.8,246.2" fill="#080994" stroke="#080994" stroke-width="0.35"/><polygon points="177.1,241.1 178.9,238.8 179.8,230.5 177.9,233.7" fill="#2981d6" stroke="#2981d6" stroke-width="0.35"/><polygon points="182.4,217.2 184.2,214.4 185.1,201.9 183.3,205.5" fill="#6dd251" stroke="#6dd251" stroke-width="0.35"/><polygon points="187.8,185.8 189.6,185.2 190.4,171.0 188.6,171.8" fill="#e9d600" stroke="#e9d600" stroke-width="0.35"/><polygon points="193.1,159.3 194.9,164.1 195.8,152.7 193.9,147.4" fill="#f58606" stroke="#f58606" stroke-width="0.35"/><polygon points="198.4,152.1 200.2,163.0 201.1,157.7 199.3,146.3" fill="#f58606" stroke="#f58606" stroke-width="0.35"/><polygon points="203.8,168.2 205.6,182.0 206.4,182.1 204.6,168.5" fill="#e9d600" stroke="#e9d600" stroke-width="0.35"/><polygon points="209.1,197.0 210.9,209.0 211.8,211.2 209.9,200.1" fill="#6dd251" stroke="#6dd251" stroke-width="0.35"/><polygon points="214.4,223.4 216.2,231.2 217.1,232.9 215.3,226.1" fill="#2981d6" stroke="#2981d6" stroke-width="0.35"/><polygon points="219.8,239.7 221.6,243.7 222.4,244.1 220.6,240.8" fill="#1327c6" stroke="#1327c6" stroke-width="0.35"/><polygon points="222.4,244.1 224.2,246.8 225.1,246.7 223.3,244.5" fill="#0c14ac" stroke="#0c14ac" stroke-width="0.35"/><polygon points="225.1,246.7 226.9,248.4 227.8,247.9 225.9,246.5" fill="#080b98" stroke="#080b98" stroke-width="0.35"/><polygon points="227.8,247.9 229.6,249.1 230.4,248.4 228.6,247.4" fill="#070891" stroke="#070891" stroke-width="0.35"/><polygon points="163.8,261.9 165.6,262.1 166.4,260.4 164.6,260.4" fill="#070891" stroke="#070891" stroke-width="0.35"/><polygon points="166.4,260.4 168.2,260.3 169.1,258.0 167.3,258.4" fill="#080b98" stroke="#080b98" stroke-width="0.35"/><polygon points="169.1,258.0 170.9,257.6 171.8,254.4 169.9,255.3" fill="#0c14ac" stroke="#0c14ac" stroke-width="0.35"/><polygon points="171.8,254.4 173.6,253.4 174.4,248.9 172.6,250.5" fill="#1327c6" stroke="#1327c6" stroke-width="0.35"/><polygon points="174.4,248.9 176.2,247.3 177.1,241.1 175.3,243.5" fill="#1e48de" stroke="#1e48de" stroke-width="0.35"/><polygon points="161.1,263.0 162.9,263.3 163.8,261.9 161.9,261.7" fill="#07078f" stroke="#07078f" stroke-width="0.35"/><polygon points="179.8,230.5 181.6,227.7 182.4,217.2 180.6,220.9" fill="#3aaeae" stroke="#3aaeae" stroke-width="0.35"/><polygon points="185.1,201.9 186.9,199.8 187.8,185.8 185.9,188.5" fill="#addf0b" stroke="#addf0b" stroke-width="0.35"/><polygon points="217.1,232.9 218.9,238.6 219.8,239.7 217.9,234.8" fill="#1e48de" stroke="#1e48de" stroke-width="0.35"/><polygon points="230.4,248.4 232.2,249.2 233.1,248.3 231.3,247.6" fill="#07078f" stroke="#07078f" stroke-width="0.35"/><polygon points="190.4,171.0 192.2,172.7 193.1,159.3 191.3,157.3" fill="#f4b400" stroke="#f4b400" stroke-width="0.35"/><polygon points="195.8,152.7 197.6,160.7 198.4,152.1 196.6,143.5" fill="#f2700c" stroke="#f2700c" stroke-width="0.35"/><polygon points="201.1,157.7 202.9,170.6 203.8,168.2 201.9,155.1" fill="#f4b400" stroke="#f4b400" stroke-width="0.35"/><polygon points="206.4,182.1 208.2,195.4 209.1,197.0 207.3,184.2" fill="#addf0b" stroke="#addf0b" stroke-width="0.35"/><polygon points="211.8,211.2 213.6,221.2 214.4,223.4 212.6,214.4" fill="#3aaeae" stroke="#3aaeae" stroke-width="0.35"/><polygon points="221.6,243.7 223.4,246.8 224.2,246.8 222.4,244.1" fill="#0e19b6" stroke="#0e19b6" stroke-width="0.35"/><polygon points="226.9,248.4 228.7,249.8 229.6,249.1 227.8,247.9" fill="#070993" stroke="#070993" stroke-width="0.35"/><polygon points="176.2,247.3 178.0,245.8 178.9,238.8 177.1,241.1" fill="#2159dc" stroke="#2159dc" stroke-width="0.35"/><polygon points="181.6,227.7 183.4,225.7 184.2,214.4 182.4,217.2" fill="#46b796" stroke="#46b796" stroke-width="0.35"/><polygon points="186.9,199.8 188.7,199.3 189.6,185.2 187.8,185.8" fill="#b5e003" stroke="#b5e003" stroke-width="0.35"/><polygon points="216.2,231.2 218.0,237.6 218.9,238.6 217.1,232.9" fill="#2159dc" stroke="#2159dc" stroke-width="0.35"/><polygon points="162.9,263.3 164.7,263.6 165.6,262.1 163.8,261.9" fill="#07078f" stroke="#07078f" stroke-width="0.35"/><polygon points="165.6,262.1 167.4,262.2 168.2,260.3 166.4,260.4" fill="#070993" stroke="#070993" stroke-width="0.35"/><polygon points="168.2,260.3 170.0,260.2 170.9,257.6 169.1,258.0" fill="#0a0e9e" stroke="#0a0e9e" stroke-width="0.35"/><polygon points="170.9,257.6 172.7,257.1 173.6,253.4 171.8,254.4" fill="#0e19b6" stroke="#0e19b6" stroke-width="0.35"/><polygon points="173.6,253.4 175.4,252.4 176.2,247.3 174.4,248.9" fill="#1631cd" stroke="#1631cd" stroke-width="0.35"/><polygon points="178.9,238.8 180.7,236.8 181.6,227.7 179.8,230.5" fill="#2b8fd0" stroke="#2b8fd0" stroke-width="0.35"/><polygon points="184.2,214.4 186.0,212.8 186.9,199.8 185.1,201.9" fill="#79d83f" stroke="#79d83f" stroke-width="0.35"/><polygon points="189.6,185.2 191.4,186.8 192.2,172.7 190.4,171.0" fill="#e9d600" stroke="#e9d600" stroke-width="0.35"/><polygon points="192.2,172.7 194.0,177.0 194.9,164.1 193.1,159.3" fill="#f2bf00" stroke="#f2bf00" stroke-width="0.35"/><polygon points="194.9,164.1 196.7,171.4 197.6,160.7 195.8,152.7" fill="#f6a900" stroke="#f6a900" stroke-width="0.35"/><polygon points="197.6,160.7 199.4,170.9 200.2,163.0 198.4,152.1" fill="#f6a900" stroke="#f6a900" stroke-width="0.35"/><polygon points="200.2,163.0 202.0,175.4 202.9,170.6 201.1,157.7" fill="#f2bf00" stroke="#f2bf00" stroke-width="0.35"/><polygon points="202.9,170.6 204.7,184.1 205.6,182.0 203.8,168.2" fill="#e9d600" stroke="#e9d600" stroke-width="0.35"/><polygon points="205.6,182.0 207.4,195.6 208.2,195.4 206.4,182.1" fill="#b5e003" stroke="#b5e003" stroke-width="0.35"/><polygon points="208.2,195.4 210.0,207.9 210.9,209.0 209.1,197.0" fill="#79d83f" stroke="#79d83f" stroke-width="0.35"/><polygon points="210.9,209.0 212.7,219.7 213.6,221.2 211.8,211.2" fill="#46b796" stroke="#46b796" stroke-width="0.35"/><polygon points="213.6,221.2 215.4,229.8 216.2,231.2 214.4,223.4" fill="#2b8fd0" stroke="#2b8fd0" stroke-width="0.35"/><polygon points="218.9,238.6 220.7,243.2 221.6,243.7 219.8,239.7" fill="#1631cd" stroke="#1631cd" stroke-width="0.35"/><polygon points="224.2,246.8 226.0,248.8 226.9,248.4 225.1,246.7" fill="#0a0e9e" stroke="#0a0e9e" stroke-width="0.35"/><polygon points="229.6,249.1 231.4,250.1 232.2,249.2 230.4,248.4" fill="#07078f" stroke="#07078f" stroke-width="0.35"/><polygon points="175.4,252.4 177.2,251.5 178.0,245.8 176.2,247.3" fill="#193ad4" stroke="#193ad4" stroke-width="0.35"/><polygon points="180.7,236.8 182.5,235.4 183.4,225.7 181.6,227.7" fill="#2d9acc" stroke="#2d9acc" stroke-width="0.35"/><polygon points="186.0,212.8 187.9,212.6 188.7,199.3 186.9,199.8" fill="#80d938" stroke="#80d938" stroke-width="0.35"/><polygon points="191.4,186.8 193.2,190.5 194.0,177.0 192.2,172.7" fill="#e2d900" stroke="#e2d900" stroke-width="0.35"/><polygon points="196.7,171.4 198.5,180.6 199.4,170.9 197.6,160.7" fill="#f0c900" stroke="#f0c900" stroke-width="0.35"/><polygon points="202.0,175.4 203.9,188.4 204.7,184.1 202.9,170.6" fill="#e2d900" stroke="#e2d900" stroke-width="0.35"/><polygon points="207.4,195.6 209.2,208.3 210.0,207.9 208.2,195.4" fill="#80d938" stroke="#80d938" stroke-width="0.35"/><polygon points="212.7,219.7 214.5,228.9 215.4,229.8 213.6,221.2" fill="#2d9acc" stroke="#2d9acc" stroke-width="0.35"/><polygon points="218.0,237.6 219.9,242.8 220.7,243.2 218.9,238.6" fill="#193ad4" stroke="#193ad4" stroke-width="0.35"/><polygon points="220.7,243.2 222.5,246.8 223.4,246.8 221.6,243.7" fill="#101ec0" stroke="#101ec0" stroke-width="0.35"/><polygon points="223.4,246.8 225.2,249.2 226.0,248.8 224.2,246.8" fill="#0b11a5" stroke="#0b11a5" stroke-width="0.35"/><polygon points="226.0,248.8 227.9,250.4 228.7,249.8 226.9,248.4" fill="#080a95" stroke="#080a95" stroke-width="0.35"/><polygon points="228.7,249.8 230.5,250.9 231.4,250.1 229.6,249.1" fill="#070891" stroke="#070891" stroke-width="0.35"/><polygon points="231.4,250.1 233.2,250.9 234.0,249.9 232.2,249.2" fill="#06078e" stroke="#06078e" stroke-width="0.35"/><polygon points="162.0,264.6 163.9,264.9 164.7,263.6 162.9,263.3" fill="#06078e" stroke="#06078e" stroke-width="0.35"/><polygon points="164.7,263.6 166.5,263.9 167.4,262.2 165.6,262.1" fill="#070891" stroke="#070891" stroke-width="0.35"/><polygon points="167.4,262.2 169.2,262.3 170.0,260.2 168.2,260.3" fill="#080a95" stroke="#080a95" stroke-width="0.35"/><polygon points="170.0,260.2 171.9,260.0 172.7,257.1 170.9,257.6" fill="#0b11a5" stroke="#0b11a5" stroke-width="0.35"/><polygon points="172.7,257.1 174.5,256.5 175.4,252.4 173.6,253.4" fill="#101ec0" stroke="#101ec0" stroke-width="0.35"/><polygon points="178.0,245.8 179.9,244.5 180.7,236.8 178.9,238.8" fill="#2469da" stroke="#2469da" stroke-width="0.35"/><polygon points="183.4,225.7 185.2,224.6 186.0,212.8 184.2,214.4" fill="#4ebe85" stroke="#4ebe85" stroke-width="0.35"/><polygon points="188.7,199.3 190.5,200.7 191.4,186.8 189.6,185.2" fill="#b5e003" stroke="#b5e003" stroke-width="0.35"/><polygon points="215.4,229.8 217.2,236.9 218.0,237.6 216.2,231.2" fill="#2469da" stroke="#2469da" stroke-width="0.35"/><polygon points="194.0,177.0 195.9,183.4 196.7,171.4 194.9,164.1" fill="#edcd00" stroke="#edcd00" stroke-width="0.35"/><polygon points="199.4,170.9 201.2,182.4 202.0,175.4 200.2,163.0" fill="#edcd00" stroke="#edcd00" stroke-width="0.35"/><polygon points="204.7,184.1 206.5,197.5 207.4,195.6 205.6,182.0" fill="#b5e003" stroke="#b5e003" stroke-width="0.35"/><polygon points="210.0,207.9 211.9,219.1 212.7,219.7 210.9,209.0" fill="#4ebe85" stroke="#4ebe85" stroke-width="0.35"/><polygon points="219.9,242.8 221.7,246.8 222.5,246.8 220.7,243.2" fill="#1225c5" stroke="#1225c5" stroke-width="0.35"/><polygon points="225.2,249.2 227.0,251.0 227.9,250.4 226.0,248.8" fill="#080b99" stroke="#080b99" stroke-width="0.35"/><polygon points="230.5,250.9 232.3,251.8 233.2,250.9 231.4,250.1" fill="#07078f" stroke="#07078f" stroke-width="0.35"/><polygon points="174.5,256.5 176.3,256.0 177.2,251.5 175.4,252.4" fill="#1225c5" stroke="#1225c5" stroke-width="0.35"/><polygon points="179.9,244.5 181.7,243.6 182.5,235.4 180.7,236.8" fill="#2776d9" stroke="#2776d9" stroke-width="0.35"/><polygon points="185.2,224.6 187.0,224.5 187.9,212.6 186.0,212.8" fill="#52c17c" stroke="#52c17c" stroke-width="0.35"/><polygon points="190.5,200.7 192.3,203.9 193.2,190.5 191.4,186.8" fill="#addf0b" stroke="#addf0b" stroke-width="0.35"/><polygon points="214.5,228.9 216.3,236.6 217.2,236.9 215.4,229.8" fill="#2776d9" stroke="#2776d9" stroke-width="0.35"/><polygon points="163.9,264.9 165.7,265.3 166.5,263.9 164.7,263.6" fill="#07078f" stroke="#07078f" stroke-width="0.35"/><polygon points="166.5,263.9 168.3,264.1 169.2,262.3 167.4,262.2" fill="#070892" stroke="#070892" stroke-width="0.35"/><polygon points="169.2,262.3 171.0,262.4 171.9,260.0 170.0,260.2" fill="#080b99" stroke="#080b99" stroke-width="0.35"/><polygon points="171.9,260.0 173.7,259.8 174.5,256.5 172.7,257.1" fill="#0c14ac" stroke="#0c14ac" stroke-width="0.35"/><polygon points="177.2,251.5 179.0,250.7 179.9,244.5 178.0,245.8" fill="#1c43db" stroke="#1c43db" stroke-width="0.35"/><polygon points="182.5,235.4 184.3,234.7 185.2,224.6 183.4,225.7" fill="#2ea3c9" stroke="#2ea3c9" stroke-width="0.35"/><polygon points="187.9,212.6 189.7,213.8 190.5,200.7 188.7,199.3" fill="#80d938" stroke="#80d938" stroke-width="0.35"/><polygon points="193.2,190.5 195.0,196.0 195.9,183.4 194.0,177.0" fill="#cfdc00" stroke="#cfdc00" stroke-width="0.35"/><polygon points="195.9,183.4 197.7,191.5 198.5,180.6 196.7,171.4" fill="#e2d900" stroke="#e2d900" stroke-width="0.35"/><polygon points="198.5,180.6 200.3,191.0 201.2,182.4 199.4,170.9" fill="#e2d900" stroke="#e2d900" stroke-width="0.35"/><polygon points="201.2,182.4 203.0,194.4 203.9,188.4 202.0,175.4" fill="#cfdc00" stroke="#cfdc00" stroke-width="0.35"/><polygon points="203.9,188.4 205.7,201.2 206.5,197.5 204.7,184.1" fill="#addf0b" stroke="#addf0b" stroke-width="0.35"/><polygon points="206.5,197.5 208.3,210.0 209.2,208.3 207.4,195.6" fill="#80d938" stroke="#80d938" stroke-width="0.35"/><polygon points="209.2,208.3 211.0,219.6 211.9,219.1 210.0,207.9" fill="#52c17c" stroke="#52c17c" stroke-width="0.35"/><polygon points="211.9,219.1 213.7,228.8 214.5,228.9 212.7,219.7" fill="#2ea3c9" stroke="#2ea3c9" stroke-width="0.35"/><polygon points="217.2,236.9 219.0,242.6 219.9,242.8 218.0,237.6" fill="#1c43db" stroke="#1c43db" stroke-width="0.35"/><polygon points="222.5,246.8 224.3,249.5 225.2,249.2 223.4,246.8" fill="#0c14ac" stroke="#0c14ac" stroke-width="0.35"/><polygon points="227.9,250.4 229.7,251.7 230.5,250.9 228.7,249.8" fill="#070892" stroke="#070892" stroke-width="0.35"/><polygon points="173.7,259.8 175.5,259.7 176.3,256.0 174.5,256.5" fill="#0e18b3" stroke="#0e18b3" stroke-width="0.35"/><polygon points="179.0,250.7 180.8,250.2 181.7,243.6 179.9,244.5" fill="#1f4cde" stroke="#1f4cde" stroke-width="0.35"/><polygon points="184.3,234.7 186.2,234.8 187.0,224.5 185.2,224.6" fill="#30a6c3" stroke="#30a6c3" stroke-width="0.35"/><polygon points="189.7,213.8 191.5,216.4 192.3,203.9 190.5,200.7" fill="#79d83f" stroke="#79d83f" stroke-width="0.35"/><polygon points="195.0,196.0 196.8,203.0 197.7,191.5 195.9,183.4" fill="#b5e003" stroke="#b5e003" stroke-width="0.35"/><polygon points="200.3,191.0 202.2,201.9 203.0,194.4 201.2,182.4" fill="#b5e003" stroke="#b5e003" stroke-width="0.35"/><polygon points="205.7,201.2 207.5,213.1 208.3,210.0 206.5,197.5" fill="#79d83f" stroke="#79d83f" stroke-width="0.35"/><polygon points="211.0,219.6 212.8,229.4 213.7,228.8 211.9,219.1" fill="#30a6c3" stroke="#30a6c3" stroke-width="0.35"/><polygon points="216.3,236.6 218.2,242.6 219.0,242.6 217.2,236.9" fill="#1f4cde" stroke="#1f4cde" stroke-width="0.35"/><polygon points="219.0,242.6 220.8,247.0 221.7,246.8 219.9,242.8" fill="#142bca" stroke="#142bca" stroke-width="0.35"/><polygon points="221.7,246.8 223.5,249.9 224.3,249.5 222.5,246.8" fill="#0e18b3" stroke="#0e18b3" stroke-width="0.35"/><polygon points="224.3,249.5 226.2,251.6 227.0,251.0 225.2,249.2" fill="#090d9d" stroke="#090d9d" stroke-width="0.35"/><polygon points="227.0,251.0 228.8,252.4 229.7,251.7 227.9,250.4" fill="#070993" stroke="#070993" stroke-width="0.35"/><polygon points="229.7,251.7 231.5,252.6 232.3,251.8 230.5,250.9" fill="#070790" stroke="#070790" stroke-width="0.35"/><polygon points="165.7,265.3 167.5,265.6 168.3,264.1 166.5,263.9" fill="#070790" stroke="#070790" stroke-width="0.35"/><polygon points="168.3,264.1 170.2,264.3 171.0,262.4 169.2,262.3" fill="#070993" stroke="#070993" stroke-width="0.35"/><polygon points="171.0,262.4 172.8,262.4 173.7,259.8 171.9,260.0" fill="#090d9d" stroke="#090d9d" stroke-width="0.35"/><polygon points="176.3,256.0 178.2,255.7 179.0,250.7 177.2,251.5" fill="#142bca" stroke="#142bca" stroke-width="0.35"/><polygon points="181.7,243.6 183.5,243.2 184.3,234.7 182.5,235.4" fill="#287ed7" stroke="#287ed7" stroke-width="0.35"/><polygon points="187.0,224.5 188.8,225.5 189.7,213.8 187.9,212.6" fill="#52c17c" stroke="#52c17c" stroke-width="0.35"/><polygon points="192.3,203.9 194.2,208.5 195.0,196.0 193.2,190.5" fill="#9ddd1b" stroke="#9ddd1b" stroke-width="0.35"/><polygon points="213.7,228.8 215.5,236.7 216.3,236.6 214.5,228.9" fill="#287ed7" stroke="#287ed7" stroke-width="0.35"/><polygon points="197.7,191.5 199.5,200.6 200.3,191.0 198.5,180.6" fill="#bedf00" stroke="#bedf00" stroke-width="0.35"/><polygon points="203.0,194.4 204.8,206.3 205.7,201.2 203.9,188.4" fill="#9ddd1b" stroke="#9ddd1b" stroke-width="0.35"/><polygon points="208.3,210.0 210.2,221.2 211.0,219.6 209.2,208.3" fill="#52c17c" stroke="#52c17c" stroke-width="0.35"/><polygon points="218.2,242.6 220.0,247.4 220.8,247.0 219.0,242.6" fill="#1631cd" stroke="#1631cd" stroke-width="0.35"/><polygon points="223.5,249.9 225.3,252.2 226.2,251.6 224.3,249.5" fill="#0a10a2" stroke="#0a10a2" stroke-width="0.35"/><polygon points="228.8,252.4 230.6,253.5 231.5,252.6 229.7,251.7" fill="#070890" stroke="#070890" stroke-width="0.35"/><polygon points="172.8,262.4 174.6,262.5 175.5,259.7 173.7,259.8" fill="#0a10a2" stroke="#0a10a2" stroke-width="0.35"/><polygon points="178.2,255.7 180.0,255.5 180.8,250.2 179.0,250.7" fill="#1631cd" stroke="#1631cd" stroke-width="0.35"/><polygon points="183.5,243.2 185.3,243.4 186.2,234.8 184.3,234.7" fill="#2981d6" stroke="#2981d6" stroke-width="0.35"/><polygon points="188.8,225.5 190.6,227.7 191.5,216.4 189.7,213.8" fill="#4ebe85" stroke="#4ebe85" stroke-width="0.35"/><polygon points="194.2,208.5 196.0,214.3 196.8,203.0 195.0,196.0" fill="#87da31" stroke="#87da31" stroke-width="0.35"/><polygon points="212.8,229.4 214.6,237.4 215.5,236.7 213.7,228.8" fill="#2981d6" stroke="#2981d6" stroke-width="0.35"/><polygon points="164.8,266.6 166.6,267.0 167.5,265.6 165.7,265.3" fill="#06078e" stroke="#06078e" stroke-width="0.35"/><polygon points="167.5,265.6 169.3,266.0 170.2,264.3 168.3,264.1" fill="#070890" stroke="#070890" stroke-width="0.35"/><polygon points="170.2,264.3 172.0,264.6 172.8,262.4 171.0,262.4" fill="#080995" stroke="#080995" stroke-width="0.35"/><polygon points="175.5,259.7 177.3,259.6 178.2,255.7 176.3,256.0" fill="#0f1bb9" stroke="#0f1bb9" stroke-width="0.35"/><polygon points="180.8,250.2 182.6,250.1 183.5,243.2 181.7,243.6" fill="#2052dd" stroke="#2052dd" stroke-width="0.35"/><polygon points="186.2,234.8 188.0,235.7 188.8,225.5 187.0,224.5" fill="#30a6c3" stroke="#30a6c3" stroke-width="0.35"/><polygon points="191.5,216.4 193.3,220.2 194.2,208.5 192.3,203.9" fill="#6dd251" stroke="#6dd251" stroke-width="0.35"/><polygon points="196.8,203.0 198.6,210.8 199.5,200.6 197.7,191.5" fill="#95dc23" stroke="#95dc23" stroke-width="0.35"/><polygon points="199.5,200.6 201.3,210.2 202.2,201.9 200.3,191.0" fill="#95dc23" stroke="#95dc23" stroke-width="0.35"/><polygon points="202.2,201.9 204.0,212.6 204.8,206.3 203.0,194.4" fill="#87da31" stroke="#87da31" stroke-width="0.35"/><polygon points="204.8,206.3 206.6,217.5 207.5,213.1 205.7,201.2" fill="#6dd251" stroke="#6dd251" stroke-width="0.35"/><polygon points="207.5,213.1 209.3,223.9 210.2,221.2 208.3,210.0" fill="#4ebe85" stroke="#4ebe85" stroke-width="0.35"/><polygon points="210.2,221.2 212.0,230.8 212.8,229.4 211.0,219.6" fill="#30a6c3" stroke="#30a6c3" stroke-width="0.35"/><polygon points="215.5,236.7 217.3,243.1 218.2,242.6 216.3,236.6" fill="#2052dd" stroke="#2052dd" stroke-width="0.35"/><polygon points="220.8,247.0 222.6,250.4 223.5,249.9 221.7,246.8" fill="#0f1bb9" stroke="#0f1bb9" stroke-width="0.35"/><polygon points="226.2,251.6 228.0,253.2 228.8,252.4 227.0,251.0" fill="#080995" stroke="#080995" stroke-width="0.35"/><polygon points="231.5,252.6 233.3,253.5 234.2,252.5 232.3,251.8" fill="#06078e" stroke="#06078e" stroke-width="0.35"/><polygon points="172.0,264.6 173.8,264.8 174.6,262.5 172.8,262.4" fill="#080a96" stroke="#080a96" stroke-width="0.35"/><polygon points="177.3,259.6 179.1,259.6 180.0,255.5 178.2,255.7" fill="#101dbf" stroke="#101dbf" stroke-width="0.35"/><polygon points="182.6,250.1 184.4,250.4 185.3,243.4 183.5,243.2" fill="#2156dc" stroke="#2156dc" stroke-width="0.35"/><polygon points="188.0,235.7 189.8,237.4 190.6,227.7 188.8,225.5" fill="#2ea3c9" stroke="#2ea3c9" stroke-width="0.35"/><polygon points="193.3,220.2 195.1,224.9 196.0,214.3 194.2,208.5" fill="#5dc86c" stroke="#5dc86c" stroke-width="0.35"/><polygon points="198.6,210.8 200.4,218.9 201.3,210.2 199.5,200.6" fill="#73d548" stroke="#73d548" stroke-width="0.35"/><polygon points="204.0,212.6 205.8,222.7 206.6,217.5 204.8,206.3" fill="#5dc86c" stroke="#5dc86c" stroke-width="0.35"/><polygon points="209.3,223.9 211.1,233.1 212.0,230.8 210.2,221.2" fill="#2ea3c9" stroke="#2ea3c9" stroke-width="0.35"/><polygon points="214.6,237.4 216.4,243.9 217.3,243.1 215.5,236.7" fill="#2156dc" stroke="#2156dc" stroke-width="0.35"/><polygon points="217.3,243.1 219.1,248.0 220.0,247.4 218.2,242.6" fill="#1734d0" stroke="#1734d0" stroke-width="0.35"/><polygon points="220.0,247.4 221.8,251.0 222.6,250.4 220.8,247.0" fill="#101dbf" stroke="#101dbf" stroke-width="0.35"/><polygon points="222.6,250.4 224.4,252.9 225.3,252.2 223.5,249.9" fill="#0b12a6" stroke="#0b12a6" stroke-width="0.35"/><polygon points="225.3,252.2 227.1,254.0 228.0,253.2 226.2,251.6" fill="#080a96" stroke="#080a96" stroke-width="0.35"/><polygon points="228.0,253.2 229.8,254.4 230.6,253.5 228.8,252.4" fill="#070891" stroke="#070891" stroke-width="0.35"/><polygon points="230.6,253.5 232.4,254.4 233.3,253.5 231.5,252.6" fill="#07078f" stroke="#07078f" stroke-width="0.35"/><polygon points="166.6,267.0 168.4,267.4 169.3,266.0 167.5,265.6" fill="#07078f" stroke="#07078f" stroke-width="0.35"/><polygon points="169.3,266.0 171.1,266.3 172.0,264.6 170.2,264.3" fill="#070891" stroke="#070891" stroke-width="0.35"/><polygon points="174.6,262.5 176.4,262.6 177.3,259.6 175.5,259.7" fill="#0b12a6" stroke="#0b12a6" stroke-width="0.35"/><polygon points="180.0,255.5 181.8,255.6 182.6,250.1 180.8,250.2" fill="#1734d0" stroke="#1734d0" stroke-width="0.35"/><polygon points="185.3,243.4 187.1,244.2 188.0,235.7 186.2,234.8" fill="#2981d6" stroke="#2981d6" stroke-width="0.35"/><polygon points="190.6,227.7 192.4,230.7 193.3,220.2 191.5,216.4" fill="#46b796" stroke="#46b796" stroke-width="0.35"/><polygon points="196.0,214.3 197.8,220.8 198.6,210.8 196.8,203.0" fill="#6dd251" stroke="#6dd251" stroke-width="0.35"/><polygon points="212.0,230.8 213.8,238.8 214.6,237.4 212.8,229.4" fill="#2981d6" stroke="#2981d6" stroke-width="0.35"/><polygon points="201.3,210.2 203.1,219.7 204.0,212.6 202.2,201.9" fill="#6dd251" stroke="#6dd251" stroke-width="0.35"/><polygon points="206.6,217.5 208.4,227.4 209.3,223.9 207.5,213.1" fill="#46b796" stroke="#46b796" stroke-width="0.35"/><polygon points="216.4,243.9 218.3,248.9 219.1,248.0 217.3,243.1" fill="#1836d1" stroke="#1836d1" stroke-width="0.35"/><polygon points="221.8,251.0 223.6,253.6 224.4,252.9 222.6,250.4" fill="#0c13a9" stroke="#0c13a9" stroke-width="0.35"/><polygon points="227.1,254.0 228.9,255.3 229.8,254.4 228.0,253.2" fill="#070892" stroke="#070892" stroke-width="0.35"/><polygon points="171.1,266.3 172.9,266.6 173.8,264.8 172.0,264.6" fill="#070892" stroke="#070892" stroke-width="0.35"/><polygon points="176.4,262.6 178.3,262.9 179.1,259.6 177.3,259.6" fill="#0c13a9" stroke="#0c13a9" stroke-width="0.35"/><polygon points="181.8,255.6 183.6,255.9 184.4,250.4 182.6,250.1" fill="#1836d1" stroke="#1836d1" stroke-width="0.35"/><polygon points="187.1,244.2 188.9,245.6 189.8,237.4 188.0,235.7" fill="#287ed7" stroke="#287ed7" stroke-width="0.35"/><polygon points="192.4,230.7 194.3,234.4 195.1,224.9 193.3,220.2" fill="#3aaeae" stroke="#3aaeae" stroke-width="0.35"/><polygon points="197.8,220.8 199.6,227.6 200.4,218.9 198.6,210.8" fill="#52c17c" stroke="#52c17c" stroke-width="0.35"/><polygon points="211.1,233.1 212.9,240.7 213.8,238.8 212.0,230.8" fill="#287ed7" stroke="#287ed7" stroke-width="0.35"/><polygon points="168.4,267.4 170.3,267.8 171.1,266.3 169.3,266.0" fill="#07078f" stroke="#07078f" stroke-width="0.35"/><polygon points="173.8,264.8 175.6,265.1 176.4,262.6 174.6,262.5" fill="#080b99" stroke="#080b99" stroke-width="0.35"/><polygon points="179.1,259.6 180.9,259.8 181.8,255.6 180.0,255.5" fill="#1120c1" stroke="#1120c1" stroke-width="0.35"/><polygon points="184.4,250.4 186.3,251.1 187.1,244.2 185.3,243.4" fill="#2156dc" stroke="#2156dc" stroke-width="0.35"/><polygon points="189.8,237.4 191.6,239.8 192.4,230.7 190.6,227.7" fill="#2d9acc" stroke="#2d9acc" stroke-width="0.35"/><polygon points="195.1,224.9 196.9,230.2 197.8,220.8 196.0,214.3" fill="#4abb8e" stroke="#4abb8e" stroke-width="0.35"/><polygon points="200.4,218.9 202.3,227.0 203.1,219.7 201.3,210.2" fill="#52c17c" stroke="#52c17c" stroke-width="0.35"/><polygon points="203.1,219.7 204.9,228.5 205.8,222.7 204.0,212.6" fill="#4abb8e" stroke="#4abb8e" stroke-width="0.35"/><polygon points="205.8,222.7 207.6,231.7 208.4,227.4 206.6,217.5" fill="#3aaeae" stroke="#3aaeae" stroke-width="0.35"/><polygon points="208.4,227.4 210.3,236.0 211.1,233.1 209.3,223.9" fill="#2d9acc" stroke="#2d9acc" stroke-width="0.35"/><polygon points="213.8,238.8 215.6,245.1 216.4,243.9 214.6,237.4" fill="#2156dc" stroke="#2156dc" stroke-width="0.35"/><polygon points="219.1,248.0 220.9,251.7 221.8,251.0 220.0,247.4" fill="#1120c1" stroke="#1120c1" stroke-width="0.35"/><polygon points="224.4,252.9 226.3,254.8 227.1,254.0 225.3,252.2" fill="#080b99" stroke="#080b99" stroke-width="0.35"/><polygon points="229.8,254.4 231.6,255.3 232.4,254.4 230.6,253.5" fill="#07078f" stroke="#07078f" stroke-width="0.35"/><polygon points="170.3,267.8 172.1,268.2 172.9,266.6 171.1,266.3" fill="#070790" stroke="#070790" stroke-width="0.35"/><polygon points="175.6,265.1 177.4,265.4 178.3,262.9 176.4,262.6" fill="#090c9b" stroke="#090c9b" stroke-width="0.35"/><polygon points="180.9,259.8 182.7,260.2 183.6,255.9 181.8,255.6" fill="#1121c2" stroke="#1121c2" stroke-width="0.35"/><polygon points="186.3,251.1 188.1,252.2 188.9,245.6 187.1,244.2" fill="#2052dd" stroke="#2052dd" stroke-width="0.35"/><polygon points="191.6,239.8 193.4,242.7 194.3,234.4 192.4,230.7" fill="#2b8fd0" stroke="#2b8fd0" stroke-width="0.35"/><polygon points="196.9,230.2 198.7,235.7 199.6,227.6 197.8,220.8" fill="#37abb5" stroke="#37abb5" stroke-width="0.35"/><polygon points="202.3,227.0 204.1,234.6 204.9,228.5 203.1,219.7" fill="#37abb5" stroke="#37abb5" stroke-width="0.35"/><polygon points="207.6,231.7 209.4,239.5 210.3,236.0 208.4,227.4" fill="#2b8fd0" stroke="#2b8fd0" stroke-width="0.35"/><polygon points="212.9,240.7 214.7,246.8 215.6,245.1 213.8,238.8" fill="#2052dd" stroke="#2052dd" stroke-width="0.35"/><polygon points="215.6,245.1 217.4,250.1 218.3,248.9 216.4,243.9" fill="#1836d1" stroke="#1836d1" stroke-width="0.35"/><polygon points="218.3,248.9 220.1,252.7 220.9,251.7 219.1,248.0" fill="#1121c2" stroke="#1121c2" stroke-width="0.35"/><polygon points="220.9,251.7 222.7,254.5 223.6,253.6 221.8,251.0" fill="#0c14ac" stroke="#0c14ac" stroke-width="0.35"/><polygon points="223.6,253.6 225.4,255.6 226.3,254.8 224.4,252.9" fill="#090c9b" stroke="#090c9b" stroke-width="0.35"/><polygon points="226.3,254.8 228.1,256.2 228.9,255.3 227.1,254.0" fill="#070993" stroke="#070993" stroke-width="0.35"/><polygon points="228.9,255.3 230.7,256.3 231.6,255.3 229.8,254.4" fill="#070790" stroke="#070790" stroke-width="0.35"/><polygon points="172.9,266.6 174.7,267.0 175.6,265.1 173.8,264.8" fill="#070993" stroke="#070993" stroke-width="0.35"/><polygon points="178.3,262.9 180.1,263.2 180.9,259.8 179.1,259.6" fill="#0c14ac" stroke="#0c14ac" stroke-width="0.35"/><polygon points="183.6,255.9 185.4,256.6 186.3,251.1 184.4,250.4" fill="#1836d1" stroke="#1836d1" stroke-width="0.35"/><polygon points="188.9,245.6 190.7,247.5 191.6,239.8 189.8,237.4" fill="#2776d9" stroke="#2776d9" stroke-width="0.35"/><polygon points="194.3,234.4 196.1,238.6 196.9,230.2 195.1,224.9" fill="#2ea3c9" stroke="#2ea3c9" stroke-width="0.35"/><polygon points="199.6,227.6 201.4,234.3 202.3,227.0 200.4,218.9" fill="#3aaeae" stroke="#3aaeae" stroke-width="0.35"/><polygon points="210.3,236.0 212.1,243.1 212.9,240.7 211.1,233.1" fill="#2776d9" stroke="#2776d9" stroke-width="0.35"/><polygon points="204.9,228.5 206.7,236.5 207.6,231.7 205.8,222.7" fill="#2ea3c9" stroke="#2ea3c9" stroke-width="0.35"/><polygon points="214.7,246.8 216.5,251.5 217.4,250.1 215.6,245.1" fill="#1734d0" stroke="#1734d0" stroke-width="0.35"/><polygon points="220.1,252.7 221.9,255.5 222.7,254.5 220.9,251.7" fill="#0c15ad" stroke="#0c15ad" stroke-width="0.35"/><polygon points="225.4,255.6 227.2,257.1 228.1,256.2 226.3,254.8" fill="#080994" stroke="#080994" stroke-width="0.35"/><polygon points="174.7,267.0 176.5,267.4 177.4,265.4 175.6,265.1" fill="#080994" stroke="#080994" stroke-width="0.35"/><polygon points="180.1,263.2 181.9,263.6 182.7,260.2 180.9,259.8" fill="#0c15ad" stroke="#0c15ad" stroke-width="0.35"/><polygon points="185.4,256.6 187.2,257.5 188.1,252.2 186.3,251.1" fill="#1734d0" stroke="#1734d0" stroke-width="0.35"/><polygon points="190.7,247.5 192.5,249.7 193.4,242.7 191.6,239.8" fill="#2469da" stroke="#2469da" stroke-width="0.35"/><polygon points="196.1,238.6 197.9,243.0 198.7,235.7 196.9,230.2" fill="#2b8fd0" stroke="#2b8fd0" stroke-width="0.35"/><polygon points="201.4,234.3 203.2,240.6 204.1,234.6 202.3,227.0" fill="#2c97cd" stroke="#2c97cd" stroke-width="0.35"/><polygon points="209.4,239.5 211.2,245.9 212.1,243.1 210.3,236.0" fill="#2469da" stroke="#2469da" stroke-width="0.35"/><polygon points="172.1,268.2 173.9,268.6 174.7,267.0 172.9,266.6" fill="#070890" stroke="#070890" stroke-width="0.35"/><polygon points="177.4,265.4 179.2,265.7 180.1,263.2 178.3,262.9" fill="#090d9c" stroke="#090d9c" stroke-width="0.35"/><polygon points="182.7,260.2 184.5,260.8 185.4,256.6 183.6,255.9" fill="#1121c2" stroke="#1121c2" stroke-width="0.35"/><polygon points="188.1,252.2 189.9,253.7 190.7,247.5 188.9,245.6" fill="#1f4cde" stroke="#1f4cde" stroke-width="0.35"/><polygon points="193.4,242.7 195.2,246.0 196.1,238.6 194.3,234.4" fill="#2981d6" stroke="#2981d6" stroke-width="0.35"/><polygon points="198.7,235.7 200.5,241.1 201.4,234.3 199.6,227.6" fill="#2c97cd" stroke="#2c97cd" stroke-width="0.35"/><polygon points="204.1,234.6 205.9,241.4 206.7,236.5 204.9,228.5" fill="#2b8fd0" stroke="#2b8fd0" stroke-width="0.35"/><polygon points="206.7,236.5 208.5,243.3 209.4,239.5 207.6,231.7" fill="#2981d6" stroke="#2981d6" stroke-width="0.35"/><polygon points="212.1,243.1 213.9,248.8 214.7,246.8 212.9,240.7" fill="#1f4cde" stroke="#1f4cde" stroke-width="0.35"/><polygon points="217.4,250.1 219.2,253.8 220.1,252.7 218.3,248.9" fill="#1121c2" stroke="#1121c2" stroke-width="0.35"/><polygon points="222.7,254.5 224.5,256.5 225.4,255.6 223.6,253.6" fill="#090d9c" stroke="#090d9c" stroke-width="0.35"/><polygon points="228.1,256.2 229.9,257.2 230.7,256.3 228.9,255.3" fill="#070890" stroke="#070890" stroke-width="0.35"/><polygon points="173.9,268.6 175.7,269.0 176.5,267.4 174.7,267.0" fill="#070891" stroke="#070891" stroke-width="0.35"/><polygon points="179.2,265.7 181.0,266.2 181.9,263.6 180.1,263.2" fill="#090d9d" stroke="#090d9d" stroke-width="0.35"/><polygon points="184.5,260.8 186.4,261.6 187.2,257.5 185.4,256.6" fill="#1120c1" stroke="#1120c1" stroke-width="0.35"/><polygon points="189.9,253.7 191.7,255.4 192.5,249.7 190.7,247.5" fill="#1c43db" stroke="#1c43db" stroke-width="0.35"/><polygon points="195.2,246.0 197.0,249.4 197.9,243.0 196.1,238.6" fill="#256dda" stroke="#256dda" stroke-width="0.35"/><polygon points="200.5,241.1 202.4,246.3 203.2,240.6 201.4,234.3" fill="#287ed7" stroke="#287ed7" stroke-width="0.35"/><polygon points="205.9,241.4 207.7,247.3 208.5,243.3 206.7,236.5" fill="#256dda" stroke="#256dda" stroke-width="0.35"/><polygon points="211.2,245.9 213.0,251.1 213.9,248.8 212.1,243.1" fill="#1c43db" stroke="#1c43db" stroke-width="0.35"/><polygon points="213.9,248.8 215.7,253.2 216.5,251.5 214.7,246.8" fill="#1631cd" stroke="#1631cd" stroke-width="0.35"/><polygon points="216.5,251.5 218.4,255.1 219.2,253.8 217.4,250.1" fill="#1120c1" stroke="#1120c1" stroke-width="0.35"/><polygon points="219.2,253.8 221.0,256.6 221.9,255.5 220.1,252.7" fill="#0c15ad" stroke="#0c15ad" stroke-width="0.35"/><polygon points="221.9,255.5 223.7,257.5 224.5,256.5 222.7,254.5" fill="#090d9d" stroke="#090d9d" stroke-width="0.35"/><polygon points="224.5,256.5 226.4,258.1 227.2,257.1 225.4,255.6" fill="#080994" stroke="#080994" stroke-width="0.35"/><polygon points="227.2,257.1 229.0,258.2 229.9,257.2 228.1,256.2" fill="#070891" stroke="#070891" stroke-width="0.35"/><polygon points="229.9,257.2 231.7,258.1 232.5,257.1 230.7,256.3" fill="#06078e" stroke="#06078e" stroke-width="0.35"/><polygon points="171.2,269.5 173.0,270.0 173.9,268.6 172.1,268.2" fill="#06078e" stroke="#06078e" stroke-width="0.35"/><polygon points="176.5,267.4 178.4,267.8 179.2,265.7 177.4,265.4" fill="#080994" stroke="#080994" stroke-width="0.35"/><polygon points="181.9,263.6 183.7,264.2 184.5,260.8 182.7,260.2" fill="#0c15ad" stroke="#0c15ad" stroke-width="0.35"/><polygon points="187.2,257.5 189.0,258.7 189.9,253.7 188.1,252.2" fill="#1631cd" stroke="#1631cd" stroke-width="0.35"/><polygon points="192.5,249.7 194.4,252.2 195.2,246.0 193.4,242.7" fill="#2159dc" stroke="#2159dc" stroke-width="0.35"/><polygon points="197.9,243.0 199.7,247.4 200.5,241.1 198.7,235.7" fill="#287ad8" stroke="#287ad8" stroke-width="0.35"/><polygon points="203.2,240.6 205.0,246.3 205.9,241.4 204.1,234.6" fill="#287ad8" stroke="#287ad8" stroke-width="0.35"/><polygon points="208.5,243.3 210.4,249.0 211.2,245.9 209.4,239.5" fill="#2159dc" stroke="#2159dc" stroke-width="0.35"/><polygon points="213.0,251.1 214.8,255.1 215.7,253.2 213.9,248.8" fill="#142bca" stroke="#142bca" stroke-width="0.35"/><polygon points="218.4,255.1 220.2,257.8 221.0,256.6 219.2,253.8" fill="#0c14ac" stroke="#0c14ac" stroke-width="0.35"/><polygon points="223.7,257.5 225.5,259.1 226.4,258.1 224.5,256.5" fill="#080994" stroke="#080994" stroke-width="0.35"/><polygon points="229.0,258.2 230.8,259.1 231.7,258.1 229.9,257.2" fill="#07078f" stroke="#07078f" stroke-width="0.35"/><polygon points="173.0,270.0 174.8,270.5 175.7,269.0 173.9,268.6" fill="#07078f" stroke="#07078f" stroke-width="0.35"/><polygon points="178.4,267.8 180.2,268.3 181.0,266.2 179.2,265.7" fill="#080994" stroke="#080994" stroke-width="0.35"/><polygon points="183.7,264.2 185.5,264.8 186.4,261.6 184.5,260.8" fill="#0c14ac" stroke="#0c14ac" stroke-width="0.35"/><polygon points="189.0,258.7 190.8,260.0 191.7,255.4 189.9,253.7" fill="#142bca" stroke="#142bca" stroke-width="0.35"/><polygon points="194.4,252.2 196.2,254.9 197.0,249.4 195.2,246.0" fill="#1e48de" stroke="#1e48de" stroke-width="0.35"/><polygon points="199.7,247.4 201.5,251.4 202.4,246.3 200.5,241.1" fill="#225ddc" stroke="#225ddc" stroke-width="0.35"/><polygon points="205.0,246.3 206.8,251.2 207.7,247.3 205.9,241.4" fill="#2156dc" stroke="#2156dc" stroke-width="0.35"/><polygon points="207.7,247.3 209.5,252.2 210.4,249.0 208.5,243.3" fill="#1e48de" stroke="#1e48de" stroke-width="0.35"/><polygon points="175.7,269.0 177.5,269.5 178.4,267.8 176.5,267.4" fill="#070891" stroke="#070891" stroke-width="0.35"/><polygon points="181.0,266.2 182.8,266.7 183.7,264.2 181.9,263.6" fill="#090d9d" stroke="#090d9d" stroke-width="0.35"/><polygon points="186.4,261.6 188.2,262.6 189.0,258.7 187.2,257.5" fill="#101dbf" stroke="#101dbf" stroke-width="0.35"/><polygon points="191.7,255.4 193.5,257.4 194.4,252.2 192.5,249.7" fill="#193ad4" stroke="#193ad4" stroke-width="0.35"/><polygon points="197.0,249.4 198.8,252.8 199.7,247.4 197.9,243.0" fill="#2156dc" stroke="#2156dc" stroke-width="0.35"/><polygon points="202.4,246.3 204.2,250.9 205.0,246.3 203.2,240.6" fill="#225ddc" stroke="#225ddc" stroke-width="0.35"/><polygon points="210.4,249.0 212.2,253.6 213.0,251.1 211.2,245.9" fill="#193ad4" stroke="#193ad4" stroke-width="0.35"/><polygon points="215.7,253.2 217.5,256.6 218.4,255.1 216.5,251.5" fill="#101dbf" stroke="#101dbf" stroke-width="0.35"/><polygon points="221.0,256.6 222.8,258.6 223.7,257.5 221.9,255.5" fill="#090d9d" stroke="#090d9d" stroke-width="0.35"/><polygon points="226.4,258.1 228.2,259.2 229.0,258.2 227.2,257.1" fill="#070891" stroke="#070891" stroke-width="0.35"/><polygon points="177.5,269.5 179.3,270.0 180.2,268.3 178.4,267.8" fill="#070891" stroke="#070891" stroke-width="0.35"/><polygon points="182.8,266.7 184.6,267.3 185.5,264.8 183.7,264.2" fill="#090d9c" stroke="#090d9c" stroke-width="0.35"/><polygon points="188.2,262.6 190.0,263.6 190.8,260.0 189.0,258.7" fill="#0f1bb9" stroke="#0f1bb9" stroke-width="0.35"/><polygon points="193.5,257.4 195.3,259.4 196.2,254.9 194.4,252.2" fill="#1631cd" stroke="#1631cd" stroke-width="0.35"/><polygon points="198.8,252.8 200.6,256.0 201.5,251.4 199.7,247.4" fill="#1c41d9" stroke="#1c41d9" stroke-width="0.35"/><polygon points="204.2,250.9 206.0,254.9 206.8,251.2 205.0,246.3" fill="#1c41d9" stroke="#1c41d9" stroke-width="0.35"/><polygon points="206.8,251.2 208.6,255.3 209.5,252.2 207.7,247.3" fill="#193ad4" stroke="#193ad4" stroke-width="0.35"/><polygon points="209.5,252.2 211.3,256.1 212.2,253.6 210.4,249.0" fill="#1631cd" stroke="#1631cd" stroke-width="0.35"/><polygon points="212.2,253.6 214.0,257.1 214.8,255.1 213.0,251.1" fill="#1225c5" stroke="#1225c5" stroke-width="0.35"/><polygon points="214.8,255.1 216.6,258.2 217.5,256.6 215.7,253.2" fill="#0f1bb9" stroke="#0f1bb9" stroke-width="0.35"/><polygon points="217.5,256.6 219.3,259.1 220.2,257.8 218.4,255.1" fill="#0c13a9" stroke="#0c13a9" stroke-width="0.35"/><polygon points="220.2,257.8 222.0,259.8 222.8,258.6 221.0,256.6" fill="#090d9c" stroke="#090d9c" stroke-width="0.35"/><polygon points="222.8,258.6 224.6,260.1 225.5,259.1 223.7,257.5" fill="#080994" stroke="#080994" stroke-width="0.35"/><polygon points="225.5,259.1 227.3,260.2 228.2,259.2 226.4,258.1" fill="#070891" stroke="#070891" stroke-width="0.35"/><polygon points="228.2,259.2 230.0,260.1 230.8,259.1 229.0,258.2" fill="#07078f" stroke="#07078f" stroke-width="0.35"/><polygon points="174.8,270.5 176.6,270.9 177.5,269.5 175.7,269.0" fill="#07078f" stroke="#07078f" stroke-width="0.35"/><polygon points="180.2,268.3 182.0,268.8 182.8,266.7 181.0,266.2" fill="#080994" stroke="#080994" stroke-width="0.35"/><polygon points="185.5,264.8 187.3,265.6 188.2,262.6 186.4,261.6" fill="#0c13a9" stroke="#0c13a9" stroke-width="0.35"/><polygon points="190.8,260.0 192.6,261.5 193.5,257.4 191.7,255.4" fill="#1225c5" stroke="#1225c5" stroke-width="0.35"/><polygon points="196.2,254.9 198.0,257.5 198.8,252.8 197.0,249.4" fill="#193ad4" stroke="#193ad4" stroke-width="0.35"/><polygon points="201.5,251.4 203.3,255.1 204.2,250.9 202.4,246.3" fill="#1c43db" stroke="#1c43db" stroke-width="0.35"/><polygon points="211.3,256.1 213.1,259.2 214.0,257.1 212.2,253.6" fill="#101ec0" stroke="#101ec0" stroke-width="0.35"/><polygon points="216.6,258.2 218.5,260.5 219.3,259.1 217.5,256.6" fill="#0b12a6" stroke="#0b12a6" stroke-width="0.35"/><polygon points="222.0,259.8 223.8,261.2 224.6,260.1 222.8,258.6" fill="#080994" stroke="#080994" stroke-width="0.35"/><polygon points="227.3,260.2 229.1,261.1 230.0,260.1 228.2,259.2" fill="#07078f" stroke="#07078f" stroke-width="0.35"/><polygon points="176.6,270.9 178.5,271.4 179.3,270.0 177.5,269.5" fill="#07078f" stroke="#07078f" stroke-width="0.35"/><polygon points="182.0,268.8 183.8,269.4 184.6,267.3 182.8,266.7" fill="#080994" stroke="#080994" stroke-width="0.35"/><polygon points="187.3,265.6 189.1,266.5 190.0,263.6 188.2,262.6" fill="#0b12a6" stroke="#0b12a6" stroke-width="0.35"/><polygon points="192.6,261.5 194.5,263.0 195.3,259.4 193.5,257.4" fill="#101ec0" stroke="#101ec0" stroke-width="0.35"/><polygon points="198.0,257.5 199.8,259.9 200.6,256.0 198.8,252.8" fill="#152dcb" stroke="#152dcb" stroke-width="0.35"/><polygon points="203.3,255.1 205.1,258.4 206.0,254.9 204.2,250.9" fill="#1631cd" stroke="#1631cd" stroke-width="0.35"/><polygon points="206.0,254.9 207.8,258.3 208.6,255.3 206.8,251.2" fill="#152dcb" stroke="#152dcb" stroke-width="0.35"/><polygon points="208.6,255.3 210.5,258.6 211.3,256.1 209.5,252.2" fill="#1327c6" stroke="#1327c6" stroke-width="0.35"/><polygon points="179.3,270.0 181.1,270.5 182.0,268.8 180.2,268.3" fill="#070891" stroke="#070891" stroke-width="0.35"/><polygon points="184.6,267.3 186.5,268.0 187.3,265.6 185.5,264.8" fill="#090c9b" stroke="#090c9b" stroke-width="0.35"/><polygon points="190.0,263.6 191.8,264.8 192.6,261.5 190.8,260.0" fill="#0e18b3" stroke="#0e18b3" stroke-width="0.35"/><polygon points="195.3,259.4 197.1,261.3 198.0,257.5 196.2,254.9" fill="#1327c6" stroke="#1327c6" stroke-width="0.35"/><polygon points="200.6,256.0 202.5,258.9 203.3,255.1 201.5,251.4" fill="#1631cd" stroke="#1631cd" stroke-width="0.35"/><polygon points="214.0,257.1 215.8,259.9 216.6,258.2 214.8,255.1" fill="#0e18b3" stroke="#0e18b3" stroke-width="0.35"/><polygon points="219.3,259.1 221.1,261.0 222.0,259.8 220.2,257.8" fill="#090c9b" stroke="#090c9b" stroke-width="0.35"/><polygon points="224.6,260.1 226.5,261.3 227.3,260.2 225.5,259.1" fill="#070891" stroke="#070891" stroke-width="0.35"/><polygon points="210.5,258.6 212.3,261.3 213.1,259.2 211.3,256.1" fill="#0e19b6" stroke="#0e19b6" stroke-width="0.35"/><polygon points="181.1,270.5 182.9,271.0 183.8,269.4 182.0,268.8" fill="#070891" stroke="#070891" stroke-width="0.35"/><polygon points="186.5,268.0 188.3,268.8 189.1,266.5 187.3,265.6" fill="#080b99" stroke="#080b99" stroke-width="0.35"/><polygon points="191.8,264.8 193.6,266.0 194.5,263.0 192.6,261.5" fill="#0c14ac" stroke="#0c14ac" stroke-width="0.35"/><polygon points="197.1,261.3 198.9,263.2 199.8,259.9 198.0,257.5" fill="#101dbf" stroke="#101dbf" stroke-width="0.35"/><polygon points="202.5,258.9 204.3,261.4 205.1,258.4 203.3,255.1" fill="#1122c3" stroke="#1122c3" stroke-width="0.35"/><polygon points="205.1,258.4 206.9,261.1 207.8,258.3 206.0,254.9" fill="#1121c2" stroke="#1121c2" stroke-width="0.35"/><polygon points="207.8,258.3 209.6,261.0 210.5,258.6 208.6,255.3" fill="#101dbf" stroke="#101dbf" stroke-width="0.35"/><polygon points="213.1,259.2 214.9,261.6 215.8,259.9 214.0,257.1" fill="#0c14ac" stroke="#0c14ac" stroke-width="0.35"/><polygon points="215.8,259.9 217.6,262.0 218.5,260.5 216.6,258.2" fill="#0a10a2" stroke="#0a10a2" stroke-width="0.35"/><polygon points="218.5,260.5 220.3,262.3 221.1,261.0 219.3,259.1" fill="#080b99" stroke="#080b99" stroke-width="0.35"/><polygon points="221.1,261.0 222.9,262.4 223.8,261.2 222.0,259.8" fill="#080994" stroke="#080994" stroke-width="0.35"/><polygon points="223.8,261.2 225.6,262.3 226.5,261.3 224.6,260.1" fill="#070891" stroke="#070891" stroke-width="0.35"/><polygon points="226.5,261.3 228.3,262.2 229.1,261.1 227.3,260.2" fill="#07078f" stroke="#07078f" stroke-width="0.35"/><polygon points="178.5,271.4 180.3,271.9 181.1,270.5 179.3,270.0" fill="#07078f" stroke="#07078f" stroke-width="0.35"/><polygon points="183.8,269.4 185.6,270.0 186.5,268.0 184.6,267.3" fill="#080994" stroke="#080994" stroke-width="0.35"/><polygon points="189.1,266.5 190.9,267.4 191.8,264.8 190.0,263.6" fill="#0a10a2" stroke="#0a10a2" stroke-width="0.35"/><polygon points="194.5,263.0 196.3,264.5 197.1,261.3 195.3,259.4" fill="#0e19b6" stroke="#0e19b6" stroke-width="0.35"/><polygon points="199.8,259.9 201.6,262.2 202.5,258.9 200.6,256.0" fill="#1121c2" stroke="#1121c2" stroke-width="0.35"/><polygon points="209.6,261.0 211.4,263.3 212.3,261.3 210.5,258.6" fill="#0c14ac" stroke="#0c14ac" stroke-width="0.35"/><polygon points="214.9,261.6 216.7,263.5 217.6,262.0 215.8,259.9" fill="#090d9d" stroke="#090d9d" stroke-width="0.35"/><polygon points="220.3,262.3 222.1,263.6 222.9,262.4 221.1,261.0" fill="#070993" stroke="#070993" stroke-width="0.35"/><polygon points="225.6,262.3 227.4,263.2 228.3,262.2 226.5,261.3" fill="#07078f" stroke="#07078f" stroke-width="0.35"/><polygon points="180.3,271.9 182.1,272.4 182.9,271.0 181.1,270.5" fill="#07078f" stroke="#07078f" stroke-width="0.35"/><polygon points="185.6,270.0 187.4,270.6 188.3,268.8 186.5,268.0" fill="#070993" stroke="#070993" stroke-width="0.35"/><polygon points="190.9,267.4 192.7,268.3 193.6,266.0 191.8,264.8" fill="#090d9d" stroke="#090d9d" stroke-width="0.35"/><polygon points="196.3,264.5 198.1,266.0 198.9,263.2 197.1,261.3" fill="#0c14ac" stroke="#0c14ac" stroke-width="0.35"/><polygon points="201.6,262.2 203.4,264.1 204.3,261.4 202.5,258.9" fill="#0e18b4" stroke="#0e18b4" stroke-width="0.35"/><polygon points="204.3,261.4 206.1,263.6 206.9,261.1 205.1,258.4" fill="#0e18b4" stroke="#0e18b4" stroke-width="0.35"/><polygon points="206.9,261.1 208.7,263.3 209.6,261.0 207.8,258.3" fill="#0d17b1" stroke="#0d17b1" stroke-width="0.35"/><polygon points="212.3,261.3 214.1,263.3 214.9,261.6 213.1,259.2" fill="#0b11a5" stroke="#0b11a5" stroke-width="0.35"/><polygon points="182.9,271.0 184.7,271.6 185.6,270.0 183.8,269.4" fill="#070891" stroke="#070891" stroke-width="0.35"/><polygon points="188.3,268.8 190.1,269.5 190.9,267.4 189.1,266.5" fill="#080a96" stroke="#080a96" stroke-width="0.35"/><polygon points="193.6,266.0 195.4,267.1 196.3,264.5 194.5,263.0" fill="#0b11a5" stroke="#0b11a5" stroke-width="0.35"/><polygon points="198.9,263.2 200.7,264.9 201.6,262.2 199.8,259.9" fill="#0d17b1" stroke="#0d17b1" stroke-width="0.35"/><polygon points="217.6,262.0 219.4,263.6 220.3,262.3 218.5,260.5" fill="#080a96" stroke="#080a96" stroke-width="0.35"/><polygon points="222.9,262.4 224.7,263.4 225.6,262.3 223.8,261.2" fill="#070891" stroke="#070891" stroke-width="0.35"/><polygon points="208.7,263.3 210.6,265.1 211.4,263.3 209.6,261.0" fill="#0a10a3" stroke="#0a10a3" stroke-width="0.35"/><polygon points="214.1,263.3 215.9,264.9 216.7,263.5 214.9,261.6" fill="#080b99" stroke="#080b99" stroke-width="0.35"/><polygon points="184.7,271.6 186.6,272.2 187.4,270.6 185.6,270.0" fill="#070890" stroke="#070890" stroke-width="0.35"/><polygon points="190.1,269.5 191.9,270.3 192.7,268.3 190.9,267.4" fill="#080995" stroke="#080995" stroke-width="0.35"/><polygon points="195.4,267.1 197.2,268.2 198.1,266.0 196.3,264.5" fill="#0a0e9e" stroke="#0a0e9e" stroke-width="0.35"/><polygon points="200.7,264.9 202.6,266.5 203.4,264.1 201.6,262.2" fill="#0b12a6" stroke="#0b12a6" stroke-width="0.35"/><polygon points="203.4,264.1 205.2,265.8 206.1,263.6 204.3,261.4" fill="#0b12a7" stroke="#0b12a7" stroke-width="0.35"/><polygon points="206.1,263.6 207.9,265.4 208.7,263.3 206.9,261.1" fill="#0b12a6" stroke="#0b12a6" stroke-width="0.35"/><polygon points="211.4,263.3 213.2,265.0 214.1,263.3 212.3,261.3" fill="#0a0e9e" stroke="#0a0e9e" stroke-width="0.35"/><polygon points="216.7,263.5 218.6,264.9 219.4,263.6 217.6,262.0" fill="#080995" stroke="#080995" stroke-width="0.35"/><polygon points="219.4,263.6 221.2,264.8 222.1,263.6 220.3,262.3" fill="#070892" stroke="#070892" stroke-width="0.35"/><polygon points="222.1,263.6 223.9,264.6 224.7,263.4 222.9,262.4" fill="#070890" stroke="#070890" stroke-width="0.35"/><polygon points="224.7,263.4 226.6,264.3 227.4,263.2 225.6,262.3" fill="#07078f" stroke="#07078f" stroke-width="0.35"/><polygon points="182.1,272.4 183.9,273.0 184.7,271.6 182.9,271.0" fill="#07078f" stroke="#07078f" stroke-width="0.35"/><polygon points="187.4,270.6 189.2,271.3 190.1,269.5 188.3,268.8" fill="#070892" stroke="#070892" stroke-width="0.35"/><polygon points="192.7,268.3 194.6,269.3 195.4,267.1 193.6,266.0" fill="#080b99" stroke="#080b99" stroke-width="0.35"/><polygon points="198.1,266.0 199.9,267.3 200.7,264.9 198.9,263.2" fill="#0a10a3" stroke="#0a10a3" stroke-width="0.35"/><polygon points="207.9,265.4 209.7,266.9 210.6,265.1 208.7,263.3" fill="#090c9b" stroke="#090c9b" stroke-width="0.35"/><polygon points="213.2,265.0 215.0,266.4 215.9,264.9 214.1,263.3" fill="#080a95" stroke="#080a95" stroke-width="0.35"/><polygon points="218.6,264.9 220.4,266.0 221.2,264.8 219.4,263.6" fill="#070891" stroke="#070891" stroke-width="0.35"/><polygon points="223.9,264.6 225.7,265.4 226.6,264.3 224.7,263.4" fill="#06078e" stroke="#06078e" stroke-width="0.35"/><polygon points="183.9,273.0 185.7,273.5 186.6,272.2 184.7,271.6" fill="#06078e" stroke="#06078e" stroke-width="0.35"/><polygon points="189.2,271.3 191.0,271.9 191.9,270.3 190.1,269.5" fill="#070891" stroke="#070891" stroke-width="0.35"/><polygon points="194.6,269.3 196.4,270.2 197.2,268.2 195.4,267.1" fill="#080a95" stroke="#080a95" stroke-width="0.35"/><polygon points="199.9,267.3 201.7,268.5 202.6,266.5 200.7,264.9" fill="#090c9b" stroke="#090c9b" stroke-width="0.35"/><polygon points="202.6,266.5 204.4,267.8 205.2,265.8 203.4,264.1" fill="#090d9c" stroke="#090d9c" stroke-width="0.35"/><polygon points="205.2,265.8 207.0,267.3 207.9,265.4 206.1,263.6" fill="#090d9c" stroke="#090d9c" stroke-width="0.35"/><polygon points="210.6,265.1 212.4,266.6 213.2,265.0 211.4,263.3" fill="#080b98" stroke="#080b98" stroke-width="0.35"/><polygon points="215.9,264.9 217.7,266.2 218.6,264.9 216.7,263.5" fill="#070993" stroke="#070993" stroke-width="0.35"/><polygon points="186.6,272.2 188.4,272.7 189.2,271.3 187.4,270.6" fill="#070790" stroke="#070790" stroke-width="0.35"/><polygon points="191.9,270.3 193.7,271.0 194.6,269.3 192.7,268.3" fill="#070993" stroke="#070993" stroke-width="0.35"/><polygon points="197.2,268.2 199.0,269.3 199.9,267.3 198.1,266.0" fill="#080b98" stroke="#080b98" stroke-width="0.35"/><polygon points="221.2,264.8 223.0,265.7 223.9,264.6 222.1,263.6" fill="#070790" stroke="#070790" stroke-width="0.35"/><polygon points="207.0,267.3 208.8,268.5 209.7,266.9 207.9,265.4" fill="#080a95" stroke="#080a95" stroke-width="0.35"/><polygon points="212.4,266.6 214.2,267.8 215.0,266.4 213.2,265.0" fill="#070993" stroke="#070993" stroke-width="0.35"/><polygon points="217.7,266.2 219.5,267.2 220.4,266.0 218.6,264.9" fill="#070890" stroke="#070890" stroke-width="0.35"/><polygon points="188.4,272.7 190.2,273.3 191.0,271.9 189.2,271.3" fill="#07078f" stroke="#07078f" stroke-width="0.35"/><polygon points="193.7,271.0 195.5,271.8 196.4,270.2 194.6,269.3" fill="#070892" stroke="#070892" stroke-width="0.35"/><polygon points="199.0,269.3 200.8,270.3 201.7,268.5 199.9,267.3" fill="#080994" stroke="#080994" stroke-width="0.35"/><polygon points="201.7,268.5 203.5,269.6 204.4,267.8 202.6,266.5" fill="#080a95" stroke="#080a95" stroke-width="0.35"/><polygon points="204.4,267.8 206.2,269.0 207.0,267.3 205.2,265.8" fill="#080a95" stroke="#080a95" stroke-width="0.35"/><polygon points="209.7,266.9 211.5,268.1 212.4,266.6 210.6,265.1" fill="#080994" stroke="#080994" stroke-width="0.35"/><polygon points="215.0,266.4 216.8,267.5 217.7,266.2 215.9,264.9" fill="#070892" stroke="#070892" stroke-width="0.35"/><polygon points="220.4,266.0 222.2,266.8 223.0,265.7 221.2,264.8" fill="#07078f" stroke="#07078f" stroke-width="0.35"/><polygon points="191.0,271.9 192.8,272.6 193.7,271.0 191.9,270.3" fill="#070890" stroke="#070890" stroke-width="0.35"/><polygon points="196.4,270.2 198.2,271.0 199.0,269.3 197.2,268.2" fill="#070993" stroke="#070993" stroke-width="0.35"/><polygon points="206.2,269.0 208.0,270.0 208.8,268.5 207.0,267.3" fill="#070993" stroke="#070993" stroke-width="0.35"/><polygon points="211.5,268.1 213.3,269.1 214.2,267.8 212.4,266.6" fill="#070891" stroke="#070891" stroke-width="0.35"/><polygon points="216.8,267.5 218.7,268.4 219.5,267.2 217.7,266.2" fill="#070790" stroke="#070790" stroke-width="0.35"/><polygon points="192.8,272.6 194.7,273.2 195.5,271.8 193.7,271.0" fill="#070790" stroke="#070790" stroke-width="0.35"/><polygon points="198.2,271.0 200.0,271.8 200.8,270.3 199.0,269.3" fill="#070891" stroke="#070891" stroke-width="0.35"/><polygon points="200.8,270.3 202.7,271.2 203.5,269.6 201.7,268.5" fill="#070892" stroke="#070892" stroke-width="0.35"/><polygon points="203.5,269.6 205.3,270.6 206.2,269.0 204.4,267.8" fill="#070993" stroke="#070993" stroke-width="0.35"/><polygon points="208.8,268.5 210.7,269.5 211.5,268.1 209.7,266.9" fill="#070892" stroke="#070892" stroke-width="0.35"/><polygon points="214.2,267.8 216.0,268.7 216.8,267.5 215.0,266.4" fill="#070891" stroke="#070891" stroke-width="0.35"/><polygon points="219.5,267.2 221.3,268.0 222.2,266.8 220.4,266.0" fill="#07078f" stroke="#07078f" stroke-width="0.35"/><polygon points="190.2,273.3 192.0,273.9 192.8,272.6 191.0,271.9" fill="#07078f" stroke="#07078f" stroke-width="0.35"/><polygon points="195.5,271.8 197.3,272.5 198.2,271.0 196.4,270.2" fill="#070891" stroke="#070891" stroke-width="0.35"/><polygon points="205.3,270.6 207.1,271.4 208.0,270.0 206.2,269.0" fill="#070891" stroke="#070891" stroke-width="0.35"/><polygon points="210.7,269.5 212.5,270.4 213.3,269.1 211.5,268.1" fill="#070890" stroke="#070890" stroke-width="0.35"/><polygon points="216.0,268.7 217.8,269.5 218.7,268.4 216.8,267.5" fill="#07078f" stroke="#07078f" stroke-width="0.35"/><polygon points="192.0,273.9 193.8,274.5 194.7,273.2 192.8,272.6" fill="#06078e" stroke="#06078e" stroke-width="0.35"/><polygon points="194.7,273.2 196.5,273.9 197.3,272.5 195.5,271.8" fill="#07078f" stroke="#07078f" stroke-width="0.35"/><polygon points="197.3,272.5 199.1,273.2 200.0,271.8 198.2,271.0" fill="#07078f" stroke="#07078f" stroke-width="0.35"/><polygon points="200.0,271.8 201.8,272.6 202.7,271.2 200.8,270.3" fill="#070890" stroke="#070890" stroke-width="0.35"/><polygon points="202.7,271.2 204.5,272.0 205.3,270.6 203.5,269.6" fill="#070890" stroke="#070890" stroke-width="0.35"/><polygon points="208.0,270.0 209.8,270.9 210.7,269.5 208.8,268.5" fill="#070890" stroke="#070890" stroke-width="0.35"/><polygon points="213.3,269.1 215.1,270.0 216.0,268.7 214.2,267.8" fill="#07078f" stroke="#07078f" stroke-width="0.35"/><polygon points="218.7,268.4 220.5,269.1 221.3,268.0 219.5,267.2" fill="#06078e" stroke="#06078e" stroke-width="0.35"/><polygon points="196.5,273.9 198.3,274.5 199.1,273.2 197.3,272.5" fill="#06078e" stroke="#06078e" stroke-width="0.35"/><polygon points="199.1,273.2 200.9,273.9 201.8,272.6 200.0,271.8" fill="#07078f" stroke="#07078f" stroke-width="0.35"/><polygon points="201.8,272.6 203.6,273.3 204.5,272.0 202.7,271.2" fill="#07078f" stroke="#07078f" stroke-width="0.35"/><polygon points="204.5,272.0 206.3,272.7 207.1,271.4 205.3,270.6" fill="#07078f" stroke="#07078f" stroke-width="0.35"/><polygon points="207.1,271.4 208.9,272.2 209.8,270.9 208.0,270.0" fill="#07078f" stroke="#07078f" stroke-width="0.35"/><polygon points="209.8,270.9 211.6,271.6 212.5,270.4 210.7,269.5" fill="#07078f" stroke="#07078f" stroke-width="0.35"/><polygon points="212.5,270.4 214.3,271.2 215.1,270.0 213.3,269.1" fill="#07078f" stroke="#07078f" stroke-width="0.35"/><polygon points="215.1,270.0 216.9,270.7 217.8,269.5 216.0,268.7" fill="#06078e" stroke="#06078e" stroke-width="0.35"/><polygon points="206.3,272.7 208.1,273.4 208.9,272.2 207.1,271.4" fill="#06078e" stroke="#06078e" stroke-width="0.35"/>
<text x="66.16 71.50 74.70 78.97 83.23 87.03 92.49 96.05 100.31" y="143.2" font-family="'Liberation Serif',serif" font-size="8.6" fill="#2a2a2a" transform="scale(1.000,1)">5.118E-02</text>
<text x="66.16 71.50 74.70 78.97 83.23 87.03 92.49 96.05 100.31" y="175.1" font-family="'Liberation Serif',serif" font-size="8.6" fill="#2a2a2a" transform="scale(1.000,1)">3.838E-02</text>
<text x="66.16 71.50 74.70 78.97 83.23 87.03 92.49 96.05 100.31" y="207" font-family="'Liberation Serif',serif" font-size="8.6" fill="#2a2a2a" transform="scale(1.000,1)">2.559E-02</text>
<text x="66.16 71.50 74.70 78.97 83.23 87.03 92.49 96.05 100.31" y="239" font-family="'Liberation Serif',serif" font-size="8.6" fill="#2a2a2a" transform="scale(1.000,1)">1.279E-02</text>
<text x="70.42 75.77 78.96 83.23 87.50 91.30 96.05 100.31" y="271.2" font-family="'Liberation Serif',serif" font-size="8.6" fill="#2a2a2a" transform="scale(1.000,1)">0.000E00</text>
<text x="92.03 95.38 99.45 103.51" y="284.5" font-family="'Liberation Serif',serif" font-size="8.6" fill="#2a2a2a" transform="scale(1.050,1)">-313</text>
<text x="147.50 152.64 155.64" y="299.2" font-family="'Liberation Serif',serif" font-size="8.6" fill="#2a2a2a" transform="scale(1.050,1)">0.0</text>
<text x="200.17 204.24 208.30" y="314.1" font-family="'Liberation Serif',serif" font-size="8.6" fill="#2a2a2a" transform="scale(1.050,1)">313</text>
<text x="217.17 220.52 224.59 228.65" y="314.1" font-family="'Liberation Serif',serif" font-size="8.6" fill="#2a2a2a" transform="scale(1.050,1)">-313</text>
<text x="238.84 243.98 246.97" y="284.9" font-family="'Liberation Serif',serif" font-size="8.6" fill="#2a2a2a" transform="scale(1.050,1)">0.0</text>
<text x="261.22 265.28 269.35" y="257.1" font-family="'Liberation Serif',serif" font-size="8.6" fill="#2a2a2a" transform="scale(1.050,1)">313</text>
<text x="100.6" y="323.9" font-family="'Liberation Mono',monospace" font-size="6.8" fill="#111" font-weight="bold" textLength="53.6" lengthAdjust="spacingAndGlyphs" stroke="#111" stroke-width="0.2">x-axis [micron]</text>
<text x="241.2" y="324.4" font-family="'Liberation Mono',monospace" font-size="6.8" fill="#111" font-weight="bold" textLength="53.8" lengthAdjust="spacingAndGlyphs" stroke="#111" stroke-width="0.2">y-axis [micron]</text>
<rect x="324" y="31" width="10" height="304" fill="#ffffff"/>
<line x1="324.5" y1="31" x2="324.5" y2="335" stroke="#9a9f9a" stroke-width="1"/>
<rect x="325" y="31" width="9" height="9" fill="#f4f4f4"/>
<line x1="325" y1="39.5" x2="334" y2="39.5" stroke="#a0a0a0" stroke-width="1"/>
<path d="M327.5,37 L329.5,34.5 L331.5,37 Z" fill="#111"/>
<rect x="325" y="325" width="9" height="9.5" fill="#f4f4f4"/>
<line x1="325" y1="325.5" x2="334" y2="325.5" stroke="#e0e0e0" stroke-width="1"/>
<path d="M327.3,327.8 L331.3,327.8 L329.3,330.3 Z" fill="#111"/>
<rect x="325" y="141.3" width="8.6" height="26.6" fill="#858285"/>
<rect x="33" y="335" width="291" height="9" fill="#ffffff"/>
<line x1="33" y1="335.5" x2="324" y2="335.5" stroke="#8a8a8a" stroke-width="1.2"/>
<line x1="33" y1="343.5" x2="324" y2="343.5" stroke="#b8b8b8" stroke-width="1"/>
<rect x="34" y="336" width="9" height="7" fill="#f8f8f8"/>
<line x1="43.2" y1="336" x2="43.2" y2="344" stroke="#8a8a8a" stroke-width="1.2"/>
<path d="M37.2,339.6 L39.6,337.6 L39.6,341.6 Z" fill="#111"/>
<rect x="220" y="336" width="25.5" height="7" fill="#e6e6e6"/>
<line x1="245.5" y1="336" x2="245.5" y2="343" stroke="#9a9a9a" stroke-width="1"/>
<rect x="315" y="336" width="8.6" height="7" fill="#fafafa"/>
<line x1="323.5" y1="335" x2="323.5" y2="344" stroke="#8a8a8a" stroke-width="1"/>
<rect x="318.4" y="339" width="1.6" height="1.6" fill="#111"/>
<rect x="324" y="335" width="10" height="9" fill="#f8f8f8"/>
<rect x="33" y="344" width="301" height="33" fill="#f0f0f0"/>
<circle cx="43.5" cy="357.2" r="3.2" fill="#f9f9f9" stroke="#c8c8c8" stroke-width="0.8"/>
<path d="M40.3,358 A3.2,3.2 0 0 1 44.3,354" fill="none" stroke="#6a6a6a" stroke-width="1"/>
<circle cx="43.5" cy="357.2" r="1.3" fill="#111"/>
<text x="50.9" y="359.9" font-family="'Liberation Sans',Arial,sans-serif" font-size="7.3" fill="#1e1e1e" textLength="56" lengthAdjust="spacingAndGlyphs">Solidly filled surface</text>
<circle cx="43.5" cy="370.5" r="3.2" fill="#f9f9f9" stroke="#c8c8c8" stroke-width="0.8"/>
<path d="M40.3,371.3 A3.2,3.2 0 0 1 44.3,367.3" fill="none" stroke="#6a6a6a" stroke-width="1"/>
<text x="50.9" y="373.2" font-family="'Liberation Sans',Arial,sans-serif" font-size="7.3" fill="#1e1e1e" textLength="53" lengthAdjust="spacingAndGlyphs">Deformed grid only</text>
<rect x="117.9" y="349.5" width="48.4" height="26.2" fill="none" stroke="#b9b9b9" stroke-width="1"/>
<rect x="118.9" y="350.5" width="48.4" height="26.2" fill="none" stroke="#ffffff" stroke-width="0.6"/>
<circle cx="126.7" cy="357.8" r="3.2" fill="#f9f9f9" stroke="#c8c8c8" stroke-width="0.8"/>
<path d="M123.5,358.6 A3.2,3.2 0 0 1 127.5,354.6" fill="none" stroke="#6a6a6a" stroke-width="1"/>
<circle cx="126.7" cy="357.8" r="1.3" fill="#111"/>
<text x="134" y="360.5" font-family="'Liberation Sans',Arial,sans-serif" font-size="7.3" fill="#1e1e1e" textLength="23.8" lengthAdjust="spacingAndGlyphs">Intensity</text>
<circle cx="126.7" cy="369.8" r="3.2" fill="#f9f9f9" stroke="#c8c8c8" stroke-width="0.8"/>
<path d="M123.5,370.6 A3.2,3.2 0 0 1 127.5,366.6" fill="none" stroke="#6a6a6a" stroke-width="1"/>
<text x="134" y="372.5" font-family="'Liberation Sans',Arial,sans-serif" font-size="7.3" fill="#1e1e1e" textLength="19" lengthAdjust="spacingAndGlyphs">Phase</text>
<rect x="200" y="352" width="34" height="20.6" fill="#f0f0f0"/>
<line x1="200" y1="352.5" x2="233" y2="352.5" stroke="#ffffff" stroke-width="1"/>
<line x1="200.5" y1="352" x2="200.5" y2="371.6" stroke="#ffffff" stroke-width="1"/>
<line x1="200" y1="372.1" x2="234" y2="372.1" stroke="#6b6b6b" stroke-width="1"/>
<line x1="233.5" y1="352" x2="233.5" y2="372.6" stroke="#6b6b6b" stroke-width="1"/>
<line x1="201" y1="371.1" x2="233" y2="371.1" stroke="#a0a0a0" stroke-width="1"/>
<line x1="232.5" y1="353" x2="232.5" y2="371.6" stroke="#a0a0a0" stroke-width="1"/>
<text x="216.8" y="365.2" font-family="'Liberation Sans',Arial,sans-serif" font-size="7.3" fill="#1e1e1e" text-anchor="middle" textLength="13" lengthAdjust="spacingAndGlyphs">Print</text>
<text x="265.8" y="359.3" font-family="'Liberation Sans',Arial,sans-serif" font-size="7.3" fill="#1e1e1e" textLength="62.2" lengthAdjust="spacingAndGlyphs">Select cavity iteration:</text>
<rect x="265.3" y="361.3" width="32.5" height="11.2" fill="#fff"/>
<line x1="265.3" y1="361.8" x2="297.8" y2="361.8" stroke="#808080" stroke-width="1"/>
<line x1="265.8" y1="361.3" x2="265.8" y2="372.5" stroke="#808080" stroke-width="1"/>
<line x1="266.3" y1="362.8" x2="296.8" y2="362.8" stroke="#404040" stroke-width="0.5"/>
<line x1="265.3" y1="372" x2="297.8" y2="372" stroke="#e8e8e8" stroke-width="1"/>
<line x1="297.3" y1="361.3" x2="297.3" y2="372.5" stroke="#e8e8e8" stroke-width="1"/>
<text x="267.5" y="369.8" font-family="'Liberation Sans',Arial,sans-serif" font-size="7.3" fill="#1e1e1e" textLength="7.5" lengthAdjust="spacingAndGlyphs">60</text>
<rect x="288" y="362.8" width="8.3" height="8.4" fill="#f2f2f2"/>
<line x1="288" y1="371.1" x2="296.3" y2="371.1" stroke="#8a8a8a" stroke-width="0.8"/>
<line x1="296.3" y1="362.8" x2="296.3" y2="371.1" stroke="#8a8a8a" stroke-width="0.8"/>
<path d="M290.1,366.2 L294.5,366.2 L292.3,368.6 Z" fill="#111"/>
<rect x="390.5" y="75.5" width="290" height="299" fill="#fff" stroke="#8fa9d6" stroke-width="1"/>
<rect x="391" y="76" width="289" height="24" fill="#ffffff"/>
<rect x="394.7" y="80.8" width="6" height="5" fill="none" stroke="#2a3a3a" stroke-width="1.1"/>
<line x1="394.2" y1="80.1" x2="398.2" y2="80.1" stroke="#2a3a3a" stroke-width="1.3"/>
<line x1="400.2" y1="86.6" x2="402.2" y2="86.6" stroke="#2a3a3a" stroke-width="1"/>
<text x="404" y="85.3" font-family="'Liberation Sans',Arial,sans-serif" font-size="7.6" fill="#222" textLength="56.7" lengthAdjust="spacingAndGlyphs">Laser Power Output</text>
<text x="469.4" y="85.3" font-family="'Liberation Sans',Arial,sans-serif" font-size="7.6" fill="#222" textLength="93" lengthAdjust="spacingAndGlyphs">FEA-File: c:\Laswork\FEA\FEA.out</text>
<line x1="621.2" y1="82.9" x2="627.2" y2="82.9" stroke="#222" stroke-width="1"/>
<rect x="643.5" y="79.9" width="5" height="5" fill="none" stroke="#222" stroke-width="1"/>
<line x1="666" y1="79.4" x2="672" y2="85.4" stroke="#222" stroke-width="0.9"/>
<line x1="666" y1="85.4" x2="672" y2="79.4" stroke="#222" stroke-width="0.9"/>
<text x="393" y="98.2" font-family="'Liberation Sans',Arial,sans-serif" font-size="7.6" fill="#222" textLength="9" lengthAdjust="spacingAndGlyphs">File</text>
<text x="409.4" y="98.2" font-family="'Liberation Sans',Arial,sans-serif" font-size="7.6" fill="#222" textLength="53.2" lengthAdjust="spacingAndGlyphs">Copy to Clipboard</text>
<text x="470" y="98.2" font-family="'Liberation Sans',Arial,sans-serif" font-size="7.6" fill="#222" textLength="13.2" lengthAdjust="spacingAndGlyphs">Help</text>
<rect x="391" y="100" width="289" height="274" fill="#f0f0f0"/>
<line x1="391" y1="100.6" x2="680" y2="100.6" stroke="#c4c4c4" stroke-width="1.3"/>
<text x="391.3" y="109.7" font-family="'Liberation Sans',Arial,sans-serif" font-size="6.8" fill="#202020" textLength="54.5" lengthAdjust="spacingAndGlyphs">Output mirror reflectivity</text>
<rect x="453.2" y="104" width="28.3" height="6.5" fill="#fff"/>
<line x1="453.2" y1="104.5" x2="481.5" y2="104.5" stroke="#808080" stroke-width="1"/>
<line x1="453.7" y1="104" x2="453.7" y2="110.5" stroke="#808080" stroke-width="1"/>
<line x1="454.2" y1="105.5" x2="480.5" y2="105.5" stroke="#404040" stroke-width="0.5"/>
<line x1="453.2" y1="110" x2="481.5" y2="110" stroke="#e8e8e8" stroke-width="1"/>
<line x1="481" y1="104" x2="481" y2="110.5" stroke="#e8e8e8" stroke-width="1"/>
<text x="467.4" y="109.6" font-family="'Liberation Sans',Arial,sans-serif" font-size="6.8" fill="#202020" text-anchor="middle" textLength="7.4" lengthAdjust="spacingAndGlyphs">0.9</text>
<text x="391.3" y="119.6" font-family="'Liberation Sans',Arial,sans-serif" font-size="6.8" fill="#202020" textLength="56.9" lengthAdjust="spacingAndGlyphs">Resonator roundtrip loss</text>
<rect x="453.2" y="114" width="28.3" height="6.5" fill="#fff"/>
<line x1="453.2" y1="114.5" x2="481.5" y2="114.5" stroke="#808080" stroke-width="1"/>
<line x1="453.7" y1="114" x2="453.7" y2="120.5" stroke="#808080" stroke-width="1"/>
<line x1="454.2" y1="115.5" x2="480.5" y2="115.5" stroke="#404040" stroke-width="0.5"/>
<line x1="453.2" y1="120" x2="481.5" y2="120" stroke="#e8e8e8" stroke-width="1"/>
<line x1="481" y1="114" x2="481" y2="120.5" stroke="#e8e8e8" stroke-width="1"/>
<text x="467.4" y="119.6" font-family="'Liberation Sans',Arial,sans-serif" font-size="6.8" fill="#202020" text-anchor="middle" textLength="13.5" lengthAdjust="spacingAndGlyphs">2.0E-2</text>
<text x="485.7" y="109.7" font-family="'Liberation Sans',Arial,sans-serif" font-size="6.8" fill="#202020" textLength="56.3" lengthAdjust="spacingAndGlyphs">Pump wave length [µ]</text>
<rect x="552.9" y="104" width="27.8" height="6.5" fill="#fff"/>
<line x1="552.9" y1="104.5" x2="580.7" y2="104.5" stroke="#808080" stroke-width="1"/>
<line x1="553.4" y1="104" x2="553.4" y2="110.5" stroke="#808080" stroke-width="1"/>
<line x1="553.9" y1="105.5" x2="579.7" y2="105.5" stroke="#404040" stroke-width="0.5"/>
<line x1="552.9" y1="110" x2="580.7" y2="110" stroke="#e8e8e8" stroke-width="1"/>
<line x1="580.2" y1="104" x2="580.2" y2="110.5" stroke="#e8e8e8" stroke-width="1"/>
<text x="566.5" y="109.6" font-family="'Liberation Sans',Arial,sans-serif" font-size="6.8" fill="#202020" text-anchor="middle" textLength="12" lengthAdjust="spacingAndGlyphs">0.808</text>
<text x="485.7" y="119.6" font-family="'Liberation Sans',Arial,sans-serif" font-size="6.8" fill="#202020" textLength="60.8" lengthAdjust="spacingAndGlyphs">Incident Pump Power [W]</text>
<rect x="552.9" y="114" width="27.8" height="6.5" fill="#f4f4f4"/>
<line x1="552.9" y1="114.5" x2="580.7" y2="114.5" stroke="#808080" stroke-width="1"/>
<line x1="553.4" y1="114" x2="553.4" y2="120.5" stroke="#808080" stroke-width="1"/>
<line x1="553.9" y1="115.5" x2="579.7" y2="115.5" stroke="#404040" stroke-width="0.5"/>
<line x1="552.9" y1="120" x2="580.7" y2="120" stroke="#e8e8e8" stroke-width="1"/>
<line x1="580.2" y1="114" x2="580.2" y2="120.5" stroke="#e8e8e8" stroke-width="1"/>
<text x="566.5" y="119.6" font-family="'Liberation Sans',Arial,sans-serif" font-size="6.8" fill="#a8a8a8" text-anchor="middle" textLength="5.5" lengthAdjust="spacingAndGlyphs">20</text>
<rect x="391" y="124" width="242" height="197.3" fill="#c0c0c0"/>
<line x1="391" y1="124.5" x2="633" y2="124.5" stroke="#9a9a9a" stroke-width="1"/>
<line x1="391.5" y1="124" x2="391.5" y2="321.3" stroke="#a8a8a8" stroke-width="1"/>
<line x1="632.5" y1="124" x2="632.5" y2="321.3" stroke="#e0e0e0" stroke-width="1"/>
<line x1="391" y1="320.8" x2="633" y2="320.8" stroke="#e0e0e0" stroke-width="1"/>
<line x1="427.3" y1="138.4" x2="427.3" y2="292.2" stroke="#1a1a1a" stroke-width="1"/>
<line x1="427.3" y1="292.2" x2="609.4" y2="292.2" stroke="#1a1a1a" stroke-width="1"/>
<line x1="424.3" y1="292.2" x2="429.8" y2="292.2" stroke="#1a1a1a" stroke-width="0.9"/>
<text x="339.34 342.85 344.75" y="294.4" font-family="'Liberation Serif',serif" font-size="6.4" fill="#333" transform="scale(1.220,1)">0.0</text>
<line x1="424.3" y1="276.82" x2="429.8" y2="276.82" stroke="#1a1a1a" stroke-width="0.9"/>
<text x="339.34 342.85 344.75" y="279.02" font-family="'Liberation Serif',serif" font-size="6.4" fill="#333" transform="scale(1.220,1)">0.4</text>
<line x1="424.3" y1="261.44" x2="429.8" y2="261.44" stroke="#1a1a1a" stroke-width="0.9"/>
<text x="339.34 342.85 344.75" y="263.64" font-family="'Liberation Serif',serif" font-size="6.4" fill="#333" transform="scale(1.220,1)">0.9</text>
<line x1="424.3" y1="246.06" x2="429.8" y2="246.06" stroke="#1a1a1a" stroke-width="0.9"/>
<text x="339.34 342.85 344.75" y="248.26" font-family="'Liberation Serif',serif" font-size="6.4" fill="#333" transform="scale(1.220,1)">1.3</text>
<line x1="424.3" y1="230.68" x2="429.8" y2="230.68" stroke="#1a1a1a" stroke-width="0.9"/>
<text x="339.34 342.85 344.75" y="232.88" font-family="'Liberation Serif',serif" font-size="6.4" fill="#333" transform="scale(1.220,1)">1.7</text>
<line x1="424.3" y1="215.3" x2="429.8" y2="215.3" stroke="#1a1a1a" stroke-width="0.9"/>
<text x="339.34 342.85 344.75" y="217.5" font-family="'Liberation Serif',serif" font-size="6.4" fill="#333" transform="scale(1.220,1)">2.2</text>
<line x1="424.3" y1="199.92" x2="429.8" y2="199.92" stroke="#1a1a1a" stroke-width="0.9"/>
<text x="339.34 342.85 344.75" y="202.12" font-family="'Liberation Serif',serif" font-size="6.4" fill="#333" transform="scale(1.220,1)">2.6</text>
<line x1="424.3" y1="184.54" x2="429.8" y2="184.54" stroke="#1a1a1a" stroke-width="0.9"/>
<text x="339.34 342.85 344.75" y="186.74" font-family="'Liberation Serif',serif" font-size="6.4" fill="#333" transform="scale(1.220,1)">3.0</text>
<line x1="424.3" y1="169.16" x2="429.8" y2="169.16" stroke="#1a1a1a" stroke-width="0.9"/>
<text x="339.34 342.85 344.75" y="171.36" font-family="'Liberation Serif',serif" font-size="6.4" fill="#333" transform="scale(1.220,1)">3.4</text>
<line x1="424.3" y1="153.78" x2="429.8" y2="153.78" stroke="#1a1a1a" stroke-width="0.9"/>
<text x="339.34 342.85 344.75" y="155.98" font-family="'Liberation Serif',serif" font-size="6.4" fill="#333" transform="scale(1.220,1)">3.9</text>
<line x1="424.3" y1="138.4" x2="429.8" y2="138.4" stroke="#1a1a1a" stroke-width="0.9"/>
<text x="339.34 342.85 344.75" y="140.6" font-family="'Liberation Serif',serif" font-size="6.4" fill="#333" transform="scale(1.220,1)">4.3</text>
<line x1="427.3" y1="289.4" x2="427.3" y2="294.8" stroke="#1a1a1a" stroke-width="0.9"/>
<text x="375.50 379.24 381.39 384.34" y="301.4" font-family="'Liberation Serif',serif" font-size="6.4" fill="#333" transform="scale(1.120,1)">0.00</text>
<line x1="445.51" y1="289.4" x2="445.51" y2="294.8" stroke="#1a1a1a" stroke-width="0.9"/>
<text x="391.76 395.50 397.65 400.60" y="301.4" font-family="'Liberation Serif',serif" font-size="6.4" fill="#333" transform="scale(1.120,1)">2.02</text>
<line x1="463.72" y1="289.4" x2="463.72" y2="294.8" stroke="#1a1a1a" stroke-width="0.9"/>
<text x="408.02 411.76 413.91 416.86" y="301.4" font-family="'Liberation Serif',serif" font-size="6.4" fill="#333" transform="scale(1.120,1)">4.04</text>
<line x1="481.93" y1="289.4" x2="481.93" y2="294.8" stroke="#1a1a1a" stroke-width="0.9"/>
<text x="424.27 428.02 430.17 433.11" y="301.4" font-family="'Liberation Serif',serif" font-size="6.4" fill="#333" transform="scale(1.120,1)">6.06</text>
<line x1="500.14" y1="289.4" x2="500.14" y2="294.8" stroke="#1a1a1a" stroke-width="0.9"/>
<text x="440.53 444.28 446.43 449.37" y="301.4" font-family="'Liberation Serif',serif" font-size="6.4" fill="#333" transform="scale(1.120,1)">8.08</text>
<line x1="518.35" y1="289.4" x2="518.35" y2="294.8" stroke="#1a1a1a" stroke-width="0.9"/>
<text x="455.89 458.55 462.01 463.87 466.53" y="301.4" font-family="'Liberation Serif',serif" font-size="6.4" fill="#333" transform="scale(1.120,1)">10.10</text>
<line x1="536.56" y1="289.4" x2="536.56" y2="294.8" stroke="#1a1a1a" stroke-width="0.9"/>
<text x="472.15 474.81 478.27 480.13 482.79" y="301.4" font-family="'Liberation Serif',serif" font-size="6.4" fill="#333" transform="scale(1.120,1)">12.12</text>
<line x1="554.77" y1="289.4" x2="554.77" y2="294.8" stroke="#1a1a1a" stroke-width="0.9"/>
<text x="488.41 491.07 494.53 496.39 499.05" y="301.4" font-family="'Liberation Serif',serif" font-size="6.4" fill="#333" transform="scale(1.120,1)">14.14</text>
<line x1="572.98" y1="289.4" x2="572.98" y2="294.8" stroke="#1a1a1a" stroke-width="0.9"/>
<text x="504.67 507.33 510.79 512.65 515.31" y="301.4" font-family="'Liberation Serif',serif" font-size="6.4" fill="#333" transform="scale(1.120,1)">16.16</text>
<line x1="591.19" y1="289.4" x2="591.19" y2="294.8" stroke="#1a1a1a" stroke-width="0.9"/>
<text x="520.93 523.59 527.05 528.91 531.57" y="301.4" font-family="'Liberation Serif',serif" font-size="6.4" fill="#333" transform="scale(1.120,1)">18.18</text>
<line x1="609.4" y1="289.4" x2="609.4" y2="294.8" stroke="#1a1a1a" stroke-width="0.9"/>
<text x="537.19 539.85 543.31 545.17 547.83" y="301.4" font-family="'Liberation Serif',serif" font-size="6.4" fill="#333" transform="scale(1.120,1)">20.20</text>
<text x="380.62 383.21 386.68 390.57 392.95 396.42 399.44 403.56 406.91 408.96 412.43 414.59 418.92 423.14 425.19 428.66 431.04 435.37 439.05 442.62 445.54 446.40 452.03" y="314.2" font-family="'Liberation Serif',serif" font-size="7.8" fill="#333" transform="scale(1.220,1)">Incident&#160;Pump&#160;Power&#160;[W]</text>
<text x="-36.21 -32.33 -28.90 -25.89 -22.24 -18.69 -16.66 -13.22 -10.87 -6.56 -2.91 0.64 2.02 6.10 10.19 12.55 15.77 19.85 23.18 26.08 26.92 32.53" y="0" font-family="'Liberation Serif',serif" font-size="7.8" fill="#333" transform="translate(407.6,211.3) rotate(-90) scale(1.220,1)">Laser&#160;Power&#160;Output&#160;[W]</text>
<path d="M427.3,292.2 L445.0,285.7 L463.3,269.1 L480.9,252.7 L498.9,236.4 L516.6,220.0 L535.0,204.1 L553.2,187.8 L571.0,172.0 L588.8,156.0 L607.2,140.0" fill="none" stroke="#141414" stroke-width="1.5" stroke-linejoin="round"/>
<circle cx="445.0" cy="285.7" r="1.4" fill="#555" stroke="#111" stroke-width="0.6"/>
<circle cx="463.3" cy="269.1" r="1.4" fill="#555" stroke="#111" stroke-width="0.6"/>
<circle cx="480.9" cy="252.7" r="1.4" fill="#555" stroke="#111" stroke-width="0.6"/>
<circle cx="498.9" cy="236.4" r="1.4" fill="#555" stroke="#111" stroke-width="0.6"/>
<circle cx="516.6" cy="220.0" r="1.4" fill="#555" stroke="#111" stroke-width="0.6"/>
<circle cx="535.0" cy="204.1" r="1.4" fill="#555" stroke="#111" stroke-width="0.6"/>
<circle cx="553.2" cy="187.8" r="1.4" fill="#555" stroke="#111" stroke-width="0.6"/>
<circle cx="571.0" cy="172.0" r="1.4" fill="#555" stroke="#111" stroke-width="0.6"/>
<circle cx="588.8" cy="156.0" r="1.4" fill="#555" stroke="#111" stroke-width="0.6"/>
<circle cx="607.2" cy="140.0" r="2.1" fill="#b01818" stroke="#501010" stroke-width="0.6"/>
<rect x="638.6" y="106.1" width="38.1" height="50" fill="none" stroke="#b9b9b9" stroke-width="1"/>
<rect x="639.6" y="107.1" width="38.1" height="50" fill="none" stroke="#ffffff" stroke-width="0.6"/>
<rect x="640.5" y="103" width="36" height="5.5" fill="#f0f0f0"/>
<text x="641.6" y="108.4" font-family="'Liberation Sans',Arial,sans-serif" font-size="6.6" fill="#202020" textLength="34.6" lengthAdjust="spacingAndGlyphs">Plot.. (Options)</text>
<circle cx="641.9" cy="114.1" r="2.6" fill="#f9f9f9" stroke="#c8c8c8" stroke-width="0.8"/>
<path d="M639.3,114.9 A2.6,2.6 0 0 1 642.7,111.5" fill="none" stroke="#6a6a6a" stroke-width="1"/>
<circle cx="641.9" cy="114.1" r="1.3" fill="#111"/>
<text x="647.6" y="116.6" font-family="'Liberation Sans',Arial,sans-serif" font-size="6.6" fill="#202020" textLength="24.9" lengthAdjust="spacingAndGlyphs">Curve with</text>
<rect x="640.4" y="118.7" width="24.2" height="6.7" fill="#fff"/>
<line x1="640.4" y1="119.2" x2="664.6" y2="119.2" stroke="#808080" stroke-width="1"/>
<line x1="640.9" y1="118.7" x2="640.9" y2="125.4" stroke="#808080" stroke-width="1"/>
<line x1="641.4" y1="120.2" x2="663.6" y2="120.2" stroke="#404040" stroke-width="0.5"/>
<line x1="640.4" y1="124.9" x2="664.6" y2="124.9" stroke="#e8e8e8" stroke-width="1"/>
<line x1="664.1" y1="118.7" x2="664.1" y2="125.4" stroke="#e8e8e8" stroke-width="1"/>
<text x="652.6" y="124.5" font-family="'Liberation Sans',Arial,sans-serif" font-size="6.6" fill="#202020" text-anchor="middle" textLength="5.5" lengthAdjust="spacingAndGlyphs">10</text>
<rect x="665" y="118.7" width="9" height="6.8" fill="#f0f0f0" stroke="#8a8a8a" stroke-width="0.6"/>
<line x1="665" y1="122.1" x2="674" y2="122.1" stroke="#8a8a8a" stroke-width="0.6"/>
<path d="M668.5,121.3 L669.5,119.9 L670.5,121.3 Z" fill="#222"/>
<path d="M668.5,123.0 L669.5,124.4 L670.5,123.0 Z" fill="#222"/>
<text x="640.4" y="133.4" font-family="'Liberation Sans',Arial,sans-serif" font-size="6.6" fill="#202020" textLength="23.8" lengthAdjust="spacingAndGlyphs">grid points</text>
<circle cx="641.9" cy="141.2" r="2.6" fill="#f9f9f9" stroke="#c8c8c8" stroke-width="0.8"/>
<path d="M639.3,142 A2.6,2.6 0 0 1 642.7,138.6" fill="none" stroke="#6a6a6a" stroke-width="1"/>
<text x="647.6" y="143.5" font-family="'Liberation Sans',Arial,sans-serif" font-size="6.6" fill="#202020" textLength="28.6" lengthAdjust="spacingAndGlyphs">Single Point</text>
<circle cx="641.9" cy="150.3" r="2.6" fill="#f9f9f9" stroke="#c8c8c8" stroke-width="0.8"/>
<path d="M639.3,151.1 A2.6,2.6 0 0 1 642.7,147.7" fill="none" stroke="#6a6a6a" stroke-width="1"/>
<text x="647.6" y="152.6" font-family="'Liberation Sans',Arial,sans-serif" font-size="6.6" fill="#202020" textLength="28" lengthAdjust="spacingAndGlyphs">Exper. Data</text>
<rect x="637.2" y="157.8" width="40.3" height="9.4" fill="#f0f0f0"/>
<line x1="637.2" y1="158.3" x2="676.5" y2="158.3" stroke="#ffffff" stroke-width="1"/>
<line x1="637.7" y1="157.8" x2="637.7" y2="166.2" stroke="#ffffff" stroke-width="1"/>
<line x1="637.2" y1="166.7" x2="677.5" y2="166.7" stroke="#6b6b6b" stroke-width="1"/>
<line x1="677" y1="157.8" x2="677" y2="167.2" stroke="#6b6b6b" stroke-width="1"/>
<line x1="638.2" y1="165.7" x2="676.5" y2="165.7" stroke="#a0a0a0" stroke-width="1"/>
<line x1="676" y1="158.8" x2="676" y2="166.2" stroke="#a0a0a0" stroke-width="1"/>
<text x="657.4" y="164.9" font-family="'Liberation Sans',Arial,sans-serif" font-size="6.6" fill="#202020" text-anchor="middle" textLength="13" lengthAdjust="spacingAndGlyphs">Apply</text>
<rect x="637.2" y="168.4" width="40.3" height="9" fill="#f0f0f0"/>
<line x1="637.2" y1="168.9" x2="676.5" y2="168.9" stroke="#ffffff" stroke-width="1"/>
<line x1="637.7" y1="168.4" x2="637.7" y2="176.4" stroke="#ffffff" stroke-width="1"/>
<line x1="637.2" y1="176.9" x2="677.5" y2="176.9" stroke="#6b6b6b" stroke-width="1"/>
<line x1="677" y1="168.4" x2="677" y2="177.4" stroke="#6b6b6b" stroke-width="1"/>
<line x1="638.2" y1="175.9" x2="676.5" y2="175.9" stroke="#a0a0a0" stroke-width="1"/>
<line x1="676" y1="169.4" x2="676" y2="176.4" stroke="#a0a0a0" stroke-width="1"/>
<text x="657.4" y="175.3" font-family="'Liberation Sans',Arial,sans-serif" font-size="6.6" fill="#202020" text-anchor="middle" textLength="28" lengthAdjust="spacingAndGlyphs">Apply &amp; Plot</text>
<rect x="637.2" y="179.2" width="40.3" height="8.4" fill="#f0f0f0"/>
<line x1="637.2" y1="179.7" x2="676.5" y2="179.7" stroke="#ffffff" stroke-width="1"/>
<line x1="637.7" y1="179.2" x2="637.7" y2="186.6" stroke="#ffffff" stroke-width="1"/>
<line x1="637.2" y1="187.1" x2="677.5" y2="187.1" stroke="#6b6b6b" stroke-width="1"/>
<line x1="677" y1="179.2" x2="677" y2="187.6" stroke="#6b6b6b" stroke-width="1"/>
<line x1="638.2" y1="186.1" x2="676.5" y2="186.1" stroke="#a0a0a0" stroke-width="1"/>
<line x1="676" y1="180.2" x2="676" y2="186.6" stroke="#a0a0a0" stroke-width="1"/>
<text x="657.4" y="185.8" font-family="'Liberation Sans',Arial,sans-serif" font-size="6.6" fill="#202020" text-anchor="middle" textLength="28" lengthAdjust="spacingAndGlyphs">Adjust Scale</text>
<rect x="637.2" y="189.2" width="40.3" height="9" fill="#f0f0f0"/>
<line x1="637.2" y1="189.7" x2="676.5" y2="189.7" stroke="#ffffff" stroke-width="1"/>
<line x1="637.7" y1="189.2" x2="637.7" y2="197.2" stroke="#ffffff" stroke-width="1"/>
<line x1="637.2" y1="197.7" x2="677.5" y2="197.7" stroke="#6b6b6b" stroke-width="1"/>
<line x1="677" y1="189.2" x2="677" y2="198.2" stroke="#6b6b6b" stroke-width="1"/>
<line x1="638.2" y1="196.7" x2="676.5" y2="196.7" stroke="#a0a0a0" stroke-width="1"/>
<line x1="676" y1="190.2" x2="676" y2="197.2" stroke="#a0a0a0" stroke-width="1"/>
<text x="657.4" y="196.1" font-family="'Liberation Sans',Arial,sans-serif" font-size="6.6" fill="#202020" text-anchor="middle" textLength="17" lengthAdjust="spacingAndGlyphs">Redraw</text>
<rect x="637.2" y="199.4" width="40.3" height="9" fill="#f0f0f0"/>
<line x1="637.2" y1="199.9" x2="676.5" y2="199.9" stroke="#ffffff" stroke-width="1"/>
<line x1="637.7" y1="199.4" x2="637.7" y2="207.4" stroke="#ffffff" stroke-width="1"/>
<line x1="637.2" y1="207.9" x2="677.5" y2="207.9" stroke="#6b6b6b" stroke-width="1"/>
<line x1="677" y1="199.4" x2="677" y2="208.4" stroke="#6b6b6b" stroke-width="1"/>
<line x1="638.2" y1="206.9" x2="676.5" y2="206.9" stroke="#a0a0a0" stroke-width="1"/>
<line x1="676" y1="200.4" x2="676" y2="207.4" stroke="#a0a0a0" stroke-width="1"/>
<text x="657.4" y="206.3" font-family="'Liberation Sans',Arial,sans-serif" font-size="6.6" fill="#202020" text-anchor="middle" textLength="29" lengthAdjust="spacingAndGlyphs">Clear Graphs</text>
<rect x="637.2" y="179.2" width="40.3" height="8.4" fill="none" stroke="#303030" stroke-width="0.9"/>
<text x="637.6" y="217.6" font-family="'Liberation Sans',Arial,sans-serif" font-size="6.6" fill="#202020" textLength="37.5" lengthAdjust="spacingAndGlyphs">Click into circles</text>
<text x="637.6" y="224.2" font-family="'Liberation Sans',Arial,sans-serif" font-size="6.6" fill="#202020" textLength="32" lengthAdjust="spacingAndGlyphs">to show corre-</text>
<text x="637.6" y="231" font-family="'Liberation Sans',Arial,sans-serif" font-size="6.6" fill="#202020" textLength="38" lengthAdjust="spacingAndGlyphs">sponding numer-</text>
<text x="637.6" y="237.7" font-family="'Liberation Sans',Arial,sans-serif" font-size="6.6" fill="#202020" textLength="39.5" lengthAdjust="spacingAndGlyphs">ical values below</text>
<text x="637.6" y="245.3" font-family="'Liberation Sans',Arial,sans-serif" font-size="6.6" fill="#202020" textLength="35.5" lengthAdjust="spacingAndGlyphs">X-Axis Variable</text>
<text x="637.6" y="263.3" font-family="'Liberation Sans',Arial,sans-serif" font-size="6.6" fill="#202020" textLength="38.5" lengthAdjust="spacingAndGlyphs">Laser power [W]</text>
<text x="637.6" y="280.2" font-family="'Liberation Sans',Arial,sans-serif" font-size="6.6" fill="#202020" textLength="38.5" lengthAdjust="spacingAndGlyphs">Totally absorbed</text>
<text x="637.6" y="287.2" font-family="'Liberation Sans',Arial,sans-serif" font-size="6.6" fill="#202020" textLength="38" lengthAdjust="spacingAndGlyphs">Pump Power [W]</text>
<rect x="637.2" y="247.6" width="39.2" height="7.4" fill="#e4e4e4"/>
<line x1="637.2" y1="248.1" x2="676.4" y2="248.1" stroke="#808080" stroke-width="1"/>
<line x1="637.7" y1="247.6" x2="637.7" y2="255" stroke="#808080" stroke-width="1"/>
<line x1="638.2" y1="249.1" x2="675.4" y2="249.1" stroke="#404040" stroke-width="0.5"/>
<line x1="637.2" y1="254.5" x2="676.4" y2="254.5" stroke="#e8e8e8" stroke-width="1"/>
<line x1="675.9" y1="247.6" x2="675.9" y2="255" stroke="#e8e8e8" stroke-width="1"/>
<text x="657" y="253.7" font-family="'Liberation Sans',Arial,sans-serif" font-size="6.6" fill="#202020" text-anchor="middle">20</text>
<rect x="637.2" y="264.5" width="39.2" height="7.4" fill="#e4e4e4"/>
<line x1="637.2" y1="265" x2="676.4" y2="265" stroke="#808080" stroke-width="1"/>
<line x1="637.7" y1="264.5" x2="637.7" y2="271.9" stroke="#808080" stroke-width="1"/>
<line x1="638.2" y1="266" x2="675.4" y2="266" stroke="#404040" stroke-width="0.5"/>
<line x1="637.2" y1="271.4" x2="676.4" y2="271.4" stroke="#e8e8e8" stroke-width="1"/>
<line x1="675.9" y1="264.5" x2="675.9" y2="271.9" stroke="#e8e8e8" stroke-width="1"/>
<text x="657" y="270.6" font-family="'Liberation Sans',Arial,sans-serif" font-size="6.6" fill="#202020" text-anchor="middle">4.26275</text>
<rect x="637.2" y="289.5" width="39.2" height="7.4" fill="#e4e4e4"/>
<line x1="637.2" y1="290" x2="676.4" y2="290" stroke="#808080" stroke-width="1"/>
<line x1="637.7" y1="289.5" x2="637.7" y2="296.9" stroke="#808080" stroke-width="1"/>
<line x1="638.2" y1="291" x2="675.4" y2="291" stroke="#404040" stroke-width="0.5"/>
<line x1="637.2" y1="296.4" x2="676.4" y2="296.4" stroke="#e8e8e8" stroke-width="1"/>
<line x1="675.9" y1="289.5" x2="675.9" y2="296.9" stroke="#e8e8e8" stroke-width="1"/>
<text x="657" y="295.6" font-family="'Liberation Sans',Arial,sans-serif" font-size="6.6" fill="#202020" text-anchor="middle">15.039</text>
<rect x="392.1" y="328.9" width="83.8" height="43.4" fill="none" stroke="#b9b9b9" stroke-width="1"/>
<rect x="393.1" y="329.9" width="83.8" height="43.4" fill="none" stroke="#ffffff" stroke-width="0.6"/>
<rect x="394.6" y="325.5" width="54.5" height="5.5" fill="#f0f0f0"/>
<text x="395.7" y="331" font-family="'Liberation Sans',Arial,sans-serif" font-size="6.6" fill="#202020" textLength="51.9" lengthAdjust="spacingAndGlyphs">Define X-Axis Variable</text>
<circle cx="397.6" cy="338.8" r="2.6" fill="#f9f9f9" stroke="#c8c8c8" stroke-width="0.8"/>
<path d="M395,339.6 A2.6,2.6 0 0 1 398.4,336.2" fill="none" stroke="#6a6a6a" stroke-width="1"/>
<circle cx="397.6" cy="338.8" r="1.3" fill="#111"/>
<text x="403.6" y="341.2" font-family="'Liberation Sans',Arial,sans-serif" font-size="6.6" fill="#202020" textLength="59.4" lengthAdjust="spacingAndGlyphs">Use incident pump power</text>
<circle cx="397.6" cy="349.6" r="2.6" fill="#f9f9f9" stroke="#c8c8c8" stroke-width="0.8"/>
<path d="M395,350.4 A2.6,2.6 0 0 1 398.4,347" fill="none" stroke="#a0a0a0" stroke-width="1"/>
<text x="403.6" y="351.7" font-family="'Liberation Sans',Arial,sans-serif" font-size="6.6" fill="#b8b8b8" textLength="62.6" lengthAdjust="spacingAndGlyphs">Use absorbed pump power</text>
<circle cx="397.6" cy="361" r="2.6" fill="#f9f9f9" stroke="#c8c8c8" stroke-width="0.8"/>
<path d="M395,361.8 A2.6,2.6 0 0 1 398.4,358.4" fill="none" stroke="#6a6a6a" stroke-width="1"/>
<text x="403.6" y="363.3" font-family="'Liberation Sans',Arial,sans-serif" font-size="6.6" fill="#202020" textLength="65.2" lengthAdjust="spacingAndGlyphs">Use output mirror reflectivity</text>
<rect x="480.7" y="328.9" width="76" height="43.6" fill="none" stroke="#b9b9b9" stroke-width="1"/>
<rect x="481.7" y="329.9" width="76" height="43.6" fill="none" stroke="#ffffff" stroke-width="0.6"/>
<rect x="482.6" y="325.5" width="55" height="5.5" fill="#f0f0f0"/>
<text x="483.7" y="331" font-family="'Liberation Sans',Arial,sans-serif" font-size="6.6" fill="#202020" textLength="52.6" lengthAdjust="spacingAndGlyphs">Define X- and Y-Scale</text>
<text x="483.7" y="339.6" font-family="'Liberation Sans',Arial,sans-serif" font-size="6.6" fill="#202020" textLength="28.2" lengthAdjust="spacingAndGlyphs">X-scale min.</text>
<rect x="520" y="333.5" width="34" height="7.6" fill="#fff"/>
<line x1="520" y1="334" x2="554" y2="334" stroke="#808080" stroke-width="1"/>
<line x1="520.5" y1="333.5" x2="520.5" y2="341.1" stroke="#808080" stroke-width="1"/>
<line x1="521" y1="335" x2="553" y2="335" stroke="#404040" stroke-width="0.5"/>
<line x1="520" y1="340.6" x2="554" y2="340.6" stroke="#e8e8e8" stroke-width="1"/>
<line x1="553.5" y1="333.5" x2="553.5" y2="341.1" stroke="#e8e8e8" stroke-width="1"/>
<text x="537" y="339.7" font-family="'Liberation Sans',Arial,sans-serif" font-size="6.6" fill="#202020" text-anchor="middle">1.0E-4</text>
<text x="483.7" y="349.1" font-family="'Liberation Sans',Arial,sans-serif" font-size="6.6" fill="#202020" textLength="29" lengthAdjust="spacingAndGlyphs">X-scale max.</text>
<rect x="520" y="343" width="34" height="7.6" fill="#fff"/>
<line x1="520" y1="343.5" x2="554" y2="343.5" stroke="#808080" stroke-width="1"/>
<line x1="520.5" y1="343" x2="520.5" y2="350.6" stroke="#808080" stroke-width="1"/>
<line x1="521" y1="344.5" x2="553" y2="344.5" stroke="#404040" stroke-width="0.5"/>
<line x1="520" y1="350.1" x2="554" y2="350.1" stroke="#e8e8e8" stroke-width="1"/>
<line x1="553.5" y1="343" x2="553.5" y2="350.6" stroke="#e8e8e8" stroke-width="1"/>
<text x="537" y="349.2" font-family="'Liberation Sans',Arial,sans-serif" font-size="6.6" fill="#202020" text-anchor="middle">20</text>
<text x="483.7" y="359.2" font-family="'Liberation Sans',Arial,sans-serif" font-size="6.6" fill="#202020" textLength="28.2" lengthAdjust="spacingAndGlyphs">Y-scale min.</text>
<rect x="520" y="353.1" width="34" height="7.6" fill="#fff"/>
<line x1="520" y1="353.6" x2="554" y2="353.6" stroke="#808080" stroke-width="1"/>
<line x1="520.5" y1="353.1" x2="520.5" y2="360.7" stroke="#808080" stroke-width="1"/>
<line x1="521" y1="354.6" x2="553" y2="354.6" stroke="#404040" stroke-width="0.5"/>
<line x1="520" y1="360.2" x2="554" y2="360.2" stroke="#e8e8e8" stroke-width="1"/>
<line x1="553.5" y1="353.1" x2="553.5" y2="360.7" stroke="#e8e8e8" stroke-width="1"/>
<text x="537" y="359.3" font-family="'Liberation Sans',Arial,sans-serif" font-size="6.6" fill="#202020" text-anchor="middle">0.0</text>
<text x="483.7" y="368.6" font-family="'Liberation Sans',Arial,sans-serif" font-size="6.6" fill="#202020" textLength="29" lengthAdjust="spacingAndGlyphs">Y-scale max.</text>
<rect x="520" y="362.5" width="34" height="7.6" fill="#fff"/>
<line x1="520" y1="363" x2="554" y2="363" stroke="#808080" stroke-width="1"/>
<line x1="520.5" y1="362.5" x2="520.5" y2="370.1" stroke="#808080" stroke-width="1"/>
<line x1="521" y1="364" x2="553" y2="364" stroke="#404040" stroke-width="0.5"/>
<line x1="520" y1="369.6" x2="554" y2="369.6" stroke="#e8e8e8" stroke-width="1"/>
<line x1="553.5" y1="362.5" x2="553.5" y2="370.1" stroke="#e8e8e8" stroke-width="1"/>
<text x="537" y="368.7" font-family="'Liberation Sans',Arial,sans-serif" font-size="6.6" fill="#202020" text-anchor="middle">4.26275</text>
<rect x="563.7" y="328.1" width="4.8" height="4.8" fill="#fff" stroke="#7a7a7a" stroke-width="0.9"/>
<text x="571" y="332.5" font-family="'Liberation Sans',Arial,sans-serif" font-size="6.6" fill="#202020" textLength="51.2" lengthAdjust="spacingAndGlyphs">Account for Apertures</text>
<rect x="563.7" y="338.8" width="4.8" height="4.8" fill="#fff" stroke="#7a7a7a" stroke-width="0.9"/>
<text x="571" y="343.2" font-family="'Liberation Sans',Arial,sans-serif" font-size="6.6" fill="#202020" textLength="48.5" lengthAdjust="spacingAndGlyphs">Multimode Operation</text>
<rect x="563.7" y="349.5" width="4.8" height="4.8" fill="#fff" stroke="#7a7a7a" stroke-width="0.9"/>
<text x="571" y="353.9" font-family="'Liberation Sans',Arial,sans-serif" font-size="6.6" fill="#202020" textLength="40.5" lengthAdjust="spacingAndGlyphs">Pulsed Operation</text>
<rect x="8.5" y="461.5" width="336" height="296" fill="#fff" stroke="#8fa9d6" stroke-width="1"/>
<path d="M13.0,473.3 L15.2,473.3 C16.0,473.3 16.2,465.3 16.6,465.3 C17.0,465.3 17.4,472.5 18.6,472.9 L21.0,473.3" fill="none" stroke="#d8281e" stroke-width="1.1"/>
<text x="24.8" y="472.6" font-family="'Liberation Sans',Arial,sans-serif" font-size="8.4" fill="#222" textLength="47" lengthAdjust="spacingAndGlyphs">DMA - 2D Plot</text>
<line x1="277.8" y1="470" x2="283.8" y2="470" stroke="#222" stroke-width="1"/>
<rect x="303.5" y="467" width="5" height="5" fill="none" stroke="#222" stroke-width="1"/>
<line x1="328.4" y1="466.5" x2="334.4" y2="472.5" stroke="#222" stroke-width="0.9"/>
<line x1="328.4" y1="472.5" x2="334.4" y2="466.5" stroke="#222" stroke-width="0.9"/>
<rect x="9" y="478" width="335" height="279" fill="#f0f0f0"/>
<rect x="9" y="478" width="335" height="15" fill="#eeeeee"/>
<rect x="9" y="493" width="5.5" height="264" fill="#f5f6f7"/>
<rect x="9" y="752" width="335" height="5" fill="#f3f3f3"/>
<line x1="9" y1="478.3" x2="344" y2="478.3" stroke="#e2e2e2" stroke-width="0.6"/>
<text x="125.1" y="487.8" font-family="'Liberation Mono',monospace" font-size="10.6" fill="#111" textLength="133.7" lengthAdjust="spacingAndGlyphs" stroke="#111" stroke-width="0.35">Power output over time</text>
<line x1="39.5" y1="493.5" x2="343.5" y2="493.5" stroke="#9c9c9c" stroke-width="1"/>
<rect x="37.6" y="493.2" width="2.6" height="239" fill="#9a9a9a"/>
<line x1="38.2" y1="493.5" x2="38.2" y2="732.2" stroke="#666" stroke-width="1"/>
<line x1="33.4" y1="730.2" x2="38" y2="730.2" stroke="#333" stroke-width="0.9"/>
<line x1="35.4" y1="718.5" x2="38" y2="718.5" stroke="#333" stroke-width="0.9"/>
<line x1="35.4" y1="706.81" x2="38" y2="706.81" stroke="#333" stroke-width="0.9"/>
<line x1="35.4" y1="695.12" x2="38" y2="695.12" stroke="#333" stroke-width="0.9"/>
<line x1="35.4" y1="683.42" x2="38" y2="683.42" stroke="#333" stroke-width="0.9"/>
<line x1="33.4" y1="671.73" x2="38" y2="671.73" stroke="#333" stroke-width="0.9"/>
<line x1="35.4" y1="660.03" x2="38" y2="660.03" stroke="#333" stroke-width="0.9"/>
<line x1="35.4" y1="648.34" x2="38" y2="648.34" stroke="#333" stroke-width="0.9"/>
<line x1="35.4" y1="636.64" x2="38" y2="636.64" stroke="#333" stroke-width="0.9"/>
<line x1="35.4" y1="624.95" x2="38" y2="624.95" stroke="#333" stroke-width="0.9"/>
<line x1="33.4" y1="613.25" x2="38" y2="613.25" stroke="#333" stroke-width="0.9"/>
<line x1="35.4" y1="601.56" x2="38" y2="601.56" stroke="#333" stroke-width="0.9"/>
<line x1="35.4" y1="589.86" x2="38" y2="589.86" stroke="#333" stroke-width="0.9"/>
<line x1="35.4" y1="578.17" x2="38" y2="578.17" stroke="#333" stroke-width="0.9"/>
<line x1="35.4" y1="566.47" x2="38" y2="566.47" stroke="#333" stroke-width="0.9"/>
<line x1="33.4" y1="554.78" x2="38" y2="554.78" stroke="#333" stroke-width="0.9"/>
<line x1="35.4" y1="543.08" x2="38" y2="543.08" stroke="#333" stroke-width="0.9"/>
<line x1="35.4" y1="531.38" x2="38" y2="531.38" stroke="#333" stroke-width="0.9"/>
<line x1="35.4" y1="519.69" x2="38" y2="519.69" stroke="#333" stroke-width="0.9"/>
<line x1="35.4" y1="508" x2="38" y2="508" stroke="#333" stroke-width="0.9"/>
<line x1="33.4" y1="496.3" x2="38" y2="496.3" stroke="#333" stroke-width="0.9"/>
<text x="30.4" y="732.7" font-family="'Liberation Sans',Arial,sans-serif" font-size="7.2" fill="#333" text-anchor="end" textLength="3.7" lengthAdjust="spacingAndGlyphs">0</text>
<text x="30.4" y="674.23" font-family="'Liberation Sans',Arial,sans-serif" font-size="7.2" fill="#333" text-anchor="end" textLength="7.4" lengthAdjust="spacingAndGlyphs">50</text>
<text x="30.4" y="615.75" font-family="'Liberation Sans',Arial,sans-serif" font-size="7.2" fill="#333" text-anchor="end" textLength="11.1" lengthAdjust="spacingAndGlyphs">100</text>
<text x="30.4" y="557.28" font-family="'Liberation Sans',Arial,sans-serif" font-size="7.2" fill="#333" text-anchor="end" textLength="11.1" lengthAdjust="spacingAndGlyphs">150</text>
<text x="30.4" y="498.8" font-family="'Liberation Sans',Arial,sans-serif" font-size="7.2" fill="#333" text-anchor="end" textLength="11.1" lengthAdjust="spacingAndGlyphs">200</text>
<text x="0" y="0" font-family="'Liberation Mono',monospace" font-size="8.2" fill="#111" text-anchor="middle" textLength="46" lengthAdjust="spacingAndGlyphs" stroke="#111" stroke-width="0.3" transform="translate(16.0,614) rotate(-90)">Power [W]</text>
<line x1="42.3" y1="733.2" x2="338.5" y2="733.2" stroke="#ffffff" stroke-width="1.6"/>
<line x1="42.3" y1="735.4" x2="338.3" y2="735.4" stroke="#555" stroke-width="1"/>
<line x1="42.5" y1="735.4" x2="42.5" y2="740.6" stroke="#444" stroke-width="0.9"/>
<line x1="52.35" y1="735.4" x2="52.35" y2="738.6" stroke="#444" stroke-width="0.9"/>
<line x1="62.2" y1="735.4" x2="62.2" y2="738.6" stroke="#444" stroke-width="0.9"/>
<line x1="72.05" y1="735.4" x2="72.05" y2="738.6" stroke="#444" stroke-width="0.9"/>
<line x1="81.9" y1="735.4" x2="81.9" y2="738.6" stroke="#444" stroke-width="0.9"/>
<line x1="91.75" y1="735.4" x2="91.75" y2="740.6" stroke="#444" stroke-width="0.9"/>
<line x1="101.6" y1="735.4" x2="101.6" y2="738.6" stroke="#444" stroke-width="0.9"/>
<line x1="111.45" y1="735.4" x2="111.45" y2="738.6" stroke="#444" stroke-width="0.9"/>
<line x1="121.3" y1="735.4" x2="121.3" y2="738.6" stroke="#444" stroke-width="0.9"/>
<line x1="131.15" y1="735.4" x2="131.15" y2="738.6" stroke="#444" stroke-width="0.9"/>
<line x1="141" y1="735.4" x2="141" y2="740.6" stroke="#444" stroke-width="0.9"/>
<line x1="150.85" y1="735.4" x2="150.85" y2="738.6" stroke="#444" stroke-width="0.9"/>
<line x1="160.7" y1="735.4" x2="160.7" y2="738.6" stroke="#444" stroke-width="0.9"/>
<line x1="170.55" y1="735.4" x2="170.55" y2="738.6" stroke="#444" stroke-width="0.9"/>
<line x1="180.4" y1="735.4" x2="180.4" y2="738.6" stroke="#444" stroke-width="0.9"/>
<line x1="190.25" y1="735.4" x2="190.25" y2="740.6" stroke="#444" stroke-width="0.9"/>
<line x1="200.1" y1="735.4" x2="200.1" y2="738.6" stroke="#444" stroke-width="0.9"/>
<line x1="209.95" y1="735.4" x2="209.95" y2="738.6" stroke="#444" stroke-width="0.9"/>
<line x1="219.8" y1="735.4" x2="219.8" y2="738.6" stroke="#444" stroke-width="0.9"/>
<line x1="229.65" y1="735.4" x2="229.65" y2="738.6" stroke="#444" stroke-width="0.9"/>
<line x1="239.5" y1="735.4" x2="239.5" y2="740.6" stroke="#444" stroke-width="0.9"/>
<line x1="249.35" y1="735.4" x2="249.35" y2="738.6" stroke="#444" stroke-width="0.9"/>
<line x1="259.2" y1="735.4" x2="259.2" y2="738.6" stroke="#444" stroke-width="0.9"/>
<line x1="269.05" y1="735.4" x2="269.05" y2="738.6" stroke="#444" stroke-width="0.9"/>
<line x1="278.9" y1="735.4" x2="278.9" y2="738.6" stroke="#444" stroke-width="0.9"/>
<line x1="288.75" y1="735.4" x2="288.75" y2="740.6" stroke="#444" stroke-width="0.9"/>
<line x1="298.6" y1="735.4" x2="298.6" y2="738.6" stroke="#444" stroke-width="0.9"/>
<line x1="308.45" y1="735.4" x2="308.45" y2="738.6" stroke="#444" stroke-width="0.9"/>
<line x1="318.3" y1="735.4" x2="318.3" y2="738.6" stroke="#444" stroke-width="0.9"/>
<line x1="328.15" y1="735.4" x2="328.15" y2="738.6" stroke="#444" stroke-width="0.9"/>
<line x1="338" y1="735.4" x2="338" y2="740.6" stroke="#444" stroke-width="0.9"/>
<text x="32.84" y="747.8" font-family="'Liberation Serif',serif" font-size="8" fill="#333" transform="scale(1.220,1)">0</text>
<text x="67.73 72.38 75.03 78.68" y="747.8" font-family="'Liberation Serif',serif" font-size="8" fill="#333" transform="scale(1.220,1)">0.05</text>
<text x="109.93 114.57 117.22" y="747.8" font-family="'Liberation Serif',serif" font-size="8" fill="#333" transform="scale(1.220,1)">0.1</text>
<text x="148.47 153.12 155.77 159.41" y="747.8" font-family="'Liberation Serif',serif" font-size="8" fill="#333" transform="scale(1.220,1)">0.15</text>
<text x="190.66 195.31 197.96" y="747.8" font-family="'Liberation Serif',serif" font-size="8" fill="#333" transform="scale(1.220,1)">0.2</text>
<text x="229.21 233.86 236.50 240.15" y="747.8" font-family="'Liberation Serif',serif" font-size="8" fill="#333" transform="scale(1.220,1)">0.25</text>
<text x="271.40 276.05 278.70" y="747.8" font-family="'Liberation Serif',serif" font-size="8" fill="#333" transform="scale(1.220,1)">0.3</text>
<text x="190.6" y="756.3" font-family="'Liberation Mono',monospace" font-size="8.2" fill="#111" text-anchor="middle" textLength="44" lengthAdjust="spacingAndGlyphs" stroke="#111" stroke-width="0.3">Time [ms]</text>
<path d="M42.50,730.2 L66.00,730.2 L66.80,725.6 L69.50,725.3 L69.60,718.1 L69.88,726.4 L70.16,720.7 L70.44,726.8 L70.72,717.6 L71.00,726.3 L71.28,714.4 L71.56,726.6 L71.84,718.3 L72.12,725.3 L72.40,713.0 L72.68,727.5 L72.96,712.7 L73.24,725.2 L73.52,718.4 L73.80,728.6 L74.08,720.4 L74.36,724.4 L74.64,717.9 L74.92,725.9 L75.20,712.9 L75.48,728.7 L75.76,716.5 L76.04,728.5 L76.32,713.0 L76.60,727.6 L76.88,710.4 L77.16,726.5 L77.44,715.3 L77.72,724.7 L78.00,715.9 L78.28,725.6 L78.56,715.6 L78.84,725.5 L79.12,715.1 L79.40,727.4 L79.68,719.6 L79.96,723.7 L80.24,718.3 L80.52,725.1 L80.80,713.1 L81.08,727.6 L81.36,712.7 L81.64,728.4 L81.92,717.3 L82.20,726.7 L82.48,717.9 L82.76,726.7 L83.04,718.7 L83.32,724.2 L83.60,707.1 L83.88,727.7 L84.16,718.1 L84.44,726.2 L84.72,718.6 L85.00,726.6 L85.28,708.4 L85.56,725.3 L85.84,716.6 L86.12,727.3 L86.40,708.3 L86.68,726.9 L86.96,718.1 L87.24,724.4 L87.52,708.4 L87.80,727.4 L88.08,708.0 L88.36,728.4 L88.64,716.3 L88.92,727.7 L89.20,713.7 L89.48,726.1 L89.76,708.9 L90.04,724.4 L90.32,707.8 L90.60,724.9 L90.88,707.3 L91.16,726.2 L91.44,708.7 L91.72,727.1 L92.00,717.3 L92.28,723.8 L92.56,709.7 L92.84,723.2 L93.12,708.2 L93.40,726.3 L93.68,715.9 L93.96,724.7 L94.24,705.9 L94.52,722.4 L94.80,707.7 L95.08,727.1 L95.36,714.7 L95.64,726.6 L95.92,708.7 L96.20,728.3 L96.48,705.0 L96.76,724.9 L97.04,707.5 L97.32,724.8 L97.60,709.3 L97.88,725.7 L98.16,716.2 L98.44,725.5 L98.72,711.7 L99.00,722.9 L99.28,705.9 L99.56,727.7 L99.84,715.3 L100.12,723.1 L100.40,706.9 L100.68,727.5 L100.96,713.6 L101.24,722.3 L101.52,706.4 L101.80,722.3 L102.08,715.4 L102.36,724.7 L102.64,710.1 L102.92,728.0 L103.20,703.8 L103.48,722.3 L103.76,707.8 L104.04,724.1 L104.32,708.2 L104.60,723.3 L104.88,712.8 L105.16,726.7 L105.44,707.3 L105.72,724.0 L106.00,705.5 L106.28,727.1 L106.56,712.7 L106.84,723.2 L107.12,713.5 L107.40,726.8 L107.68,716.7 L107.96,727.2 L108.24,705.0 L108.52,726.8 L108.80,712.0 L109.08,728.1 L109.36,708.6 L109.64,726.2 L109.92,713.7 L110.20,727.6 L110.48,711.4 L110.76,723.2 L111.04,717.8 L111.32,724.6 L111.60,715.2 L111.88,725.0 L112.16,708.7 L112.44,728.2 L112.72,706.4 L113.00,723.2 L113.28,715.5 L113.56,722.9 L113.84,706.8 L114.12,724.8 L114.40,713.4 L114.68,724.3 L114.96,711.7 L115.24,722.8 L115.52,708.4 L115.80,725.3 L116.08,716.2 L116.36,723.4 L116.64,716.3 L116.92,724.5 L117.20,716.8 L117.48,723.4 L117.76,712.6 L118.04,724.6 L118.32,717.9 L118.60,723.6 L118.88,713.5 L119.16,724.1 L119.44,717.7 L119.72,725.2 L120.00,715.7 L120.28,726.2 L120.56,715.4 L120.84,725.1 L121.12,709.7 L121.40,724.9 L121.68,719.0 L121.96,723.7 L122.24,716.9 L122.52,726.2 L122.80,717.0 L123.08,725.3 L123.36,714.5 L123.64,724.0 L123.92,710.4 L124.20,724.4 L124.48,709.5 L124.76,725.2 L125.04,715.1 L125.32,727.0 L125.60,717.1 L125.88,725.7 L126.16,716.5 L126.44,723.7 L126.72,713.2 L127.00,728.0 L127.28,713.8 L127.56,724.9 L127.84,712.8 L128.12,727.3 L128.40,719.1 L128.68,725.0 L128.96,715.4 L129.24,724.0 L129.52,714.4 L129.80,725.0 L130.08,713.2 L130.36,726.1 L130.64,718.6 L130.92,723.9 L131.20,719.2 L131.48,726.2 L131.76,717.0 L132.04,726.5 L132.32,712.9 L132.60,725.7 L132.88,719.0 L133.16,724.2 L133.44,718.2 L133.72,723.8 L134.00,714.7 L134.28,727.1 L134.56,716.3 L134.84,726.6 L135.12,714.3 L135.40,726.0 L135.68,717.8 L135.96,725.7 L136.24,715.4 L136.52,724.3 L136.80,720.3 L137.08,725.8 L137.36,713.1 L137.64,727.5 L137.92,719.7 L138.20,727.4 L138.48,718.7 L138.76,725.3 L139.04,715.8 L139.32,724.5 L139.60,712.7 L139.88,727.0 L140.16,717.1 L140.44,727.4 L140.72,719.7 L141.00,726.6 L141.28,714.6 L141.56,727.2 L141.84,718.5 L142.12,725.8 L142.40,718.6 L142.68,725.0 L142.96,719.8 L143.24,723.9 L143.52,719.1 L143.80,726.6 L144.08,717.8 L144.36,726.7 L144.64,713.6 L144.92,725.6 L145.20,719.4 L145.48,726.6 L145.76,716.6 L146.04,726.0 L146.32,719.4 L146.60,725.4 L146.88,719.0 L147.16,724.6 L147.44,717.7 L147.72,724.5 L148.00,720.7 L148.28,726.8 L148.56,720.9 L148.84,724.7 L149.12,716.0 L149.40,725.6 L149.68,719.4 L149.96,724.2 L150.24,718.0 L150.59,725.2 L150.94,720.8 L151.29,724.5 L151.64,721.2 L151.99,725.4 L152.34,719.7 L152.69,726.2 L153.04,720.1 L153.39,724.3 L153.74,719.8 L154.09,724.6 L154.44,717.3 L154.79,724.1 L155.14,721.4 L155.49,723.8 L155.84,719.3 L156.19,724.3 L156.54,718.2 L156.89,724.0 L157.24,720.9 L157.59,725.5 L157.94,716.7 L158.29,725.2 L158.64,719.6 L158.99,724.3 L159.34,719.3 L159.69,726.2 L160.04,720.8 L160.39,726.0 L160.74,720.9 L161.09,725.6 L161.44,718.9 L161.79,724.1 L162.14,717.9 L162.49,725.5 L162.84,719.9 L163.19,724.1 L163.54,721.2 L163.89,724.1 L164.24,721.6 L164.59,724.5 L164.94,721.7 L165.29,725.2 L165.64,719.1 L165.99,724.3 L166.34,719.6 L166.69,723.8 L167.04,720.9 L167.39,724.1 L167.74,721.6 L168.09,724.0 L168.44,720.1 L168.79,724.2 L169.14,721.7 L169.49,723.4 L169.84,720.0 L170.19,723.4 L170.54,722.0 L170.89,723.9 L171.24,721.0 L171.59,724.5 L171.94,720.8 L172.29,724.0 L172.64,720.9 L172.99,724.9 L173.34,721.9 L173.69,724.1 L174.04,720.2 L174.39,723.7 L174.74,720.6 L175.09,724.2 L175.44,721.0 L175.79,725.1 L176.14,720.4 L176.49,724.5 L176.84,721.7 L177.19,723.5 L177.54,719.2 L177.89,724.4 L178.24,718.4 L178.59,724.6 L178.94,721.2 L179.29,723.6 L179.64,719.9 L179.99,724.9 L180.34,718.5 L180.69,724.3 L181.04,721.5 L181.39,725.4 L181.74,721.0 L182.09,725.6 L182.44,718.4 L182.79,725.2 L183.14,720.6 L183.49,725.0 L183.84,719.2 L184.19,724.4 L184.54,717.8 L184.89,724.2 L185.24,717.9 L185.59,724.7 L185.94,718.7 L186.29,725.4 L186.64,720.0 L186.99,724.9 L187.34,719.3 L187.69,725.0 L188.04,719.9 L188.39,725.6 L188.74,718.3 L189.09,724.5 L189.44,720.4 L189.79,724.7 L190.14,721.2 L190.49,724.5 L190.84,721.3 L191.19,725.3 L191.54,720.9 L191.89,724.0 L192.24,721.5 L192.59,725.0 L192.94,719.4 L193.29,723.7 L193.64,719.0 L193.99,723.5 L194.34,721.6 L194.69,725.1 L195.04,719.4 L195.39,723.9 L195.74,719.6 L196.09,725.0 L196.44,721.6 L196.79,724.3 L197.14,721.5 L197.49,724.7 L197.84,720.4 L198.19,723.7 L198.54,719.0 L198.89,724.3 L199.24,721.4 L199.59,723.3 L199.94,722.0 L200.29,724.2 L200.64,721.1 L200.99,723.3 L201.34,721.2 L201.69,723.3 L202.04,720.5 L202.39,723.9 L202.74,720.3 L203.09,724.0 L203.44,721.3 L203.79,723.5 L204.14,721.3 L204.49,723.9 L204.84,720.5 L205.19,723.9 L205.54,721.8 L205.89,723.0 L206.24,722.0 L206.59,724.0 L206.94,720.0 L207.29,723.1 L207.64,721.1 L207.99,723.3 L208.34,720.8 L208.69,723.6 L209.04,721.2 L209.39,723.7 L209.74,721.4 L210.09,724.2 L210.44,721.6 L210.79,723.2 L211.14,720.5 L211.49,723.6 L211.84,721.7 L212.19,723.6 L212.54,720.6 L212.89,723.7 L213.24,721.3 L213.59,723.8 L213.94,722.0 L214.29,723.0 L214.64,721.7 L214.99,722.9 L215.34,721.6 L215.69,723.3 L216.04,721.6 L216.39,723.2 L216.74,722.1 L217.09,722.9 L217.44,721.1 L217.79,722.8 L218.14,721.8 L218.49,722.8 L218.84,721.9 L219.19,723.0 L219.54,722.0 L219.89,722.7 L220.24,721.8 L220.59,722.7 L220.94,721.9 L221.29,722.9 L221.64,721.9 L221.99,723.1 L222.34,721.4 L222.69,722.9 L223.04,720.9 L223.39,722.9 L223.74,721.8 L224.09,722.8 L224.44,721.3 L224.79,722.6 L225.14,721.8 L225.49,722.9 L225.84,721.8 L226.19,722.8 L226.54,721.7 L226.89,722.9 L227.24,722.1 L227.59,722.7 L227.94,721.9 L228.29,722.6 L228.64,722.1 L228.99,723.0 L229.34,721.8 L229.69,722.6 L230.04,721.4 L230.39,722.8 L230.74,721.1 L231.09,722.9 L231.44,721.6 L231.79,722.9 L232.14,721.4 L232.49,722.5 L232.84,721.7 L233.19,722.7 L233.54,722.1 L233.89,722.7 L234.24,722.1 L234.59,722.6 L234.94,722.0 L235.29,722.9 L235.64,721.8 L235.99,722.5 L236.34,721.2 L236.69,722.5 L237.04,721.4 L237.39,722.7 L237.74,721.4 L238.09,722.6 L238.44,721.8 L238.79,722.8 L239.14,722.0 L239.49,722.6 L239.84,721.8 L240.19,722.6 L240.54,721.6 L240.89,722.7 L241.24,721.9 L241.59,722.6 L241.94,721.6 L242.29,722.5 L242.64,721.6 L242.99,722.7 L243.34,721.6 L243.69,722.7 L244.04,721.5 L244.39,722.4 L244.74,721.7 L245.09,722.4 L245.44,721.9 L245.79,722.7 L246.14,722.1 L246.49,722.4 L246.84,721.5 L247.19,722.4 L247.54,721.7 L247.89,722.5 L248.24,722.1 L248.59,722.6 L248.94,721.8 L249.29,722.3 L249.64,721.9 L249.99,722.5 L250.34,722.1 L251.04,722.4 L251.74,721.9 L252.44,722.6 L253.14,721.9 L253.84,722.5 L254.54,721.6 L255.24,722.6 L255.94,721.8 L256.64,722.5 L257.34,721.8 L258.04,722.4 L258.74,721.8 L259.44,722.5 L260.14,721.9 L260.84,722.4 L261.54,722.0 L262.24,722.4 L262.94,722.1 L263.64,722.3 L264.34,721.9 L265.04,722.5 L265.74,721.6 L266.44,722.3 L267.14,722.0 L267.84,722.4 L268.54,721.8 L269.24,722.5 L269.94,721.9 L270.64,722.4 L271.34,721.9 L272.04,722.4 L272.74,721.9 L273.44,722.5 L274.14,721.7 L274.84,722.3 L275.54,722.0 L276.24,722.3 L276.94,721.6 L277.64,722.5 L278.34,721.7 L279.04,722.4 L279.74,721.9 L280.44,722.5 L281.14,721.9 L281.84,722.5 L282.54,721.6 L283.24,722.3 L283.94,721.9 L284.64,722.3 L285.34,721.8 L286.04,722.4 L286.74,721.7 L287.44,722.4 L288.14,722.0 L288.84,722.3 L289.54,721.6 L290.24,722.4 L290.94,722.0 L291.64,722.3 L292.34,722.0 L293.04,722.4 L293.74,721.8 L294.44,722.4 L295.14,722.0 L295.84,722.4 L296.54,721.9 L297.24,722.2 L297.94,721.8 L298.64,722.3 L299.34,722.0 L300.04,722.2 L300.74,721.8 L301.44,722.3 L302.14,721.7 L302.84,722.2 L303.54,721.7 L304.24,722.4 L304.94,721.9 L305.64,722.3 L306.34,721.9 L307.04,722.3 L307.74,722.0 L308.44,722.4 L309.14,721.8 L309.84,722.3 L310.54,721.7 L311.24,722.3 L311.94,722.0 L312.64,722.3 L313.34,721.8 L314.04,722.4 L314.74,721.8 L315.44,722.2 L316.14,721.8 L316.84,722.4 L317.54,722.0 L318.24,722.3 L318.94,722.0 L319.64,722.2 L320.34,722.0 L321.04,722.3 L321.74,722.0 L322.44,722.3 L323.14,721.8 L323.84,722.3 L324.54,722.0 L325.24,722.2 L325.94,721.8 L326.64,722.3 L327.34,721.8 L328.04,722.3 L328.74,721.9 L329.44,722.3 L330.14,721.8 L330.84,722.2 L331.54,722.0 L332.24,722.2 L332.94,722.0 L333.64,722.2 L334.34,721.8 L335.04,722.2 L335.74,722.0 L336.44,722.3 L337.14,721.7 L337.84,722.2" fill="none" stroke="#000" stroke-width="0.75"/>
<line x1="56.9" y1="513.7" x2="56.9" y2="729.5" stroke="#6a6a6a" stroke-width="1.1"/>
<line x1="58.2" y1="630.1" x2="58.2" y2="729.5" stroke="#777" stroke-width="0.8"/>
<line x1="61.6" y1="642" x2="61.6" y2="729.5" stroke="#555" stroke-width="0.9"/>
<line x1="62.3" y1="629" x2="62.3" y2="729.5" stroke="#666" stroke-width="0.9"/>
<line x1="64.6" y1="522.4" x2="64.6" y2="729.5" stroke="#666" stroke-width="1.1"/>
<line x1="69.3" y1="597" x2="69.3" y2="729.5" stroke="#6a6a6a" stroke-width="1"/>
<line x1="70.6" y1="671.8" x2="70.6" y2="729.5" stroke="#777" stroke-width="0.8"/>
<line x1="73.1" y1="594.3" x2="73.1" y2="729.5" stroke="#666" stroke-width="1"/>
<line x1="73.8" y1="640" x2="73.8" y2="729.5" stroke="#111" stroke-width="1.2"/>
<line x1="74.8" y1="658" x2="74.8" y2="729.5" stroke="#999" stroke-width="0.8"/>
<line x1="77.2" y1="628" x2="77.2" y2="729.5" stroke="#555" stroke-width="1"/>
<line x1="78.2" y1="677.7" x2="78.2" y2="729.5" stroke="#333" stroke-width="0.9"/>
<line x1="80.4" y1="682.8" x2="80.4" y2="729.5" stroke="#555" stroke-width="0.9"/>
<line x1="83.3" y1="633.4" x2="83.3" y2="729.5" stroke="#777" stroke-width="1"/>
<line x1="85.4" y1="614.5" x2="85.4" y2="729.5" stroke="#555" stroke-width="0.9"/>
<line x1="85.9" y1="669" x2="85.9" y2="729.5" stroke="#222" stroke-width="0.8"/>
<line x1="88.5" y1="704" x2="88.5" y2="729.5" stroke="#aaa" stroke-width="1.2"/>
<line x1="91.6" y1="685.4" x2="91.6" y2="729.5" stroke="#666" stroke-width="0.8"/>
<line x1="95.3" y1="673" x2="95.3" y2="729.5" stroke="#555" stroke-width="0.9"/>
<line x1="97.3" y1="694" x2="97.3" y2="729.5" stroke="#666" stroke-width="0.9"/>
<line x1="99.4" y1="690" x2="99.4" y2="729.5" stroke="#666" stroke-width="0.9"/>
<line x1="100.7" y1="700.8" x2="100.7" y2="729.5" stroke="#888" stroke-width="1"/>
<line x1="104.5" y1="695.6" x2="104.5" y2="729.5" stroke="#555" stroke-width="0.9"/>
<line x1="106.3" y1="684.5" x2="106.3" y2="729.5" stroke="#555" stroke-width="0.9"/>
<line x1="108.8" y1="692" x2="108.8" y2="729.5" stroke="#444" stroke-width="1"/>
<line x1="113" y1="709.8" x2="113" y2="729.5" stroke="#444" stroke-width="1"/>
<line x1="115.7" y1="709" x2="115.7" y2="729.5" stroke="#777" stroke-width="1"/>
<line x1="119.9" y1="704" x2="119.9" y2="729.5" stroke="#555" stroke-width="0.9"/>
<line x1="122.8" y1="702.7" x2="122.8" y2="729.5" stroke="#666" stroke-width="0.9"/>
<line x1="125.6" y1="706.2" x2="125.6" y2="729.5" stroke="#555" stroke-width="0.9"/>
<line x1="128.5" y1="709.8" x2="128.5" y2="729.5" stroke="#333" stroke-width="1"/>
<line x1="134.2" y1="716" x2="134.2" y2="729.5" stroke="#444" stroke-width="0.9"/>
<line x1="139.2" y1="711.2" x2="139.2" y2="729.5" stroke="#777" stroke-width="1"/>
<line x1="142" y1="704.8" x2="142" y2="729.5" stroke="#666" stroke-width="0.9"/>
<line x1="144.4" y1="699.8" x2="144.4" y2="729.5" stroke="#555" stroke-width="0.8"/>
<line x1="147.7" y1="716" x2="147.7" y2="729.5" stroke="#333" stroke-width="0.9"/>
<rect x="361.5" y="463.5" width="330" height="291" fill="#fff" stroke="#8fa9d6" stroke-width="1"/>
<path d="M366.0,475.3 L368.2,475.3 C369.0,475.3 369.2,467.3 369.6,467.3 C370.0,467.3 370.4,474.5 371.6,474.9 L374.0,475.3" fill="none" stroke="#d8281e" stroke-width="1.1"/>
<text x="377.6" y="474.6" font-family="'Liberation Sans',Arial,sans-serif" font-size="8.4" fill="#222" textLength="45.8" lengthAdjust="spacingAndGlyphs">DMA - 2D Plot</text>
<line x1="625.8" y1="471.7" x2="631.8" y2="471.7" stroke="#222" stroke-width="1"/>
<rect x="650.8" y="468.7" width="5" height="5" fill="none" stroke="#222" stroke-width="1"/>
<line x1="675.5" y1="468.2" x2="681.5" y2="474.2" stroke="#222" stroke-width="0.9"/>
<line x1="675.5" y1="474.2" x2="681.5" y2="468.2" stroke="#222" stroke-width="0.9"/>
<rect x="362" y="480" width="329" height="274" fill="#f0f0f0"/>
<rect x="362" y="480" width="329" height="14.3" fill="#eeeeee"/>
<rect x="362" y="494.3" width="5.5" height="259.7" fill="#f5f6f7"/>
<rect x="362" y="749" width="329" height="5" fill="#f3f3f3"/>
<line x1="362" y1="480.3" x2="691" y2="480.3" stroke="#e2e2e2" stroke-width="0.6"/>
<text x="479.7" y="489.8" font-family="'Liberation Mono',monospace" font-size="10.6" fill="#111" textLength="131.6" lengthAdjust="spacingAndGlyphs" stroke="#111" stroke-width="0.35">Power output over time</text>
<line x1="399.5" y1="494.8" x2="690.5" y2="494.8" stroke="#9c9c9c" stroke-width="1"/>
<rect x="397.6" y="494.5" width="2.4" height="237" fill="#9a9a9a"/>
<line x1="398.3" y1="494.7" x2="398.3" y2="731.5" stroke="#666" stroke-width="1"/>
<line x1="393" y1="726.4" x2="398" y2="726.4" stroke="#333" stroke-width="0.9"/>
<line x1="395.5" y1="719.4" x2="398" y2="719.4" stroke="#333" stroke-width="0.9"/>
<line x1="395.5" y1="712.41" x2="398" y2="712.41" stroke="#333" stroke-width="0.9"/>
<line x1="395.5" y1="705.41" x2="398" y2="705.41" stroke="#333" stroke-width="0.9"/>
<line x1="395.5" y1="698.41" x2="398" y2="698.41" stroke="#333" stroke-width="0.9"/>
<line x1="393" y1="691.42" x2="398" y2="691.42" stroke="#333" stroke-width="0.9"/>
<line x1="395.5" y1="684.42" x2="398" y2="684.42" stroke="#333" stroke-width="0.9"/>
<line x1="395.5" y1="677.42" x2="398" y2="677.42" stroke="#333" stroke-width="0.9"/>
<line x1="395.5" y1="670.43" x2="398" y2="670.43" stroke="#333" stroke-width="0.9"/>
<line x1="395.5" y1="663.43" x2="398" y2="663.43" stroke="#333" stroke-width="0.9"/>
<line x1="393" y1="656.43" x2="398" y2="656.43" stroke="#333" stroke-width="0.9"/>
<line x1="395.5" y1="649.44" x2="398" y2="649.44" stroke="#333" stroke-width="0.9"/>
<line x1="395.5" y1="642.44" x2="398" y2="642.44" stroke="#333" stroke-width="0.9"/>
<line x1="395.5" y1="635.44" x2="398" y2="635.44" stroke="#333" stroke-width="0.9"/>
<line x1="395.5" y1="628.45" x2="398" y2="628.45" stroke="#333" stroke-width="0.9"/>
<line x1="393" y1="621.45" x2="398" y2="621.45" stroke="#333" stroke-width="0.9"/>
<line x1="395.5" y1="614.45" x2="398" y2="614.45" stroke="#333" stroke-width="0.9"/>
<line x1="395.5" y1="607.46" x2="398" y2="607.46" stroke="#333" stroke-width="0.9"/>
<line x1="395.5" y1="600.46" x2="398" y2="600.46" stroke="#333" stroke-width="0.9"/>
<line x1="395.5" y1="593.46" x2="398" y2="593.46" stroke="#333" stroke-width="0.9"/>
<line x1="393" y1="586.47" x2="398" y2="586.47" stroke="#333" stroke-width="0.9"/>
<line x1="395.5" y1="579.47" x2="398" y2="579.47" stroke="#333" stroke-width="0.9"/>
<line x1="395.5" y1="572.47" x2="398" y2="572.47" stroke="#333" stroke-width="0.9"/>
<line x1="395.5" y1="565.48" x2="398" y2="565.48" stroke="#333" stroke-width="0.9"/>
<line x1="395.5" y1="558.48" x2="398" y2="558.48" stroke="#333" stroke-width="0.9"/>
<line x1="393" y1="551.48" x2="398" y2="551.48" stroke="#333" stroke-width="0.9"/>
<line x1="395.5" y1="544.49" x2="398" y2="544.49" stroke="#333" stroke-width="0.9"/>
<line x1="395.5" y1="537.49" x2="398" y2="537.49" stroke="#333" stroke-width="0.9"/>
<line x1="395.5" y1="530.49" x2="398" y2="530.49" stroke="#333" stroke-width="0.9"/>
<line x1="395.5" y1="523.5" x2="398" y2="523.5" stroke="#333" stroke-width="0.9"/>
<line x1="393" y1="516.5" x2="398" y2="516.5" stroke="#333" stroke-width="0.9"/>
<line x1="395.5" y1="509.5" x2="398" y2="509.5" stroke="#333" stroke-width="0.9"/>
<line x1="395.5" y1="502.51" x2="398" y2="502.51" stroke="#333" stroke-width="0.9"/>
<text x="390.8" y="728.9" font-family="'Liberation Sans',Arial,sans-serif" font-size="7.2" fill="#333" text-anchor="end" textLength="3.72" lengthAdjust="spacingAndGlyphs">0</text>
<text x="390.8" y="693.92" font-family="'Liberation Sans',Arial,sans-serif" font-size="7.2" fill="#333" text-anchor="end" textLength="14.88" lengthAdjust="spacingAndGlyphs">5000</text>
<text x="390.8" y="658.93" font-family="'Liberation Sans',Arial,sans-serif" font-size="7.2" fill="#333" text-anchor="end" textLength="18.6" lengthAdjust="spacingAndGlyphs">10000</text>
<text x="390.8" y="623.95" font-family="'Liberation Sans',Arial,sans-serif" font-size="7.2" fill="#333" text-anchor="end" textLength="18.6" lengthAdjust="spacingAndGlyphs">15000</text>
<text x="390.8" y="588.97" font-family="'Liberation Sans',Arial,sans-serif" font-size="7.2" fill="#333" text-anchor="end" textLength="18.6" lengthAdjust="spacingAndGlyphs">20000</text>
<text x="390.8" y="553.98" font-family="'Liberation Sans',Arial,sans-serif" font-size="7.2" fill="#333" text-anchor="end" textLength="18.6" lengthAdjust="spacingAndGlyphs">25000</text>
<text x="390.8" y="519" font-family="'Liberation Sans',Arial,sans-serif" font-size="7.2" fill="#333" text-anchor="end" textLength="18.6" lengthAdjust="spacingAndGlyphs">30000</text>
<text x="0" y="0" font-family="'Liberation Mono',monospace" font-size="8.2" fill="#111" text-anchor="middle" textLength="46" lengthAdjust="spacingAndGlyphs" stroke="#111" stroke-width="0.3" transform="translate(367.8,611) rotate(-90)">Power [W]</text>
<line x1="402.9" y1="729.2" x2="687.8" y2="729.2" stroke="#ffffff" stroke-width="1.6"/>
<line x1="402.9" y1="731.3" x2="687.8" y2="731.3" stroke="#555" stroke-width="1"/>
<line x1="410.13" y1="731.3" x2="410.13" y2="734.4" stroke="#444" stroke-width="0.9"/>
<line x1="427.26" y1="731.3" x2="427.26" y2="734.4" stroke="#444" stroke-width="0.9"/>
<line x1="444.4" y1="731.3" x2="444.4" y2="736" stroke="#444" stroke-width="0.9"/>
<line x1="461.54" y1="731.3" x2="461.54" y2="734.4" stroke="#444" stroke-width="0.9"/>
<line x1="478.67" y1="731.3" x2="478.67" y2="734.4" stroke="#444" stroke-width="0.9"/>
<line x1="495.81" y1="731.3" x2="495.81" y2="734.4" stroke="#444" stroke-width="0.9"/>
<line x1="512.95" y1="731.3" x2="512.95" y2="736" stroke="#444" stroke-width="0.9"/>
<line x1="530.09" y1="731.3" x2="530.09" y2="734.4" stroke="#444" stroke-width="0.9"/>
<line x1="547.23" y1="731.3" x2="547.23" y2="734.4" stroke="#444" stroke-width="0.9"/>
<line x1="564.36" y1="731.3" x2="564.36" y2="734.4" stroke="#444" stroke-width="0.9"/>
<line x1="581.5" y1="731.3" x2="581.5" y2="736" stroke="#444" stroke-width="0.9"/>
<line x1="598.64" y1="731.3" x2="598.64" y2="734.4" stroke="#444" stroke-width="0.9"/>
<line x1="615.78" y1="731.3" x2="615.78" y2="734.4" stroke="#444" stroke-width="0.9"/>
<line x1="632.91" y1="731.3" x2="632.91" y2="734.4" stroke="#444" stroke-width="0.9"/>
<line x1="650.05" y1="731.3" x2="650.05" y2="736" stroke="#444" stroke-width="0.9"/>
<line x1="667.19" y1="731.3" x2="667.19" y2="734.4" stroke="#444" stroke-width="0.9"/>
<line x1="684.32" y1="731.3" x2="684.32" y2="734.4" stroke="#444" stroke-width="0.9"/>
<text x="353.14 356.79 360.44 365.09 367.73 371.38" y="744" font-family="'Liberation Serif',serif" font-size="8" fill="#333" transform="scale(1.220,1)">198.88</text>
<text x="411.16 414.80 418.45 423.10 425.75" y="744" font-family="'Liberation Serif',serif" font-size="8" fill="#333" transform="scale(1.220,1)">198.9</text>
<text x="465.52 469.17 472.82 477.46 480.11 483.76" y="744" font-family="'Liberation Serif',serif" font-size="8" fill="#333" transform="scale(1.220,1)">198.92</text>
<text x="521.71 525.36 529.00 533.65 536.30 539.95" y="744" font-family="'Liberation Serif',serif" font-size="8" fill="#333" transform="scale(1.220,1)">198.94</text>
<text x="545.6" y="752.5" font-family="'Liberation Mono',monospace" font-size="8.2" fill="#111" text-anchor="middle" textLength="39" lengthAdjust="spacingAndGlyphs" stroke="#111" stroke-width="0.3">Time [?]</text>
<path d="M400.50,726.30 C410.42,726.30 447.67,726.32 460.00,726.30 C472.33,726.28 471.53,726.37 474.50,726.20 C477.47,726.03 476.85,725.97 477.80,725.30 C478.75,724.63 479.43,723.83 480.20,722.20 C480.97,720.57 481.77,718.70 482.40,715.50 C483.03,712.30 483.50,708.42 484.00,703.00 C484.50,697.58 484.95,691.00 485.40,683.00 C485.85,675.00 486.30,665.17 486.70,655.00 C487.10,644.83 487.45,633.67 487.80,622.00 C488.15,610.33 488.40,597.33 488.80,585.00 C489.20,572.67 489.70,559.17 490.20,548.00 C490.70,536.83 491.30,525.33 491.80,518.00 C492.30,510.67 492.80,506.80 493.20,504.00 C493.60,501.20 493.85,501.28 494.20,501.20 C494.55,501.12 494.87,501.20 495.30,503.50 C495.73,505.80 496.17,508.88 496.80,515.00 C497.43,521.12 498.27,532.20 499.10,540.20 C499.93,548.20 500.92,555.45 501.80,563.00 C502.68,570.55 503.53,577.33 504.40,585.50 C505.27,593.67 506.10,602.58 507.00,612.00 C507.90,621.42 508.93,633.50 509.80,642.00 C510.67,650.50 511.33,656.67 512.20,663.00 C513.07,669.33 513.95,674.95 515.00,680.00 C516.05,685.05 517.33,689.72 518.50,693.30 C519.67,696.88 520.82,699.17 522.00,701.50 C523.18,703.83 524.18,705.42 525.60,707.30 C527.02,709.18 528.65,711.12 530.50,712.80 C532.35,714.48 534.53,716.07 536.70,717.40 C538.87,718.73 541.03,719.80 543.50,720.80 C545.97,721.80 548.75,722.72 551.50,723.40 C554.25,724.08 556.92,724.52 560.00,724.90 C563.08,725.28 565.83,725.50 570.00,725.70 C574.17,725.90 578.33,726.00 585.00,726.10 C591.67,726.20 592.42,726.27 610.00,726.30 C627.58,726.33 677.08,726.30 690.50,726.30" fill="none" stroke="#1a1a1a" stroke-width="0.9"/>
<text x="107.6" y="430.5" font-family="'Liberation Serif','Noto Serif CJK SC',serif" font-size="17.2" fill="#1a1a1a" textLength="157.2" lengthAdjust="spacingAndGlyphs">谐振腔输出模式分析</text>
<text x="456.3" y="430.5" font-family="'Liberation Serif','Noto Serif CJK SC',serif" font-size="17.2" fill="#1a1a1a" textLength="121.2" lengthAdjust="spacingAndGlyphs">激光器能量输出</text>
<text x="126.9" y="804.6" font-family="'Liberation Serif','Noto Serif CJK SC',serif" font-size="17.2" fill="#1a1a1a" textLength="121.8" lengthAdjust="spacingAndGlyphs">多模式竞争分析</text>
<text x="471.2" y="801" font-family="'Liberation Serif','Noto Serif CJK SC',serif" font-size="17.2" fill="#1a1a1a" textLength="107.6" lengthAdjust="spacingAndGlyphs">调 Q 过程分析</text>
<path d="M356,20 V24.3 H351.5" fill="none" stroke="#6e6e6e" stroke-width="1.1"/>
<path d="M350,24.3 L353,22 L353,26.6 Z" fill="#6e6e6e"/>
<path d="M356,46 V50.3 H351.5" fill="none" stroke="#6e6e6e" stroke-width="1.1"/>
<path d="M350,50.3 L353,48 L353,52.6 Z" fill="#6e6e6e"/>
<path d="M356,388 V392.3 H351.5" fill="none" stroke="#6e6e6e" stroke-width="1.1"/>
<path d="M350,392.3 L353,390 L353,394.6 Z" fill="#6e6e6e"/>
<path d="M15,414 V418.3 H10.5" fill="none" stroke="#6e6e6e" stroke-width="1.1"/>
<path d="M9,418.3 L12,416 L12,420.6 Z" fill="#6e6e6e"/>
<path d="M15,440 V444.3 H10.5" fill="none" stroke="#6e6e6e" stroke-width="1.1"/>
<path d="M9,444.3 L12,442 L12,446.6 Z" fill="#6e6e6e"/>
<path d="M15,778 V782.3 H10.5" fill="none" stroke="#6e6e6e" stroke-width="1.1"/>
<path d="M9,782.3 L12,780 L12,784.6 Z" fill="#6e6e6e"/>
<path d="M15,804 V808.3 H10.5" fill="none" stroke="#6e6e6e" stroke-width="1.1"/>
<path d="M9,808.3 L12,806 L12,810.6 Z" fill="#6e6e6e"/>
<path d="M272,423 V427.3 H267.5" fill="none" stroke="#6e6e6e" stroke-width="1.1"/>
<path d="M266,427.3 L269,425 L269,429.6 Z" fill="#6e6e6e"/>
<path d="M584.5,424 V428.3 H580" fill="none" stroke="#6e6e6e" stroke-width="1.1"/>
<path d="M578.5,428.3 L581.5,426 L581.5,430.6 Z" fill="#6e6e6e"/>
<path d="M256,797.5 V801.8 H251.5" fill="none" stroke="#6e6e6e" stroke-width="1.1"/>
<path d="M250,801.8 L253,799.5 L253,804.1 Z" fill="#6e6e6e"/>
<path d="M585,794.5 V798.8 H580.5" fill="none" stroke="#6e6e6e" stroke-width="1.1"/>
<path d="M579,798.8 L582,796.5 L582,801.1 Z" fill="#6e6e6e"/>
<path d="M698,748.5 V752.8 H693.5" fill="none" stroke="#6e6e6e" stroke-width="1.1"/>
<path d="M692,752.8 L695,750.5 L695,755.1 Z" fill="#6e6e6e"/>
</svg>
</body></html>
